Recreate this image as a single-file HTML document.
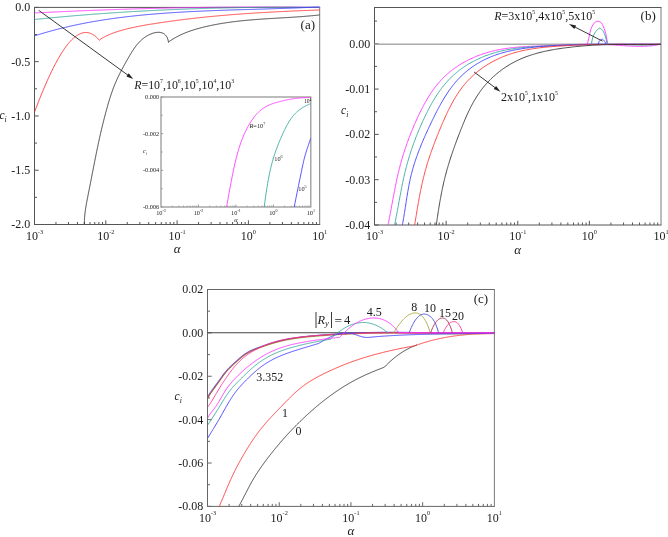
<!DOCTYPE html>
<html><head><meta charset="utf-8"><title>Figure</title>
<style>
html,body{margin:0;padding:0;background:#fff;}
body{width:668px;height:537px;overflow:hidden;}
svg{display:block;}
svg text{font-family:'Liberation Serif', serif;fill:#1a1a1a;}
</style></head><body>
<svg width="668" height="537" viewBox="0 0 668 537">
<rect width="668" height="537" fill="#fff"/>
<defs>
<clipPath id="clipA"><rect x="34.5" y="5.4" width="285.2" height="219.1"/></clipPath>
<clipPath id="clipB"><rect x="374.5" y="5.5" width="286.5" height="219.5"/></clipPath>
<clipPath id="clipC"><rect x="207.5" y="287.5" width="286.9" height="218.9"/></clipPath>
<clipPath id="clipI"><rect x="161" y="97" width="149.8" height="110"/></clipPath>
</defs>
<path d="M34,7.4 H320.2" stroke="#555555" stroke-width="1.0" fill="none"/>
<path d="M34.5,7.4 V224.5" stroke="#555555" stroke-width="1.0" fill="none"/>
<path d="M34,224.5 H320.2" stroke="#555555" stroke-width="1.0" fill="none"/>
<path d="M319.7,7.4 V224.5" stroke="#7a7a7a" stroke-width="1.0" fill="none"/>
<line x1="34.5" y1="7.4" x2="38.7" y2="7.4" stroke="#555555" stroke-width="1.0"/>
<line x1="34.5" y1="34.54" x2="37" y2="34.54" stroke="#555555" stroke-width="1.0"/>
<line x1="34.5" y1="61.67" x2="38.7" y2="61.67" stroke="#555555" stroke-width="1.0"/>
<line x1="34.5" y1="88.81" x2="37" y2="88.81" stroke="#555555" stroke-width="1.0"/>
<line x1="34.5" y1="115.95" x2="38.7" y2="115.95" stroke="#555555" stroke-width="1.0"/>
<line x1="34.5" y1="143.09" x2="37" y2="143.09" stroke="#555555" stroke-width="1.0"/>
<line x1="34.5" y1="170.22" x2="38.7" y2="170.22" stroke="#555555" stroke-width="1.0"/>
<line x1="34.5" y1="197.36" x2="37" y2="197.36" stroke="#555555" stroke-width="1.0"/>
<line x1="34.5" y1="224.5" x2="38.7" y2="224.5" stroke="#555555" stroke-width="1.0"/>
<line x1="55.96" y1="224.5" x2="55.96" y2="222" stroke="#555555" stroke-width="1.0"/>
<line x1="68.52" y1="224.5" x2="68.52" y2="222" stroke="#555555" stroke-width="1.0"/>
<line x1="77.43" y1="224.5" x2="77.43" y2="222" stroke="#555555" stroke-width="1.0"/>
<line x1="84.34" y1="224.5" x2="84.34" y2="222" stroke="#555555" stroke-width="1.0"/>
<line x1="89.98" y1="224.5" x2="89.98" y2="222" stroke="#555555" stroke-width="1.0"/>
<line x1="94.76" y1="224.5" x2="94.76" y2="222" stroke="#555555" stroke-width="1.0"/>
<line x1="98.89" y1="224.5" x2="98.89" y2="222" stroke="#555555" stroke-width="1.0"/>
<line x1="102.54" y1="224.5" x2="102.54" y2="222" stroke="#555555" stroke-width="1.0"/>
<line x1="105.8" y1="224.5" x2="105.8" y2="220.3" stroke="#555555" stroke-width="1.0"/>
<line x1="127.26" y1="224.5" x2="127.26" y2="222" stroke="#555555" stroke-width="1.0"/>
<line x1="139.82" y1="224.5" x2="139.82" y2="222" stroke="#555555" stroke-width="1.0"/>
<line x1="148.73" y1="224.5" x2="148.73" y2="222" stroke="#555555" stroke-width="1.0"/>
<line x1="155.64" y1="224.5" x2="155.64" y2="222" stroke="#555555" stroke-width="1.0"/>
<line x1="161.28" y1="224.5" x2="161.28" y2="222" stroke="#555555" stroke-width="1.0"/>
<line x1="166.06" y1="224.5" x2="166.06" y2="222" stroke="#555555" stroke-width="1.0"/>
<line x1="170.19" y1="224.5" x2="170.19" y2="222" stroke="#555555" stroke-width="1.0"/>
<line x1="173.84" y1="224.5" x2="173.84" y2="222" stroke="#555555" stroke-width="1.0"/>
<line x1="177.1" y1="224.5" x2="177.1" y2="220.3" stroke="#555555" stroke-width="1.0"/>
<line x1="198.56" y1="224.5" x2="198.56" y2="222" stroke="#555555" stroke-width="1.0"/>
<line x1="211.12" y1="224.5" x2="211.12" y2="222" stroke="#555555" stroke-width="1.0"/>
<line x1="220.03" y1="224.5" x2="220.03" y2="222" stroke="#555555" stroke-width="1.0"/>
<line x1="226.94" y1="224.5" x2="226.94" y2="222" stroke="#555555" stroke-width="1.0"/>
<line x1="232.58" y1="224.5" x2="232.58" y2="222" stroke="#555555" stroke-width="1.0"/>
<line x1="237.36" y1="224.5" x2="237.36" y2="222" stroke="#555555" stroke-width="1.0"/>
<line x1="241.49" y1="224.5" x2="241.49" y2="222" stroke="#555555" stroke-width="1.0"/>
<line x1="245.14" y1="224.5" x2="245.14" y2="222" stroke="#555555" stroke-width="1.0"/>
<line x1="248.4" y1="224.5" x2="248.4" y2="220.3" stroke="#555555" stroke-width="1.0"/>
<line x1="269.86" y1="224.5" x2="269.86" y2="222" stroke="#555555" stroke-width="1.0"/>
<line x1="282.42" y1="224.5" x2="282.42" y2="222" stroke="#555555" stroke-width="1.0"/>
<line x1="291.33" y1="224.5" x2="291.33" y2="222" stroke="#555555" stroke-width="1.0"/>
<line x1="298.24" y1="224.5" x2="298.24" y2="222" stroke="#555555" stroke-width="1.0"/>
<line x1="303.88" y1="224.5" x2="303.88" y2="222" stroke="#555555" stroke-width="1.0"/>
<line x1="308.66" y1="224.5" x2="308.66" y2="222" stroke="#555555" stroke-width="1.0"/>
<line x1="312.79" y1="224.5" x2="312.79" y2="222" stroke="#555555" stroke-width="1.0"/>
<line x1="316.44" y1="224.5" x2="316.44" y2="222" stroke="#555555" stroke-width="1.0"/>
<text transform="translate(30.2,11.3) scale(0.952,1)" font-size="12.6" text-anchor="end" >0.0</text>
<text transform="translate(30.2,65.58) scale(0.952,1)" font-size="12.6" text-anchor="end" >-0.5</text>
<text transform="translate(30.2,119.85) scale(0.952,1)" font-size="12.6" text-anchor="end" >-1.0</text>
<text transform="translate(30.2,174.12) scale(0.952,1)" font-size="12.6" text-anchor="end" >-1.5</text>
<text transform="translate(30.2,228.4) scale(0.952,1)" font-size="12.6" text-anchor="end" >-2.0</text>
<path d="M374,7.5 H661.5" stroke="#555555" stroke-width="1.0" fill="none"/>
<path d="M374.5,7.5 V225" stroke="#555555" stroke-width="1.0" fill="none"/>
<path d="M374,225 H661.5" stroke="#555555" stroke-width="1.0" fill="none"/>
<path d="M661,7.5 V225" stroke="#7a7a7a" stroke-width="1.0" fill="none"/>
<line x1="374.5" y1="21.09" x2="377" y2="21.09" stroke="#555555" stroke-width="1.0"/>
<line x1="374.5" y1="43.75" x2="378.7" y2="43.75" stroke="#555555" stroke-width="1.0"/>
<line x1="374.5" y1="66.41" x2="377" y2="66.41" stroke="#555555" stroke-width="1.0"/>
<line x1="374.5" y1="89.06" x2="378.7" y2="89.06" stroke="#555555" stroke-width="1.0"/>
<line x1="374.5" y1="111.72" x2="377" y2="111.72" stroke="#555555" stroke-width="1.0"/>
<line x1="374.5" y1="134.38" x2="378.7" y2="134.38" stroke="#555555" stroke-width="1.0"/>
<line x1="374.5" y1="157.03" x2="377" y2="157.03" stroke="#555555" stroke-width="1.0"/>
<line x1="374.5" y1="179.69" x2="378.7" y2="179.69" stroke="#555555" stroke-width="1.0"/>
<line x1="374.5" y1="202.34" x2="377" y2="202.34" stroke="#555555" stroke-width="1.0"/>
<line x1="374.5" y1="225" x2="378.7" y2="225" stroke="#555555" stroke-width="1.0"/>
<line x1="396.06" y1="225" x2="396.06" y2="222.5" stroke="#555555" stroke-width="1.0"/>
<line x1="408.67" y1="225" x2="408.67" y2="222.5" stroke="#555555" stroke-width="1.0"/>
<line x1="417.62" y1="225" x2="417.62" y2="222.5" stroke="#555555" stroke-width="1.0"/>
<line x1="424.56" y1="225" x2="424.56" y2="222.5" stroke="#555555" stroke-width="1.0"/>
<line x1="430.24" y1="225" x2="430.24" y2="222.5" stroke="#555555" stroke-width="1.0"/>
<line x1="435.03" y1="225" x2="435.03" y2="222.5" stroke="#555555" stroke-width="1.0"/>
<line x1="439.18" y1="225" x2="439.18" y2="222.5" stroke="#555555" stroke-width="1.0"/>
<line x1="442.85" y1="225" x2="442.85" y2="222.5" stroke="#555555" stroke-width="1.0"/>
<line x1="446.12" y1="225" x2="446.12" y2="220.8" stroke="#555555" stroke-width="1.0"/>
<line x1="467.69" y1="225" x2="467.69" y2="222.5" stroke="#555555" stroke-width="1.0"/>
<line x1="480.3" y1="225" x2="480.3" y2="222.5" stroke="#555555" stroke-width="1.0"/>
<line x1="489.25" y1="225" x2="489.25" y2="222.5" stroke="#555555" stroke-width="1.0"/>
<line x1="496.19" y1="225" x2="496.19" y2="222.5" stroke="#555555" stroke-width="1.0"/>
<line x1="501.86" y1="225" x2="501.86" y2="222.5" stroke="#555555" stroke-width="1.0"/>
<line x1="506.66" y1="225" x2="506.66" y2="222.5" stroke="#555555" stroke-width="1.0"/>
<line x1="510.81" y1="225" x2="510.81" y2="222.5" stroke="#555555" stroke-width="1.0"/>
<line x1="514.47" y1="225" x2="514.47" y2="222.5" stroke="#555555" stroke-width="1.0"/>
<line x1="517.75" y1="225" x2="517.75" y2="220.8" stroke="#555555" stroke-width="1.0"/>
<line x1="539.31" y1="225" x2="539.31" y2="222.5" stroke="#555555" stroke-width="1.0"/>
<line x1="551.92" y1="225" x2="551.92" y2="222.5" stroke="#555555" stroke-width="1.0"/>
<line x1="560.87" y1="225" x2="560.87" y2="222.5" stroke="#555555" stroke-width="1.0"/>
<line x1="567.81" y1="225" x2="567.81" y2="222.5" stroke="#555555" stroke-width="1.0"/>
<line x1="573.49" y1="225" x2="573.49" y2="222.5" stroke="#555555" stroke-width="1.0"/>
<line x1="578.28" y1="225" x2="578.28" y2="222.5" stroke="#555555" stroke-width="1.0"/>
<line x1="582.43" y1="225" x2="582.43" y2="222.5" stroke="#555555" stroke-width="1.0"/>
<line x1="586.1" y1="225" x2="586.1" y2="222.5" stroke="#555555" stroke-width="1.0"/>
<line x1="589.38" y1="225" x2="589.38" y2="220.8" stroke="#555555" stroke-width="1.0"/>
<line x1="610.94" y1="225" x2="610.94" y2="222.5" stroke="#555555" stroke-width="1.0"/>
<line x1="623.55" y1="225" x2="623.55" y2="222.5" stroke="#555555" stroke-width="1.0"/>
<line x1="632.5" y1="225" x2="632.5" y2="222.5" stroke="#555555" stroke-width="1.0"/>
<line x1="639.44" y1="225" x2="639.44" y2="222.5" stroke="#555555" stroke-width="1.0"/>
<line x1="645.11" y1="225" x2="645.11" y2="222.5" stroke="#555555" stroke-width="1.0"/>
<line x1="649.91" y1="225" x2="649.91" y2="222.5" stroke="#555555" stroke-width="1.0"/>
<line x1="654.06" y1="225" x2="654.06" y2="222.5" stroke="#555555" stroke-width="1.0"/>
<line x1="657.72" y1="225" x2="657.72" y2="222.5" stroke="#555555" stroke-width="1.0"/>
<text transform="translate(370.3,47.65) scale(0.952,1)" font-size="12.6" text-anchor="end" >0.00</text>
<text transform="translate(370.3,92.96) scale(0.952,1)" font-size="12.6" text-anchor="end" >-0.01</text>
<text transform="translate(370.3,138.28) scale(0.952,1)" font-size="12.6" text-anchor="end" >-0.02</text>
<text transform="translate(370.3,183.59) scale(0.952,1)" font-size="12.6" text-anchor="end" >-0.03</text>
<text transform="translate(370.3,228.9) scale(0.952,1)" font-size="12.6" text-anchor="end" >-0.04</text>
<path d="M207,289.5 H494.9" stroke="#666666" stroke-width="1.0" fill="none"/>
<path d="M207.5,289.5 V506.4" stroke="#666666" stroke-width="1.0" fill="none"/>
<path d="M207,506.4 H494.9" stroke="#666666" stroke-width="1.0" fill="none"/>
<path d="M494.4,289.5 V506.4" stroke="#7a7a7a" stroke-width="1.0" fill="none"/>
<line x1="207.5" y1="289.5" x2="211.7" y2="289.5" stroke="#666666" stroke-width="1.0"/>
<line x1="207.5" y1="311.19" x2="210" y2="311.19" stroke="#666666" stroke-width="1.0"/>
<line x1="207.5" y1="332.88" x2="211.7" y2="332.88" stroke="#666666" stroke-width="1.0"/>
<line x1="207.5" y1="354.57" x2="210" y2="354.57" stroke="#666666" stroke-width="1.0"/>
<line x1="207.5" y1="376.26" x2="211.7" y2="376.26" stroke="#666666" stroke-width="1.0"/>
<line x1="207.5" y1="397.95" x2="210" y2="397.95" stroke="#666666" stroke-width="1.0"/>
<line x1="207.5" y1="419.64" x2="211.7" y2="419.64" stroke="#666666" stroke-width="1.0"/>
<line x1="207.5" y1="441.33" x2="210" y2="441.33" stroke="#666666" stroke-width="1.0"/>
<line x1="207.5" y1="463.02" x2="211.7" y2="463.02" stroke="#666666" stroke-width="1.0"/>
<line x1="207.5" y1="484.71" x2="210" y2="484.71" stroke="#666666" stroke-width="1.0"/>
<line x1="207.5" y1="506.4" x2="211.7" y2="506.4" stroke="#666666" stroke-width="1.0"/>
<line x1="229.09" y1="506.4" x2="229.09" y2="503.9" stroke="#666666" stroke-width="1.0"/>
<line x1="241.72" y1="506.4" x2="241.72" y2="503.9" stroke="#666666" stroke-width="1.0"/>
<line x1="250.68" y1="506.4" x2="250.68" y2="503.9" stroke="#666666" stroke-width="1.0"/>
<line x1="257.63" y1="506.4" x2="257.63" y2="503.9" stroke="#666666" stroke-width="1.0"/>
<line x1="263.31" y1="506.4" x2="263.31" y2="503.9" stroke="#666666" stroke-width="1.0"/>
<line x1="268.11" y1="506.4" x2="268.11" y2="503.9" stroke="#666666" stroke-width="1.0"/>
<line x1="272.27" y1="506.4" x2="272.27" y2="503.9" stroke="#666666" stroke-width="1.0"/>
<line x1="275.94" y1="506.4" x2="275.94" y2="503.9" stroke="#666666" stroke-width="1.0"/>
<line x1="279.23" y1="506.4" x2="279.23" y2="502.2" stroke="#666666" stroke-width="1.0"/>
<line x1="300.82" y1="506.4" x2="300.82" y2="503.9" stroke="#666666" stroke-width="1.0"/>
<line x1="313.45" y1="506.4" x2="313.45" y2="503.9" stroke="#666666" stroke-width="1.0"/>
<line x1="322.41" y1="506.4" x2="322.41" y2="503.9" stroke="#666666" stroke-width="1.0"/>
<line x1="329.36" y1="506.4" x2="329.36" y2="503.9" stroke="#666666" stroke-width="1.0"/>
<line x1="335.04" y1="506.4" x2="335.04" y2="503.9" stroke="#666666" stroke-width="1.0"/>
<line x1="339.84" y1="506.4" x2="339.84" y2="503.9" stroke="#666666" stroke-width="1.0"/>
<line x1="344" y1="506.4" x2="344" y2="503.9" stroke="#666666" stroke-width="1.0"/>
<line x1="347.67" y1="506.4" x2="347.67" y2="503.9" stroke="#666666" stroke-width="1.0"/>
<line x1="350.95" y1="506.4" x2="350.95" y2="502.2" stroke="#666666" stroke-width="1.0"/>
<line x1="372.54" y1="506.4" x2="372.54" y2="503.9" stroke="#666666" stroke-width="1.0"/>
<line x1="385.17" y1="506.4" x2="385.17" y2="503.9" stroke="#666666" stroke-width="1.0"/>
<line x1="394.13" y1="506.4" x2="394.13" y2="503.9" stroke="#666666" stroke-width="1.0"/>
<line x1="401.08" y1="506.4" x2="401.08" y2="503.9" stroke="#666666" stroke-width="1.0"/>
<line x1="406.76" y1="506.4" x2="406.76" y2="503.9" stroke="#666666" stroke-width="1.0"/>
<line x1="411.56" y1="506.4" x2="411.56" y2="503.9" stroke="#666666" stroke-width="1.0"/>
<line x1="415.72" y1="506.4" x2="415.72" y2="503.9" stroke="#666666" stroke-width="1.0"/>
<line x1="419.39" y1="506.4" x2="419.39" y2="503.9" stroke="#666666" stroke-width="1.0"/>
<line x1="422.67" y1="506.4" x2="422.67" y2="502.2" stroke="#666666" stroke-width="1.0"/>
<line x1="444.27" y1="506.4" x2="444.27" y2="503.9" stroke="#666666" stroke-width="1.0"/>
<line x1="456.9" y1="506.4" x2="456.9" y2="503.9" stroke="#666666" stroke-width="1.0"/>
<line x1="465.86" y1="506.4" x2="465.86" y2="503.9" stroke="#666666" stroke-width="1.0"/>
<line x1="472.81" y1="506.4" x2="472.81" y2="503.9" stroke="#666666" stroke-width="1.0"/>
<line x1="478.49" y1="506.4" x2="478.49" y2="503.9" stroke="#666666" stroke-width="1.0"/>
<line x1="483.29" y1="506.4" x2="483.29" y2="503.9" stroke="#666666" stroke-width="1.0"/>
<line x1="487.45" y1="506.4" x2="487.45" y2="503.9" stroke="#666666" stroke-width="1.0"/>
<line x1="491.12" y1="506.4" x2="491.12" y2="503.9" stroke="#666666" stroke-width="1.0"/>
<text transform="translate(203.3,293.4) scale(0.952,1)" font-size="12.6" text-anchor="end" >0.02</text>
<text transform="translate(203.3,336.78) scale(0.952,1)" font-size="12.6" text-anchor="end" >0.00</text>
<text transform="translate(203.3,380.16) scale(0.952,1)" font-size="12.6" text-anchor="end" >-0.02</text>
<text transform="translate(203.3,423.54) scale(0.952,1)" font-size="12.6" text-anchor="end" >-0.04</text>
<text transform="translate(203.3,466.92) scale(0.952,1)" font-size="12.6" text-anchor="end" >-0.06</text>
<text transform="translate(203.3,510.3) scale(0.952,1)" font-size="12.6" text-anchor="end" >-0.08</text>
<text transform="translate(34.5,240.2) scale(0.952,1)" font-size="12.6" text-anchor="middle" >10<tspan baseline-shift="6.2" font-size="6.6">-3</tspan></text>
<text transform="translate(105.8,240.2) scale(0.952,1)" font-size="12.6" text-anchor="middle" >10<tspan baseline-shift="6.2" font-size="6.6">-2</tspan></text>
<text transform="translate(177.1,240.2) scale(0.952,1)" font-size="12.6" text-anchor="middle" >10<tspan baseline-shift="6.2" font-size="6.6">-1</tspan></text>
<text transform="translate(248.4,240.2) scale(0.952,1)" font-size="12.6" text-anchor="middle" >10<tspan baseline-shift="6.2" font-size="6.6">0</tspan></text>
<text transform="translate(319.7,240.2) scale(0.952,1)" font-size="12.6" text-anchor="middle" >10<tspan baseline-shift="6.2" font-size="6.6">1</tspan></text>
<text x="177.1" y="253.1" font-size="13" text-anchor="middle" font-style="italic" >&#945;</text>
<text transform="translate(374.5,240.4) scale(0.952,1)" font-size="12.6" text-anchor="middle" >10<tspan baseline-shift="6.2" font-size="6.6">-3</tspan></text>
<text transform="translate(446.12,240.4) scale(0.952,1)" font-size="12.6" text-anchor="middle" >10<tspan baseline-shift="6.2" font-size="6.6">-2</tspan></text>
<text transform="translate(517.75,240.4) scale(0.952,1)" font-size="12.6" text-anchor="middle" >10<tspan baseline-shift="6.2" font-size="6.6">-1</tspan></text>
<text transform="translate(589.38,240.4) scale(0.952,1)" font-size="12.6" text-anchor="middle" >10<tspan baseline-shift="6.2" font-size="6.6">0</tspan></text>
<text transform="translate(661,240.4) scale(0.952,1)" font-size="12.6" text-anchor="middle" >10<tspan baseline-shift="6.2" font-size="6.6">1</tspan></text>
<text x="517.75" y="253.6" font-size="13" text-anchor="middle" font-style="italic" >&#945;</text>
<text transform="translate(207.5,521.5) scale(0.952,1)" font-size="12.6" text-anchor="middle" >10<tspan baseline-shift="6.2" font-size="6.6">-3</tspan></text>
<text transform="translate(279.23,521.5) scale(0.952,1)" font-size="12.6" text-anchor="middle" >10<tspan baseline-shift="6.2" font-size="6.6">-2</tspan></text>
<text transform="translate(350.95,521.5) scale(0.952,1)" font-size="12.6" text-anchor="middle" >10<tspan baseline-shift="6.2" font-size="6.6">-1</tspan></text>
<text transform="translate(422.67,521.5) scale(0.952,1)" font-size="12.6" text-anchor="middle" >10<tspan baseline-shift="6.2" font-size="6.6">0</tspan></text>
<text transform="translate(494.4,521.5) scale(0.952,1)" font-size="12.6" text-anchor="middle" >10<tspan baseline-shift="6.2" font-size="6.6">1</tspan></text>
<text x="350.95" y="535" font-size="13" text-anchor="middle" font-style="italic" >&#945;</text>
<text x="-0.5" y="118.9" font-size="11.5" font-style="italic">c<tspan baseline-shift="-3.2" font-size="7.8">i</tspan></text>
<text x="341.1" y="113.7" font-size="11.5" font-style="italic">c<tspan baseline-shift="-3.2" font-size="7.8">i</tspan></text>
<text x="174.6" y="400.3" font-size="11.5" font-style="italic">c<tspan baseline-shift="-3.2" font-size="7.8">i</tspan></text>
<text x="300.6" y="28.7" font-size="13" text-anchor="start" >(a)</text>
<text x="640.6" y="20.4" font-size="13" text-anchor="start" >(b)</text>
<text x="473.7" y="302.5" font-size="13" text-anchor="start" >(c)</text>
<g clip-path="url(#clipA)">
<path d="M34.5,12.96 L35.17,12.93 L35.84,12.89 L36.51,12.86 L37.18,12.83 L37.85,12.79 L38.52,12.76 L39.19,12.73 L39.86,12.69 L40.53,12.66 L41.19,12.63 L41.86,12.59 L42.53,12.56 L43.2,12.53 L43.87,12.5 L44.54,12.46 L45.21,12.43 L45.88,12.4 L46.55,12.37 L47.22,12.33 L47.89,12.3 L48.56,12.27 L49.23,12.24 L49.9,12.21 L50.57,12.18 L51.24,12.14 L51.91,12.11 L52.58,12.08 L53.25,12.05 L53.92,12.02 L54.58,11.99 L55.25,11.96 L55.92,11.92 L56.59,11.89 L57.26,11.86 L57.93,11.83 L58.6,11.8 L59.27,11.77 L59.94,11.74 L60.61,11.71 L61.28,11.68 L61.95,11.65 L62.62,11.62 L63.29,11.59 L63.96,11.56 L64.63,11.53 L65.3,11.5 L65.97,11.47 L66.64,11.44 L67.3,11.41 L67.97,11.38 L68.64,11.35 L69.31,11.32 L69.98,11.29 L70.65,11.26 L71.32,11.24 L71.99,11.21 L72.66,11.18 L73.33,11.15 L74,11.12 L74.67,11.09 L75.34,11.06 L76.01,11.04 L76.68,11.01 L77.35,10.98 L78.02,10.95 L78.69,10.92 L79.36,10.9 L80.02,10.87 L80.69,10.84 L81.36,10.81 L82.03,10.78 L82.7,10.76 L83.37,10.73 L84.04,10.7 L84.71,10.68 L85.38,10.65 L86.05,10.62 L86.72,10.6 L87.39,10.57 L88.06,10.54 L88.73,10.52 L89.4,10.49 L90.07,10.46 L90.74,10.44 L91.41,10.41 L92.08,10.38 L92.75,10.36 L93.41,10.33 L94.08,10.31 L94.75,10.28 L95.42,10.25 L96.09,10.23 L96.76,10.2 L97.43,10.18 L98.1,10.15 L98.77,10.13 L99.44,10.1 L100.11,10.08 L100.78,10.05 L101.45,10.03 L102.12,10 L102.79,9.98 L103.46,9.95 L104.13,9.93 L104.8,9.91 L105.47,9.88 L106.13,9.86 L106.8,9.83 L107.47,9.81 L108.14,9.79 L108.81,9.76 L109.48,9.74 L110.15,9.72 L110.82,9.69 L111.49,9.67 L112.16,9.65 L112.83,9.62 L113.5,9.6 L114.17,9.58 L114.84,9.55 L115.51,9.53 L116.18,9.51 L116.85,9.49 L117.52,9.46 L118.19,9.44 L118.85,9.42 L119.52,9.4 L120.19,9.37 L120.86,9.35 L121.53,9.33 L122.2,9.31 L122.87,9.29 L123.54,9.26 L124.21,9.24 L124.88,9.22 L125.55,9.2 L126.22,9.18 L126.89,9.16 L127.56,9.14 L128.23,9.12 L128.9,9.1 L129.57,9.07 L130.24,9.05 L130.91,9.03 L131.58,9.01 L132.24,8.99 L132.91,8.97 L133.58,8.95 L134.25,8.93 L134.92,8.91 L135.59,8.89 L136.26,8.87 L136.93,8.85 L137.6,8.83 L138.27,8.81 L138.94,8.8 L139.61,8.78 L140.28,8.76 L140.95,8.74 L141.62,8.72 L142.29,8.7 L142.96,8.68 L143.63,8.66 L144.3,8.64 L144.96,8.63 L145.63,8.61 L146.3,8.59 L146.97,8.57 L147.64,8.55 L148.31,8.53 L148.98,8.52 L149.65,8.5 L150.32,8.48 L150.99,8.46 L151.66,8.45 L152.33,8.43 L153,8.41 L153.67,8.39 L154.34,8.38 L155.01,8.36 L155.68,8.34 L156.35,8.33 L157.02,8.31 L157.68,8.29 L158.35,8.28 L159.02,8.26 L159.69,8.24 L160.36,8.23 L161.03,8.21 L161.7,8.2 L162.37,8.18 L163.04,8.17 L163.71,8.15 L164.38,8.13 L165.05,8.12 L165.72,8.1 L166.39,8.09 L167.06,8.07 L167.73,8.06 L168.4,8.04 L169.07,8.03 L169.74,8.01 L170.41,8 L171.07,7.98 L171.74,7.97 L172.41,7.96 L173.08,7.94 L173.75,7.93 L174.42,7.91 L175.09,7.9 L175.76,7.89 L176.43,7.87 L177.1,7.86 L177.77,7.84 L178.44,7.83 L179.11,7.82 L179.78,7.8 L180.45,7.79 L181.12,7.78 L181.79,7.77 L182.46,7.75 L183.13,7.74 L183.79,7.73 L184.46,7.72 L185.13,7.7 L185.8,7.69 L186.47,7.68 L187.14,7.67 L187.81,7.65 L188.48,7.64 L189.15,7.63 L189.82,7.62 L190.49,7.61 L191.16,7.6 L191.83,7.58 L192.5,7.57 L193.17,7.56 L193.84,7.55 L194.51,7.54 L195.18,7.53 L195.85,7.52 L196.52,7.51 L197.18,7.5 L197.85,7.49 L198.52,7.48 L199.19,7.47 L199.86,7.46 L200.53,7.45 L201.2,7.44 L201.87,7.43 L202.54,7.42 L203.21,7.41 L203.88,7.4 L204.55,7.39 L205.22,7.38 L205.89,7.37 L206.56,7.36 L207.23,7.35 L207.9,7.34 L208.57,7.34 L209.24,7.33 L209.9,7.32 L210.57,7.31 L211.24,7.3 L211.91,7.29 L212.58,7.29 L213.25,7.28 L213.92,7.27 L214.59,7.26 L215.26,7.25 L215.93,7.25 L216.6,7.24 L217.27,7.23 L217.94,7.23 L218.61,7.22 L219.28,7.21 L219.95,7.2 L220.62,7.2 L221.29,7.19 L221.96,7.18 L222.62,7.18 L223.29,7.17 L223.96,7.17 L224.63,7.16 L225.3,7.15 L225.97,7.15 L226.64,7.14 L227.31,7.14 L227.98,7.13 L228.65,7.13 L229.32,7.12 L229.99,7.11 L230.66,7.11 L231.33,7.1 L232,7.1 L232.67,7.09 L233.34,7.09 L234.01,7.09 L234.68,7.08 L235.35,7.08 L236.01,7.07 L236.68,7.07 L237.35,7.06 L238.02,7.06 L238.69,7.06 L239.36,7.05 L240.03,7.05 L240.7,7.05 L241.37,7.04 L242.04,7.04 L242.71,7.04 L243.38,7.03 L244.05,7.03 L244.72,7.03 L245.39,7.02 L246.06,7.02 L246.73,7.02 L247.4,7.02 L248.07,7.01 L248.73,7.01 L249.4,7.01 L250.07,7.01 L250.74,7.01 L251.41,7 L252.08,7 L252.75,7 L253.42,7 L254.09,7 L254.76,7 L255.43,7 L256.1,6.99 L256.77,6.99 L257.44,6.99 L258.11,6.99 L258.78,6.99 L259.45,6.99 L260.12,6.99 L260.79,6.99 L261.45,6.99 L262.12,6.99 L262.79,6.99 L263.46,6.99 L264.13,6.99 L264.8,6.99 L265.47,6.99 L266.14,6.99 L266.81,6.99 L267.48,7 L268.15,7 L268.82,7 L269.49,7 L270.16,7 L270.83,7 L271.5,7 L272.17,7.01 L272.84,7.01 L273.51,7.01 L274.18,7.01 L274.84,7.01 L275.51,7.02 L276.18,7.02 L276.85,7.02 L277.52,7.02 L278.19,7.03 L278.86,7.03 L279.53,7.03 L280.2,7.03 L280.87,7.04 L281.54,7.04 L282.21,7.04 L282.88,7.05 L283.55,7.05 L284.22,7.06 L284.89,7.06 L285.56,7.06 L286.23,7.07 L286.9,7.07 L287.56,7.08 L288.23,7.08 L288.9,7.09 L289.57,7.09 L290.24,7.09 L290.91,7.1 L291.58,7.1 L292.25,7.11 L292.92,7.12 L293.59,7.12 L294.26,7.13 L294.93,7.13 L295.6,7.14 L296.27,7.14 L296.94,7.15 L297.61,7.16 L298.28,7.16 L298.95,7.17 L299.62,7.17 L300.28,7.18 L300.95,7.19 L301.62,7.19 L302.29,7.2 L302.96,7.21 L303.63,7.22 L304.3,7.22 L304.97,7.23 L305.64,7.24 L306.31,7.24 L306.98,7.25 L307.65,7.26 L308.32,7.27 L308.99,7.28 L309.66,7.28 L310.33,7.29 L311,7.3 L311.67,7.31 L312.34,7.32 L313.01,7.33 L313.67,7.34 L314.34,7.34 L315.01,7.35 L315.68,7.36 L316.35,7.37 L317.02,7.38 L317.69,7.39 L318.36,7.4 L319.03,7.41 L319.7,7.42" fill="none" stroke="#ff33ff" stroke-width="0.9" stroke-linejoin="round" />
<path d="M34.5,19.5 L35.17,19.43 L35.84,19.36 L36.51,19.29 L37.18,19.23 L37.85,19.16 L38.52,19.09 L39.19,19.02 L39.86,18.95 L40.53,18.89 L41.19,18.82 L41.86,18.75 L42.53,18.69 L43.2,18.62 L43.87,18.55 L44.54,18.49 L45.21,18.42 L45.88,18.35 L46.55,18.29 L47.22,18.22 L47.89,18.16 L48.56,18.09 L49.23,18.03 L49.9,17.96 L50.57,17.9 L51.24,17.84 L51.91,17.77 L52.58,17.71 L53.25,17.65 L53.92,17.58 L54.58,17.52 L55.25,17.46 L55.92,17.39 L56.59,17.33 L57.26,17.27 L57.93,17.21 L58.6,17.15 L59.27,17.08 L59.94,17.02 L60.61,16.96 L61.28,16.9 L61.95,16.84 L62.62,16.78 L63.29,16.72 L63.96,16.66 L64.63,16.6 L65.3,16.54 L65.97,16.48 L66.64,16.42 L67.3,16.36 L67.97,16.31 L68.64,16.25 L69.31,16.19 L69.98,16.13 L70.65,16.07 L71.32,16.01 L71.99,15.96 L72.66,15.9 L73.33,15.84 L74,15.79 L74.67,15.73 L75.34,15.67 L76.01,15.62 L76.68,15.56 L77.35,15.51 L78.02,15.45 L78.69,15.39 L79.36,15.34 L80.02,15.28 L80.69,15.23 L81.36,15.18 L82.03,15.12 L82.7,15.07 L83.37,15.01 L84.04,14.96 L84.71,14.91 L85.38,14.85 L86.05,14.8 L86.72,14.75 L87.39,14.69 L88.06,14.64 L88.73,14.59 L89.4,14.54 L90.07,14.49 L90.74,14.43 L91.41,14.38 L92.08,14.33 L92.75,14.28 L93.41,14.23 L94.08,14.18 L94.75,14.13 L95.42,14.08 L96.09,14.03 L96.76,13.98 L97.43,13.93 L98.1,13.88 L98.77,13.83 L99.44,13.78 L100.11,13.73 L100.78,13.68 L101.45,13.63 L102.12,13.59 L102.79,13.54 L103.46,13.49 L104.13,13.44 L104.8,13.4 L105.47,13.35 L106.13,13.3 L106.8,13.25 L107.47,13.21 L108.14,13.16 L108.81,13.11 L109.48,13.07 L110.15,13.02 L110.82,12.98 L111.49,12.93 L112.16,12.89 L112.83,12.84 L113.5,12.8 L114.17,12.75 L114.84,12.71 L115.51,12.66 L116.18,12.62 L116.85,12.58 L117.52,12.53 L118.19,12.49 L118.85,12.45 L119.52,12.4 L120.19,12.36 L120.86,12.32 L121.53,12.27 L122.2,12.23 L122.87,12.19 L123.54,12.15 L124.21,12.11 L124.88,12.06 L125.55,12.02 L126.22,11.98 L126.89,11.94 L127.56,11.9 L128.23,11.86 L128.9,11.82 L129.57,11.78 L130.24,11.74 L130.91,11.7 L131.58,11.66 L132.24,11.62 L132.91,11.58 L133.58,11.54 L134.25,11.5 L134.92,11.46 L135.59,11.43 L136.26,11.39 L136.93,11.35 L137.6,11.31 L138.27,11.27 L138.94,11.24 L139.61,11.2 L140.28,11.16 L140.95,11.13 L141.62,11.09 L142.29,11.05 L142.96,11.02 L143.63,10.98 L144.3,10.94 L144.96,10.91 L145.63,10.87 L146.3,10.84 L146.97,10.8 L147.64,10.77 L148.31,10.73 L148.98,10.7 L149.65,10.66 L150.32,10.63 L150.99,10.59 L151.66,10.56 L152.33,10.53 L153,10.49 L153.67,10.46 L154.34,10.43 L155.01,10.39 L155.68,10.36 L156.35,10.33 L157.02,10.3 L157.68,10.26 L158.35,10.23 L159.02,10.2 L159.69,10.17 L160.36,10.14 L161.03,10.1 L161.7,10.07 L162.37,10.04 L163.04,10.01 L163.71,9.98 L164.38,9.95 L165.05,9.92 L165.72,9.89 L166.39,9.86 L167.06,9.83 L167.73,9.8 L168.4,9.77 L169.07,9.74 L169.74,9.71 L170.41,9.68 L171.07,9.66 L171.74,9.63 L172.41,9.6 L173.08,9.57 L173.75,9.54 L174.42,9.52 L175.09,9.49 L175.76,9.46 L176.43,9.43 L177.1,9.41 L177.77,9.38 L178.44,9.35 L179.11,9.33 L179.78,9.3 L180.45,9.27 L181.12,9.25 L181.79,9.22 L182.46,9.2 L183.13,9.17 L183.79,9.15 L184.46,9.12 L185.13,9.1 L185.8,9.07 L186.47,9.05 L187.14,9.02 L187.81,9 L188.48,8.97 L189.15,8.95 L189.82,8.93 L190.49,8.9 L191.16,8.88 L191.83,8.86 L192.5,8.83 L193.17,8.81 L193.84,8.79 L194.51,8.77 L195.18,8.74 L195.85,8.72 L196.52,8.7 L197.18,8.68 L197.85,8.66 L198.52,8.63 L199.19,8.61 L199.86,8.59 L200.53,8.57 L201.2,8.55 L201.87,8.53 L202.54,8.51 L203.21,8.49 L203.88,8.47 L204.55,8.45 L205.22,8.43 L205.89,8.41 L206.56,8.39 L207.23,8.37 L207.9,8.35 L208.57,8.33 L209.24,8.31 L209.9,8.3 L210.57,8.28 L211.24,8.26 L211.91,8.24 L212.58,8.22 L213.25,8.21 L213.92,8.19 L214.59,8.17 L215.26,8.15 L215.93,8.14 L216.6,8.12 L217.27,8.1 L217.94,8.09 L218.61,8.07 L219.28,8.05 L219.95,8.04 L220.62,8.02 L221.29,8.01 L221.96,7.99 L222.62,7.98 L223.29,7.96 L223.96,7.95 L224.63,7.93 L225.3,7.92 L225.97,7.9 L226.64,7.89 L227.31,7.87 L227.98,7.86 L228.65,7.85 L229.32,7.83 L229.99,7.82 L230.66,7.8 L231.33,7.79 L232,7.78 L232.67,7.77 L233.34,7.75 L234.01,7.74 L234.68,7.73 L235.35,7.72 L236.01,7.7 L236.68,7.69 L237.35,7.68 L238.02,7.67 L238.69,7.66 L239.36,7.64 L240.03,7.63 L240.7,7.62 L241.37,7.61 L242.04,7.6 L242.71,7.59 L243.38,7.58 L244.05,7.57 L244.72,7.56 L245.39,7.55 L246.06,7.54 L246.73,7.53 L247.4,7.52 L248.07,7.51 L248.73,7.5 L249.4,7.49 L250.07,7.49 L250.74,7.48 L251.41,7.47 L252.08,7.46 L252.75,7.45 L253.42,7.44 L254.09,7.44 L254.76,7.43 L255.43,7.42 L256.1,7.41 L256.77,7.41 L257.44,7.4 L258.11,7.39 L258.78,7.39 L259.45,7.38 L260.12,7.37 L260.79,7.37 L261.45,7.36 L262.12,7.35 L262.79,7.35 L263.46,7.34 L264.13,7.34 L264.8,7.33 L265.47,7.33 L266.14,7.32 L266.81,7.32 L267.48,7.31 L268.15,7.31 L268.82,7.3 L269.49,7.3 L270.16,7.29 L270.83,7.29 L271.5,7.29 L272.17,7.28 L272.84,7.28 L273.51,7.28 L274.18,7.27 L274.84,7.27 L275.51,7.27 L276.18,7.26 L276.85,7.26 L277.52,7.26 L278.19,7.26 L278.86,7.25 L279.53,7.25 L280.2,7.25 L280.87,7.25 L281.54,7.25 L282.21,7.25 L282.88,7.24 L283.55,7.24 L284.22,7.24 L284.89,7.24 L285.56,7.24 L286.23,7.24 L286.9,7.24 L287.56,7.24 L288.23,7.24 L288.9,7.24 L289.57,7.24 L290.24,7.24 L290.91,7.24 L291.58,7.24 L292.25,7.24 L292.92,7.24 L293.59,7.24 L294.26,7.24 L294.93,7.25 L295.6,7.25 L296.27,7.25 L296.94,7.25 L297.61,7.25 L298.28,7.25 L298.95,7.26 L299.62,7.26 L300.28,7.26 L300.95,7.26 L301.62,7.27 L302.29,7.27 L302.96,7.27 L303.63,7.28 L304.3,7.28 L304.97,7.28 L305.64,7.29 L306.31,7.29 L306.98,7.29 L307.65,7.3 L308.32,7.3 L308.99,7.31 L309.66,7.31 L310.33,7.31 L311,7.32 L311.67,7.32 L312.34,7.33 L313.01,7.33 L313.67,7.34 L314.34,7.34 L315.01,7.35 L315.68,7.36 L316.35,7.36 L317.02,7.37 L317.69,7.37 L318.36,7.38 L319.03,7.39 L319.7,7.39" fill="none" stroke="#33a89c" stroke-width="0.9" stroke-linejoin="round" />
<path d="M34.5,35.87 L35.17,35.65 L35.84,35.44 L36.51,35.23 L37.18,35.02 L37.85,34.82 L38.52,34.61 L39.19,34.4 L39.86,34.2 L40.53,34 L41.19,33.8 L41.86,33.6 L42.53,33.4 L43.2,33.2 L43.87,33 L44.54,32.81 L45.21,32.61 L45.88,32.42 L46.55,32.23 L47.22,32.04 L47.89,31.85 L48.56,31.66 L49.23,31.48 L49.9,31.29 L50.57,31.11 L51.24,30.92 L51.91,30.74 L52.58,30.56 L53.25,30.38 L53.92,30.2 L54.58,30.03 L55.25,29.85 L55.92,29.68 L56.59,29.5 L57.26,29.33 L57.93,29.16 L58.6,28.99 L59.27,28.82 L59.94,28.65 L60.61,28.48 L61.28,28.32 L61.95,28.15 L62.62,27.99 L63.29,27.83 L63.96,27.67 L64.63,27.5 L65.3,27.35 L65.97,27.19 L66.64,27.03 L67.3,26.87 L67.97,26.72 L68.64,26.57 L69.31,26.41 L69.98,26.26 L70.65,26.11 L71.32,25.96 L71.99,25.81 L72.66,25.66 L73.33,25.52 L74,25.37 L74.67,25.23 L75.34,25.08 L76.01,24.94 L76.68,24.8 L77.35,24.66 L78.02,24.52 L78.69,24.38 L79.36,24.24 L80.02,24.11 L80.69,23.97 L81.36,23.84 L82.03,23.7 L82.7,23.57 L83.37,23.44 L84.04,23.31 L84.71,23.18 L85.38,23.05 L86.05,22.92 L86.72,22.8 L87.39,22.67 L88.06,22.54 L88.73,22.42 L89.4,22.3 L90.07,22.18 L90.74,22.05 L91.41,21.93 L92.08,21.81 L92.75,21.7 L93.41,21.58 L94.08,21.46 L94.75,21.34 L95.42,21.23 L96.09,21.12 L96.76,21 L97.43,20.89 L98.1,20.78 L98.77,20.67 L99.44,20.56 L100.11,20.45 L100.78,20.34 L101.45,20.23 L102.12,20.13 L102.79,20.02 L103.46,19.92 L104.13,19.81 L104.8,19.71 L105.47,19.61 L106.13,19.5 L106.8,19.4 L107.47,19.3 L108.14,19.2 L108.81,19.11 L109.48,19.01 L110.15,18.91 L110.82,18.81 L111.49,18.72 L112.16,18.62 L112.83,18.53 L113.5,18.44 L114.17,18.35 L114.84,18.25 L115.51,18.16 L116.18,18.07 L116.85,17.98 L117.52,17.9 L118.19,17.81 L118.85,17.72 L119.52,17.63 L120.19,17.55 L120.86,17.46 L121.53,17.38 L122.2,17.3 L122.87,17.21 L123.54,17.13 L124.21,17.05 L124.88,16.97 L125.55,16.89 L126.22,16.81 L126.89,16.73 L127.56,16.65 L128.23,16.57 L128.9,16.5 L129.57,16.42 L130.24,16.34 L130.91,16.27 L131.58,16.2 L132.24,16.12 L132.91,16.05 L133.58,15.98 L134.25,15.9 L134.92,15.83 L135.59,15.76 L136.26,15.69 L136.93,15.62 L137.6,15.55 L138.27,15.49 L138.94,15.42 L139.61,15.35 L140.28,15.28 L140.95,15.22 L141.62,15.15 L142.29,15.09 L142.96,15.02 L143.63,14.96 L144.3,14.9 L144.96,14.83 L145.63,14.77 L146.3,14.71 L146.97,14.65 L147.64,14.59 L148.31,14.53 L148.98,14.47 L149.65,14.41 L150.32,14.35 L150.99,14.29 L151.66,14.24 L152.33,14.18 L153,14.12 L153.67,14.07 L154.34,14.01 L155.01,13.96 L155.68,13.9 L156.35,13.85 L157.02,13.79 L157.68,13.74 L158.35,13.69 L159.02,13.64 L159.69,13.58 L160.36,13.53 L161.03,13.48 L161.7,13.43 L162.37,13.38 L163.04,13.33 L163.71,13.28 L164.38,13.23 L165.05,13.19 L165.72,13.14 L166.39,13.09 L167.06,13.04 L167.73,13 L168.4,12.95 L169.07,12.9 L169.74,12.86 L170.41,12.81 L171.07,12.77 L171.74,12.72 L172.41,12.68 L173.08,12.64 L173.75,12.59 L174.42,12.55 L175.09,12.51 L175.76,12.47 L176.43,12.43 L177.1,12.39 L177.77,12.34 L178.44,12.3 L179.11,12.26 L179.78,12.22 L180.45,12.18 L181.12,12.15 L181.79,12.11 L182.46,12.07 L183.13,12.03 L183.79,11.99 L184.46,11.96 L185.13,11.92 L185.8,11.88 L186.47,11.85 L187.14,11.81 L187.81,11.77 L188.48,11.74 L189.15,11.7 L189.82,11.67 L190.49,11.64 L191.16,11.6 L191.83,11.57 L192.5,11.53 L193.17,11.5 L193.84,11.47 L194.51,11.44 L195.18,11.4 L195.85,11.37 L196.52,11.34 L197.18,11.31 L197.85,11.28 L198.52,11.25 L199.19,11.21 L199.86,11.18 L200.53,11.15 L201.2,11.12 L201.87,11.09 L202.54,11.07 L203.21,11.04 L203.88,11.01 L204.55,10.98 L205.22,10.95 L205.89,10.92 L206.56,10.89 L207.23,10.87 L207.9,10.84 L208.57,10.81 L209.24,10.78 L209.9,10.76 L210.57,10.73 L211.24,10.7 L211.91,10.68 L212.58,10.65 L213.25,10.63 L213.92,10.6 L214.59,10.58 L215.26,10.55 L215.93,10.52 L216.6,10.5 L217.27,10.48 L217.94,10.45 L218.61,10.43 L219.28,10.4 L219.95,10.38 L220.62,10.35 L221.29,10.33 L221.96,10.31 L222.62,10.28 L223.29,10.26 L223.96,10.24 L224.63,10.21 L225.3,10.19 L225.97,10.17 L226.64,10.15 L227.31,10.12 L227.98,10.1 L228.65,10.08 L229.32,10.06 L229.99,10.04 L230.66,10.01 L231.33,9.99 L232,9.97 L232.67,9.95 L233.34,9.93 L234.01,9.91 L234.68,9.89 L235.35,9.87 L236.01,9.84 L236.68,9.82 L237.35,9.8 L238.02,9.78 L238.69,9.76 L239.36,9.74 L240.03,9.72 L240.7,9.7 L241.37,9.68 L242.04,9.66 L242.71,9.64 L243.38,9.62 L244.05,9.6 L244.72,9.58 L245.39,9.56 L246.06,9.54 L246.73,9.52 L247.4,9.5 L248.07,9.48 L248.73,9.46 L249.4,9.44 L250.07,9.42 L250.74,9.4 L251.41,9.38 L252.08,9.36 L252.75,9.34 L253.42,9.32 L254.09,9.3 L254.76,9.28 L255.43,9.26 L256.1,9.24 L256.77,9.22 L257.44,9.2 L258.11,9.18 L258.78,9.17 L259.45,9.15 L260.12,9.13 L260.79,9.11 L261.45,9.09 L262.12,9.07 L262.79,9.05 L263.46,9.03 L264.13,9.01 L264.8,8.99 L265.47,8.97 L266.14,8.95 L266.81,8.93 L267.48,8.91 L268.15,8.89 L268.82,8.87 L269.49,8.85 L270.16,8.82 L270.83,8.8 L271.5,8.78 L272.17,8.76 L272.84,8.74 L273.51,8.72 L274.18,8.7 L274.84,8.68 L275.51,8.66 L276.18,8.64 L276.85,8.62 L277.52,8.59 L278.19,8.57 L278.86,8.55 L279.53,8.53 L280.2,8.51 L280.87,8.49 L281.54,8.46 L282.21,8.44 L282.88,8.42 L283.55,8.4 L284.22,8.37 L284.89,8.35 L285.56,8.33 L286.23,8.31 L286.9,8.28 L287.56,8.26 L288.23,8.23 L288.9,8.21 L289.57,8.19 L290.24,8.16 L290.91,8.14 L291.58,8.11 L292.25,8.09 L292.92,8.07 L293.59,8.04 L294.26,8.02 L294.93,7.99 L295.6,7.96 L296.27,7.94 L296.94,7.91 L297.61,7.89 L298.28,7.86 L298.95,7.83 L299.62,7.81 L300.28,7.78 L300.95,7.75 L301.62,7.73 L302.29,7.7 L302.96,7.67 L303.63,7.64 L304.3,7.62 L304.97,7.59 L305.64,7.56 L306.31,7.53 L306.98,7.5 L307.65,7.47 L308.32,7.44 L308.99,7.41 L309.66,7.38 L310.33,7.35 L311,7.32 L311.67,7.29 L312.34,7.26 L313.01,7.23 L313.67,7.19 L314.34,7.16 L315.01,7.13 L315.68,7.1 L316.35,7.06 L317.02,7.03 L317.69,7 L318.36,6.96 L319.03,6.93 L319.7,6.89" fill="none" stroke="#3b3bff" stroke-width="0.9" stroke-linejoin="round" />
<path d="M34.6,111.85 L35.28,110.06 L35.95,108.29 L36.63,106.53 L37.31,104.78 L37.99,103.04 L38.66,101.32 L39.34,99.61 L40.02,97.91 L40.69,96.23 L41.37,94.56 L42.05,92.91 L42.73,91.27 L43.4,89.65 L44.08,88.05 L44.76,86.46 L45.43,84.89 L46.11,83.33 L46.79,81.79 L47.46,80.27 L48.14,78.77 L48.82,77.28 L49.5,75.82 L50.17,74.37 L50.85,72.94 L51.53,71.53 L52.2,70.14 L52.88,68.77 L53.56,67.42 L54.24,66.09 L54.91,64.78 L55.59,63.49 L56.27,62.22 L56.94,60.98 L57.62,59.76 L58.3,58.56 L58.98,57.38 L59.65,56.22 L60.33,55.09 L61.01,53.98 L61.68,52.9 L62.36,51.84 L63.04,50.81 L63.71,49.8 L64.39,48.81 L65.07,47.85 L65.75,46.92 L66.42,46.01 L67.1,45.13 L67.78,44.27 L68.45,43.44 L69.13,42.64 L69.81,41.87 L70.49,41.12 L71.16,40.41 L71.84,39.72 L72.52,39.06 L73.19,38.43 L73.87,37.83 L74.55,37.26 L75.22,36.72 L75.9,36.21 L76.58,35.73 L77.26,35.28 L77.93,34.87 L78.61,34.48 L79.29,34.13 L79.96,33.81 L80.64,33.53 L81.32,33.28 L82,33.06 L82.67,32.88 L83.35,32.73 L84.03,32.62 L84.7,32.54 L85.38,32.49 L86.06,32.49 L86.74,32.52 L87.41,32.59 L88.09,32.69 L88.77,32.83 L89.44,33.01 L90.12,33.23 L90.8,33.49 L91.47,33.78 L92.15,34.12 L92.83,34.49 L93.51,34.91 L94.18,35.36 L94.86,35.86 L95.54,36.39 L96.21,36.97 L96.89,37.59 L97.57,38.25 L98.25,38.96 L98.92,39.71 L99.6,40.5" fill="none" stroke="#ff3333" stroke-width="0.9" stroke-linejoin="round" />
<path d="M99.6,39.75 L100.27,39.32 L100.94,38.9 L101.61,38.49 L102.28,38.09 L102.94,37.71 L103.61,37.33 L104.28,36.97 L104.95,36.62 L105.62,36.27 L106.29,35.94 L106.96,35.62 L107.63,35.31 L108.3,35 L108.97,34.71 L109.63,34.42 L110.3,34.14 L110.97,33.87 L111.64,33.61 L112.31,33.35 L112.98,33.1 L113.65,32.86 L114.32,32.62 L114.99,32.39 L115.66,32.16 L116.32,31.94 L116.99,31.72 L117.66,31.51 L118.33,31.3 L119,31.1 L119.67,30.9 L120.34,30.71 L121.01,30.51 L121.68,30.32 L122.35,30.13 L123.01,29.95 L123.68,29.77 L124.35,29.59 L125.02,29.41 L125.69,29.24 L126.36,29.07 L127.03,28.9 L127.7,28.73 L128.37,28.57 L129.04,28.41 L129.7,28.25 L130.37,28.1 L131.04,27.94 L131.71,27.79 L132.38,27.64 L133.05,27.5 L133.72,27.35 L134.39,27.21 L135.06,27.07 L135.73,26.93 L136.39,26.79 L137.06,26.66 L137.73,26.52 L138.4,26.39 L139.07,26.26 L139.74,26.13 L140.41,26.01 L141.08,25.88 L141.75,25.76 L142.42,25.63 L143.08,25.51 L143.75,25.39 L144.42,25.27 L145.09,25.16 L145.76,25.04 L146.43,24.93 L147.1,24.81 L147.77,24.7 L148.44,24.59 L149.11,24.48 L149.77,24.37 L150.44,24.26 L151.11,24.15 L151.78,24.04 L152.45,23.93 L153.12,23.83 L153.79,23.72 L154.46,23.62 L155.13,23.51 L155.8,23.41 L156.46,23.3 L157.13,23.2 L157.8,23.1 L158.47,22.99 L159.14,22.89 L159.81,22.79 L160.48,22.69 L161.15,22.59 L161.82,22.49 L162.49,22.39 L163.15,22.29 L163.82,22.19 L164.49,22.1 L165.16,22 L165.83,21.9 L166.5,21.81 L167.17,21.71 L167.84,21.62 L168.51,21.52 L169.18,21.43 L169.84,21.34 L170.51,21.24 L171.18,21.15 L171.85,21.06 L172.52,20.97 L173.19,20.88 L173.86,20.79 L174.53,20.7 L175.2,20.61 L175.87,20.52 L176.53,20.43 L177.2,20.34 L177.87,20.26 L178.54,20.17 L179.21,20.08 L179.88,20 L180.55,19.91 L181.22,19.83 L181.89,19.74 L182.56,19.66 L183.22,19.58 L183.89,19.49 L184.56,19.41 L185.23,19.33 L185.9,19.25 L186.57,19.17 L187.24,19.09 L187.91,19.01 L188.58,18.93 L189.25,18.85 L189.91,18.77 L190.58,18.69 L191.25,18.61 L191.92,18.54 L192.59,18.46 L193.26,18.38 L193.93,18.31 L194.6,18.23 L195.27,18.16 L195.94,18.08 L196.6,18.01 L197.27,17.93 L197.94,17.86 L198.61,17.79 L199.28,17.71 L199.95,17.64 L200.62,17.57 L201.29,17.5 L201.96,17.43 L202.63,17.36 L203.29,17.29 L203.96,17.22 L204.63,17.15 L205.3,17.08 L205.97,17.01 L206.64,16.95 L207.31,16.88 L207.98,16.81 L208.65,16.75 L209.32,16.68 L209.98,16.61 L210.65,16.55 L211.32,16.48 L211.99,16.42 L212.66,16.36 L213.33,16.29 L214,16.23 L214.67,16.17 L215.34,16.1 L216.01,16.04 L216.67,15.98 L217.34,15.92 L218.01,15.86 L218.68,15.8 L219.35,15.74 L220.02,15.68 L220.69,15.62 L221.36,15.56 L222.03,15.5 L222.7,15.44 L223.36,15.38 L224.03,15.32 L224.7,15.27 L225.37,15.21 L226.04,15.15 L226.71,15.1 L227.38,15.04 L228.05,14.99 L228.72,14.93 L229.39,14.88 L230.05,14.82 L230.72,14.77 L231.39,14.72 L232.06,14.66 L232.73,14.61 L233.4,14.56 L234.07,14.5 L234.74,14.45 L235.41,14.4 L236.08,14.35 L236.74,14.3 L237.41,14.25 L238.08,14.2 L238.75,14.15 L239.42,14.1 L240.09,14.05 L240.76,14 L241.43,13.95 L242.1,13.9 L242.77,13.85 L243.43,13.81 L244.1,13.76 L244.77,13.71 L245.44,13.67 L246.11,13.62 L246.78,13.57 L247.45,13.53 L248.12,13.48 L248.79,13.44 L249.46,13.39 L250.12,13.35 L250.79,13.3 L251.46,13.26 L252.13,13.21 L252.8,13.17 L253.47,13.13 L254.14,13.09 L254.81,13.04 L255.48,13 L256.15,12.96 L256.81,12.92 L257.48,12.87 L258.15,12.83 L258.82,12.79 L259.49,12.75 L260.16,12.71 L260.83,12.67 L261.5,12.63 L262.17,12.59 L262.84,12.55 L263.5,12.51 L264.17,12.47 L264.84,12.44 L265.51,12.4 L266.18,12.36 L266.85,12.32 L267.52,12.28 L268.19,12.25 L268.86,12.21 L269.53,12.17 L270.19,12.14 L270.86,12.1 L271.53,12.06 L272.2,12.03 L272.87,11.99 L273.54,11.96 L274.21,11.92 L274.88,11.89 L275.55,11.85 L276.22,11.82 L276.88,11.78 L277.55,11.75 L278.22,11.72 L278.89,11.68 L279.56,11.65 L280.23,11.62 L280.9,11.58 L281.57,11.55 L282.24,11.52 L282.91,11.49 L283.57,11.45 L284.24,11.42 L284.91,11.39 L285.58,11.36 L286.25,11.33 L286.92,11.3 L287.59,11.27 L288.26,11.24 L288.93,11.2 L289.6,11.17 L290.26,11.14 L290.93,11.11 L291.6,11.08 L292.27,11.05 L292.94,11.03 L293.61,11 L294.28,10.97 L294.95,10.94 L295.62,10.91 L296.29,10.88 L296.95,10.85 L297.62,10.82 L298.29,10.8 L298.96,10.77 L299.63,10.74 L300.3,10.71 L300.97,10.69 L301.64,10.66 L302.31,10.63 L302.98,10.61 L303.64,10.58 L304.31,10.55 L304.98,10.53 L305.65,10.5 L306.32,10.47 L306.99,10.45 L307.66,10.42 L308.33,10.4 L309,10.37 L309.67,10.35 L310.33,10.32 L311,10.29 L311.67,10.27 L312.34,10.24 L313.01,10.22 L313.68,10.2 L314.35,10.17 L315.02,10.15 L315.69,10.12 L316.36,10.1 L317.02,10.07 L317.69,10.05 L318.36,10.03 L319.03,10 L319.7,9.98" fill="none" stroke="#ff3333" stroke-width="0.9" stroke-linejoin="round" />
<path d="M84.4,224.5 L84.39,223.72 L84.38,222.95 L84.39,222.17 L84.4,221.4 L84.42,220.63 L84.45,219.85 L84.49,219.08 L84.53,218.31 L84.58,217.54 L84.64,216.77 L84.7,216 L84.78,215.23 L84.85,214.46 L84.93,213.69 L85.02,212.92 L85.12,212.16 L85.22,211.39 L85.32,210.62 L85.43,209.86 L85.54,209.09 L85.66,208.33 L85.78,207.56 L85.9,206.8 L86.03,206.04 L86.16,205.27 L86.29,204.51 L86.43,203.75 L86.57,202.99 L86.71,202.22 L86.85,201.46 L87,200.7 L87.14,199.94 L87.29,199.18 L87.44,198.42 L87.59,197.66 L87.74,196.9 L87.89,196.14 L88.04,195.39 L88.18,194.63 L88.33,193.87 L88.48,193.11 L88.63,192.35 L88.78,191.6 L88.93,190.84 L89.08,190.08 L89.23,189.33 L89.37,188.57 L89.52,187.81 L89.67,187.06 L89.82,186.3 L89.97,185.54 L90.11,184.79 L90.26,184.03 L90.41,183.27 L90.56,182.52 L90.71,181.76 L90.85,181.01 L91,180.25 L91.15,179.49 L91.3,178.74 L91.44,177.98 L91.59,177.23 L91.74,176.47 L91.89,175.71 L92.03,174.96 L92.18,174.2 L92.33,173.44 L92.48,172.69 L92.63,171.93 L92.77,171.17 L92.92,170.41 L93.07,169.66 L93.22,168.9 L93.37,168.14 L93.51,167.38 L93.66,166.62 L93.81,165.87 L93.96,165.11 L94.11,164.35 L94.26,163.59 L94.41,162.83 L94.55,162.07 L94.7,161.31 L94.85,160.55 L95,159.79 L95.15,159.03 L95.31,158.27 L95.46,157.51 L95.61,156.75 L95.76,155.99 L95.91,155.23 L96.06,154.47 L96.22,153.71 L96.37,152.95 L96.52,152.19 L96.68,151.43 L96.83,150.68 L96.99,149.92 L97.15,149.16 L97.3,148.4 L97.46,147.64 L97.62,146.89 L97.78,146.13 L97.94,145.37 L98.1,144.62 L98.26,143.86 L98.42,143.11 L98.58,142.35 L98.74,141.6 L98.91,140.84 L99.07,140.09 L99.24,139.34 L99.4,138.58 L99.57,137.83 L99.74,137.08 L99.91,136.33 L100.07,135.58 L100.25,134.83 L100.42,134.08 L100.59,133.33 L100.76,132.58 L100.94,131.83 L101.11,131.08 L101.29,130.34 L101.46,129.59 L101.64,128.84 L101.82,128.1 L102,127.35 L102.18,126.6 L102.36,125.86 L102.54,125.11 L102.73,124.36 L102.91,123.62 L103.1,122.87 L103.28,122.13 L103.47,121.38 L103.66,120.63 L103.85,119.89 L104.04,119.14 L104.23,118.4 L104.43,117.65 L104.62,116.9 L104.81,116.16 L105.01,115.41 L105.21,114.67 L105.41,113.92 L105.6,113.17 L105.81,112.42 L106.01,111.68 L106.21,110.93 L106.41,110.18 L106.62,109.43 L106.82,108.68 L107.03,107.94 L107.24,107.19 L107.45,106.44 L107.66,105.69 L107.88,104.94 L108.09,104.2 L108.31,103.45 L108.53,102.7 L108.75,101.96 L108.97,101.21 L109.2,100.47 L109.43,99.72 L109.66,98.98 L109.89,98.23 L110.12,97.49 L110.36,96.75 L110.6,96.01 L110.84,95.27 L111.08,94.54 L111.33,93.8 L111.58,93.07 L111.83,92.33 L112.09,91.6 L112.35,90.87 L112.61,90.14 L112.88,89.42 L113.14,88.69 L113.42,87.97 L113.69,87.25 L113.97,86.53 L114.25,85.81 L114.54,85.09 L114.83,84.38 L115.12,83.67 L115.42,82.96 L115.72,82.25 L116.02,81.55 L116.33,80.85 L116.64,80.15 L116.96,79.45 L117.27,78.75 L117.6,78.06 L117.92,77.37 L118.25,76.67 L118.58,75.98 L118.91,75.3 L119.25,74.61 L119.59,73.92 L119.93,73.24 L120.28,72.56 L120.63,71.87 L120.98,71.19 L121.33,70.51 L121.69,69.84 L122.04,69.16 L122.41,68.48 L122.77,67.8 L123.13,67.13 L123.5,66.45 L123.87,65.78 L124.24,65.1 L124.61,64.43 L124.99,63.75 L125.37,63.08 L125.75,62.4 L126.13,61.73 L126.51,61.06 L126.89,60.38 L127.28,59.71 L127.66,59.03 L128.05,58.36 L128.44,57.68 L128.83,57.01 L129.22,56.33 L129.62,55.66 L130.01,54.98 L130.41,54.31 L130.82,53.64 L131.22,52.97 L131.63,52.31 L132.05,51.64 L132.47,50.99 L132.89,50.33 L133.32,49.68 L133.76,49.03 L134.2,48.39 L134.65,47.76 L135.1,47.13 L135.57,46.5 L136.04,45.89 L136.51,45.28 L137,44.68 L137.5,44.08 L138,43.5 L138.51,42.92 L139.03,42.35 L139.57,41.79 L140.11,41.24 L140.66,40.7 L141.22,40.18 L141.8,39.66 L142.39,39.15 L142.99,38.66 L143.6,38.18 L144.22,37.71 L144.86,37.26 L145.51,36.81 L146.18,36.39 L146.86,35.97 L147.55,35.57 L148.25,35.19 L148.97,34.83 L149.69,34.48 L150.43,34.16 L151.17,33.86 L151.91,33.58 L152.65,33.32 L153.4,33.09 L154.15,32.89 L154.89,32.71 L155.63,32.57 L156.37,32.45 L157.1,32.37 L157.82,32.33 L158.54,32.31 L159.24,32.34 L159.93,32.4 L160.6,32.5 L161.26,32.64 L161.9,32.82 L162.52,33.05 L163.12,33.32 L163.7,33.63 L164.26,34 L164.79,34.41 L165.29,34.87 L165.76,35.38 L166.21,35.94 L166.62,36.56 L167,37.23 L167.35,37.96 L167.66,38.75 L167.93,39.6 L168.16,40.5 L168.35,41.47 L168.5,42.5" fill="none" stroke="#333333" stroke-width="0.9" stroke-linejoin="round" />
<path d="M168.5,41.94 L169.17,41.48 L169.84,41.02 L170.51,40.58 L171.19,40.14 L171.86,39.72 L172.53,39.3 L173.2,38.89 L173.87,38.49 L174.54,38.1 L175.22,37.72 L175.89,37.34 L176.56,36.97 L177.23,36.62 L177.9,36.26 L178.57,35.92 L179.24,35.58 L179.92,35.25 L180.59,34.93 L181.26,34.62 L181.93,34.31 L182.6,34.01 L183.27,33.71 L183.95,33.42 L184.62,33.14 L185.29,32.86 L185.96,32.59 L186.63,32.33 L187.3,32.07 L187.98,31.82 L188.65,31.57 L189.32,31.33 L189.99,31.09 L190.66,30.86 L191.33,30.63 L192,30.41 L192.68,30.19 L193.35,29.97 L194.02,29.76 L194.69,29.56 L195.36,29.35 L196.03,29.16 L196.71,28.96 L197.38,28.77 L198.05,28.58 L198.72,28.4 L199.39,28.22 L200.06,28.04 L200.73,27.86 L201.41,27.69 L202.08,27.52 L202.75,27.35 L203.42,27.18 L204.09,27.02 L204.76,26.86 L205.44,26.7 L206.11,26.54 L206.78,26.38 L207.45,26.23 L208.12,26.08 L208.79,25.93 L209.46,25.78 L210.14,25.64 L210.81,25.5 L211.48,25.36 L212.15,25.22 L212.82,25.08 L213.49,24.95 L214.17,24.81 L214.84,24.68 L215.51,24.55 L216.18,24.43 L216.85,24.3 L217.52,24.18 L218.2,24.06 L218.87,23.94 L219.54,23.82 L220.21,23.7 L220.88,23.59 L221.55,23.47 L222.22,23.36 L222.9,23.25 L223.57,23.15 L224.24,23.04 L224.91,22.93 L225.58,22.83 L226.25,22.73 L226.93,22.63 L227.6,22.53 L228.27,22.44 L228.94,22.34 L229.61,22.25 L230.28,22.15 L230.95,22.06 L231.63,21.97 L232.3,21.89 L232.97,21.8 L233.64,21.71 L234.31,21.63 L234.98,21.55 L235.66,21.47 L236.33,21.39 L237,21.31 L237.67,21.23 L238.34,21.15 L239.01,21.08 L239.68,21 L240.36,20.93 L241.03,20.86 L241.7,20.79 L242.37,20.72 L243.04,20.65 L243.71,20.58 L244.39,20.52 L245.06,20.45 L245.73,20.39 L246.4,20.33 L247.07,20.26 L247.74,20.2 L248.42,20.14 L249.09,20.08 L249.76,20.02 L250.43,19.97 L251.1,19.91 L251.77,19.85 L252.44,19.8 L253.12,19.74 L253.79,19.69 L254.46,19.64 L255.13,19.58 L255.8,19.53 L256.47,19.48 L257.15,19.43 L257.82,19.38 L258.49,19.33 L259.16,19.29 L259.83,19.24 L260.5,19.19 L261.17,19.14 L261.85,19.1 L262.52,19.05 L263.19,19.01 L263.86,18.96 L264.53,18.92 L265.2,18.87 L265.88,18.83 L266.55,18.79 L267.22,18.75 L267.89,18.7 L268.56,18.66 L269.23,18.62 L269.9,18.58 L270.58,18.54 L271.25,18.5 L271.92,18.46 L272.59,18.42 L273.26,18.38 L273.93,18.34 L274.61,18.3 L275.28,18.26 L275.95,18.22 L276.62,18.18 L277.29,18.14 L277.96,18.1 L278.64,18.06 L279.31,18.02 L279.98,17.98 L280.65,17.94 L281.32,17.9 L281.99,17.86 L282.66,17.82 L283.34,17.78 L284.01,17.74 L284.68,17.7 L285.35,17.66 L286.02,17.62 L286.69,17.58 L287.37,17.54 L288.04,17.5 L288.71,17.46 L289.38,17.42 L290.05,17.38 L290.72,17.33 L291.39,17.29 L292.07,17.25 L292.74,17.21 L293.41,17.16 L294.08,17.12 L294.75,17.07 L295.42,17.03 L296.1,16.98 L296.77,16.94 L297.44,16.89 L298.11,16.84 L298.78,16.79 L299.45,16.75 L300.12,16.7 L300.8,16.65 L301.47,16.6 L302.14,16.55 L302.81,16.5 L303.48,16.44 L304.15,16.39 L304.83,16.34 L305.5,16.28 L306.17,16.23 L306.84,16.17 L307.51,16.11 L308.18,16.06 L308.86,16 L309.53,15.94 L310.2,15.88 L310.87,15.82 L311.54,15.75 L312.21,15.69 L312.88,15.63 L313.56,15.56 L314.23,15.5 L314.9,15.43 L315.57,15.36 L316.24,15.29 L316.91,15.22 L317.59,15.15 L318.26,15.08 L318.93,15 L319.6,14.93" fill="none" stroke="#333333" stroke-width="0.9" stroke-linejoin="round" />
</g>
<line x1="38.7" y1="10.3" x2="128.35" y2="75.47" stroke="#222" stroke-width="0.9"/>
<path d="M133.2,79 L126.36,76.5 L128.71,73.27 Z" fill="#222"/>
<text x="134.2" y="88.5" font-size="11.9"><tspan font-style="italic">R</tspan>=10<tspan baseline-shift="5.9" font-size="5.8">7</tspan>,10<tspan baseline-shift="5.9" font-size="5.8">6</tspan>,10<tspan baseline-shift="5.9" font-size="5.8">5</tspan>,10<tspan baseline-shift="5.9" font-size="5.8">4</tspan>,10<tspan baseline-shift="5.9" font-size="5.8">3</tspan></text>
<rect x="161" y="97" width="149.8" height="110" fill="#fff" stroke="#999999" stroke-width="1.3"/>
<line x1="161" y1="97" x2="163.2" y2="97" stroke="#999999" stroke-width="1"/>
<line x1="161" y1="115.33" x2="162.6" y2="115.33" stroke="#999999" stroke-width="1"/>
<line x1="161" y1="133.67" x2="163.2" y2="133.67" stroke="#999999" stroke-width="1"/>
<line x1="161" y1="152" x2="162.6" y2="152" stroke="#999999" stroke-width="1"/>
<line x1="161" y1="170.33" x2="163.2" y2="170.33" stroke="#999999" stroke-width="1"/>
<line x1="161" y1="188.67" x2="162.6" y2="188.67" stroke="#999999" stroke-width="1"/>
<line x1="161" y1="207" x2="163.2" y2="207" stroke="#999999" stroke-width="1"/>
<line x1="172.27" y1="207" x2="172.27" y2="205.6" stroke="#999999" stroke-width="0.9"/>
<line x1="178.87" y1="207" x2="178.87" y2="205.6" stroke="#999999" stroke-width="0.9"/>
<line x1="183.55" y1="207" x2="183.55" y2="205.6" stroke="#999999" stroke-width="0.9"/>
<line x1="187.18" y1="207" x2="187.18" y2="205.6" stroke="#999999" stroke-width="0.9"/>
<line x1="190.14" y1="207" x2="190.14" y2="205.6" stroke="#999999" stroke-width="0.9"/>
<line x1="192.65" y1="207" x2="192.65" y2="205.6" stroke="#999999" stroke-width="0.9"/>
<line x1="194.82" y1="207" x2="194.82" y2="205.6" stroke="#999999" stroke-width="0.9"/>
<line x1="196.74" y1="207" x2="196.74" y2="205.6" stroke="#999999" stroke-width="0.9"/>
<line x1="198.45" y1="207" x2="198.45" y2="204.6" stroke="#999999" stroke-width="1"/>
<line x1="209.72" y1="207" x2="209.72" y2="205.6" stroke="#999999" stroke-width="0.9"/>
<line x1="216.32" y1="207" x2="216.32" y2="205.6" stroke="#999999" stroke-width="0.9"/>
<line x1="221" y1="207" x2="221" y2="205.6" stroke="#999999" stroke-width="0.9"/>
<line x1="224.63" y1="207" x2="224.63" y2="205.6" stroke="#999999" stroke-width="0.9"/>
<line x1="227.59" y1="207" x2="227.59" y2="205.6" stroke="#999999" stroke-width="0.9"/>
<line x1="230.1" y1="207" x2="230.1" y2="205.6" stroke="#999999" stroke-width="0.9"/>
<line x1="232.27" y1="207" x2="232.27" y2="205.6" stroke="#999999" stroke-width="0.9"/>
<line x1="234.19" y1="207" x2="234.19" y2="205.6" stroke="#999999" stroke-width="0.9"/>
<line x1="235.9" y1="207" x2="235.9" y2="204.6" stroke="#999999" stroke-width="1"/>
<line x1="247.17" y1="207" x2="247.17" y2="205.6" stroke="#999999" stroke-width="0.9"/>
<line x1="253.77" y1="207" x2="253.77" y2="205.6" stroke="#999999" stroke-width="0.9"/>
<line x1="258.45" y1="207" x2="258.45" y2="205.6" stroke="#999999" stroke-width="0.9"/>
<line x1="262.08" y1="207" x2="262.08" y2="205.6" stroke="#999999" stroke-width="0.9"/>
<line x1="265.04" y1="207" x2="265.04" y2="205.6" stroke="#999999" stroke-width="0.9"/>
<line x1="267.55" y1="207" x2="267.55" y2="205.6" stroke="#999999" stroke-width="0.9"/>
<line x1="269.72" y1="207" x2="269.72" y2="205.6" stroke="#999999" stroke-width="0.9"/>
<line x1="271.64" y1="207" x2="271.64" y2="205.6" stroke="#999999" stroke-width="0.9"/>
<line x1="273.35" y1="207" x2="273.35" y2="204.6" stroke="#999999" stroke-width="1"/>
<line x1="284.62" y1="207" x2="284.62" y2="205.6" stroke="#999999" stroke-width="0.9"/>
<line x1="291.22" y1="207" x2="291.22" y2="205.6" stroke="#999999" stroke-width="0.9"/>
<line x1="295.9" y1="207" x2="295.9" y2="205.6" stroke="#999999" stroke-width="0.9"/>
<line x1="299.53" y1="207" x2="299.53" y2="205.6" stroke="#999999" stroke-width="0.9"/>
<line x1="302.49" y1="207" x2="302.49" y2="205.6" stroke="#999999" stroke-width="0.9"/>
<line x1="305" y1="207" x2="305" y2="205.6" stroke="#999999" stroke-width="0.9"/>
<line x1="307.17" y1="207" x2="307.17" y2="205.6" stroke="#999999" stroke-width="0.9"/>
<line x1="309.09" y1="207" x2="309.09" y2="205.6" stroke="#999999" stroke-width="0.9"/>
<text x="159.2" y="99.1" font-size="6.3" text-anchor="end" fill="#333">0.000</text>
<text x="159.2" y="135.77" font-size="6.3" text-anchor="end" fill="#333">-0.002</text>
<text x="159.2" y="172.43" font-size="6.3" text-anchor="end" fill="#333">-0.004</text>
<text x="159.2" y="209.1" font-size="6.3" text-anchor="end" fill="#333">-0.006</text>
<text x="161" y="215.2" font-size="6.3" text-anchor="middle" fill="#333">10<tspan baseline-shift="2.6" font-size="4">-3</tspan></text>
<text x="198.45" y="215.2" font-size="6.3" text-anchor="middle" fill="#333">10<tspan baseline-shift="2.6" font-size="4">-2</tspan></text>
<text x="235.9" y="215.2" font-size="6.3" text-anchor="middle" fill="#333">10<tspan baseline-shift="2.6" font-size="4">-1</tspan></text>
<text x="273.35" y="215.2" font-size="6.3" text-anchor="middle" fill="#333">10<tspan baseline-shift="2.6" font-size="4">0</tspan></text>
<text x="310.8" y="215.2" font-size="6.3" text-anchor="middle" fill="#333">10<tspan baseline-shift="2.6" font-size="4">1</tspan></text>
<text x="143" y="153" font-size="6.3" font-style="italic" fill="#333">c<tspan baseline-shift="-2" font-size="4.2">i</tspan></text>
<text x="236" y="221.5" font-size="6.5" font-style="italic" text-anchor="middle" fill="#333">&#945;</text>
<g clip-path="url(#clipI)">
<path d="M226.5,207.32 L227.17,203.51 L227.85,199.72 L228.52,195.95 L229.2,192.23 L229.87,188.56 L230.55,184.94 L231.22,181.4 L231.9,177.93 L232.57,174.55 L233.24,171.26 L233.92,168.09 L234.59,165.03 L235.27,162.09 L235.94,159.3 L236.62,156.63 L237.29,154.1 L237.96,151.69 L238.64,149.4 L239.31,147.22 L239.99,145.14 L240.66,143.17 L241.34,141.29 L242.01,139.5 L242.69,137.79 L243.36,136.15 L244.03,134.59 L244.71,133.09 L245.38,131.65 L246.06,130.27 L246.73,128.93 L247.41,127.63 L248.08,126.39 L248.76,125.18 L249.43,124.02 L250.1,122.91 L250.78,121.83 L251.45,120.8 L252.13,119.8 L252.8,118.85 L253.48,117.93 L254.15,117.05 L254.82,116.2 L255.5,115.39 L256.17,114.61 L256.85,113.87 L257.52,113.16 L258.2,112.48 L258.87,111.83 L259.55,111.21 L260.22,110.62 L260.89,110.05 L261.57,109.51 L262.24,109 L262.92,108.51 L263.59,108.05 L264.27,107.61 L264.94,107.19 L265.62,106.79 L266.29,106.41 L266.96,106.05 L267.64,105.71 L268.31,105.38 L268.99,105.07 L269.66,104.78 L270.34,104.5 L271.01,104.23 L271.68,103.98 L272.36,103.74 L273.03,103.5 L273.71,103.28 L274.38,103.07 L275.06,102.86 L275.73,102.66 L276.41,102.47 L277.08,102.28 L277.75,102.09 L278.43,101.91 L279.1,101.73 L279.78,101.55 L280.45,101.38 L281.13,101.21 L281.8,101.05 L282.48,100.89 L283.15,100.73 L283.82,100.58 L284.5,100.42 L285.17,100.28 L285.85,100.13 L286.52,99.99 L287.2,99.86 L287.87,99.73 L288.54,99.6 L289.22,99.47 L289.89,99.35 L290.57,99.23 L291.24,99.12 L291.92,99.01 L292.59,98.91 L293.27,98.8 L293.94,98.71 L294.61,98.61 L295.29,98.52 L295.96,98.44 L296.64,98.36 L297.31,98.28 L297.99,98.2 L298.66,98.13 L299.34,98.07 L300.01,98.01 L300.68,97.95 L301.36,97.9 L302.03,97.85 L302.71,97.8 L303.38,97.76 L304.06,97.73 L304.73,97.69 L305.4,97.67 L306.08,97.64 L306.75,97.63 L307.43,97.61 L308.1,97.6 L308.78,97.6 L309.45,97.59 L310.13,97.6 L310.8,97.61" fill="none" stroke="#ff33ff" stroke-width="0.85" stroke-linejoin="round" />
<path d="M264.2,207.07 L264.89,201.75 L265.57,196.76 L266.26,192.08 L266.94,187.69 L267.63,183.59 L268.31,179.76 L269,176.18 L269.68,172.83 L270.37,169.7 L271.05,166.78 L271.74,164.04 L272.42,161.48 L273.11,159.08 L273.79,156.82 L274.48,154.68 L275.16,152.64 L275.85,150.7 L276.54,148.84 L277.22,147.03 L277.91,145.28 L278.59,143.57 L279.28,141.88 L279.96,140.22 L280.65,138.59 L281.33,136.98 L282.02,135.41 L282.7,133.87 L283.39,132.37 L284.07,130.91 L284.76,129.49 L285.44,128.12 L286.13,126.8 L286.81,125.52 L287.5,124.29 L288.19,123.1 L288.87,121.96 L289.56,120.87 L290.24,119.82 L290.93,118.81 L291.61,117.86 L292.3,116.94 L292.98,116.08 L293.67,115.26 L294.35,114.48 L295.04,113.74 L295.72,113.03 L296.41,112.37 L297.09,111.74 L297.78,111.14 L298.46,110.57 L299.15,110.03 L299.84,109.52 L300.52,109.04 L301.21,108.58 L301.89,108.13 L302.58,107.71 L303.26,107.31 L303.95,106.92 L304.63,106.55 L305.32,106.18 L306,105.83 L306.69,105.49 L307.37,105.15 L308.06,104.82 L308.74,104.49 L309.43,104.16 L310.11,103.83 L310.8,103.5" fill="none" stroke="#33a89c" stroke-width="0.85" stroke-linejoin="round" />
<path d="M294.2,206.96 L294.92,203.35 L295.64,199.76 L296.37,196.19 L297.09,192.63 L297.81,189.09 L298.53,185.56 L299.25,182.04 L299.97,178.52 L300.7,175.01 L301.42,171.5 L302.14,168.02 L302.86,164.63 L303.58,161.42 L304.3,158.46 L305.03,155.75 L305.75,153.26 L306.47,150.93 L307.19,148.72 L307.91,146.58 L308.63,144.48 L309.36,142.37 L310.08,140.2 L310.8,137.93" fill="none" stroke="#3b3bff" stroke-width="0.85" stroke-linejoin="round" />
</g>
<text x="249.5" y="128.3" font-size="6.3" fill="#333"><tspan font-style="italic">R</tspan>=10<tspan baseline-shift="2.6" font-size="4">7</tspan></text>
<text x="274.3" y="160.8" font-size="6.3" fill="#333">10<tspan baseline-shift="2.6" font-size="4">6</tspan></text>
<text x="298.3" y="190.8" font-size="6.3" fill="#333">10<tspan baseline-shift="2.6" font-size="4">5</tspan></text>
<text x="304.0" y="102.6" font-size="5.5" fill="#333">10<tspan baseline-shift="2.3" font-size="3.6">4</tspan></text>
<line x1="374.5" y1="44.2" x2="661" y2="44.2" stroke="#aaaaaa" stroke-width="1.6"/>
<g clip-path="url(#clipB)">
<path d="M388,224.9 L388.26,223.66 L388.52,222.42 L388.77,221.17 L389.03,219.92 L389.28,218.67 L389.52,217.41 L389.77,216.15 L390.01,214.88 L390.26,213.62 L390.5,212.35 L390.74,211.07 L390.97,209.8 L391.21,208.52 L391.45,207.24 L391.68,205.95 L391.92,204.67 L392.16,203.38 L392.39,202.09 L392.63,200.8 L392.87,199.51 L393.11,198.22 L393.35,196.92 L393.59,195.63 L393.83,194.33 L394.08,193.04 L394.32,191.74 L394.57,190.45 L394.82,189.15 L395.08,187.85 L395.33,186.56 L395.59,185.26 L395.86,183.97 L396.13,182.68 L396.4,181.38 L396.67,180.09 L396.95,178.8 L397.23,177.51 L397.52,176.23 L397.82,174.94 L398.11,173.66 L398.42,172.38 L398.73,171.1 L399.04,169.82 L399.36,168.55 L399.69,167.28 L400.02,166.01 L400.36,164.74 L400.71,163.48 L401.06,162.22 L401.41,160.96 L401.77,159.71 L402.14,158.45 L402.51,157.2 L402.89,155.96 L403.27,154.71 L403.66,153.47 L404.05,152.24 L404.45,151 L404.85,149.77 L405.26,148.54 L405.68,147.31 L406.09,146.09 L406.52,144.87 L406.95,143.65 L407.38,142.44 L407.82,141.23 L408.26,140.02 L408.71,138.82 L409.16,137.62 L409.62,136.42 L410.08,135.22 L410.55,134.03 L411.02,132.85 L411.49,131.66 L411.97,130.48 L412.45,129.3 L412.94,128.13 L413.43,126.95 L413.93,125.79 L414.43,124.62 L414.93,123.46 L415.44,122.3 L415.95,121.15 L416.47,120 L416.99,118.85 L417.51,117.71 L418.04,116.57 L418.57,115.44 L419.11,114.3 L419.65,113.18 L420.19,112.05 L420.74,110.94 L421.3,109.82 L421.86,108.71 L422.43,107.61 L423,106.51 L423.58,105.42 L424.16,104.33 L424.76,103.25 L425.36,102.18 L425.96,101.11 L426.58,100.05 L427.2,98.99 L427.83,97.94 L428.47,96.9 L429.11,95.86 L429.77,94.84 L430.43,93.82 L431.11,92.8 L431.79,91.8 L432.48,90.8 L433.18,89.81 L433.9,88.83 L434.62,87.86 L435.35,86.9 L436.1,85.94 L436.85,85 L437.62,84.06 L438.39,83.14 L439.18,82.22 L439.99,81.31 L440.8,80.42 L441.63,79.53 L442.46,78.65 L443.32,77.79 L444.18,76.93 L445.06,76.08 L445.95,75.25 L446.86,74.43 L447.78,73.62 L448.71,72.82 L449.66,72.03 L450.62,71.25 L451.59,70.49 L452.57,69.73 L453.57,68.99 L454.58,68.26 L455.6,67.54 L456.63,66.83 L457.68,66.13 L458.73,65.45 L459.79,64.78 L460.87,64.12 L461.95,63.47 L463.05,62.83 L464.15,62.21 L465.27,61.6 L466.39,61 L467.53,60.41 L468.67,59.84 L469.82,59.28 L470.97,58.73 L472.14,58.19 L473.31,57.66 L474.49,57.15 L475.68,56.65 L476.88,56.16 L478.08,55.69 L479.29,55.23 L480.5,54.78 L481.72,54.34 L482.95,53.92 L484.18,53.51 L485.41,53.11 L486.65,52.73 L487.9,52.36 L489.15,52 L490.4,51.66 L491.66,51.33 L492.92,51.01 L494.19,50.71 L495.46,50.42 L496.73,50.14 L498,49.88 L499.28,49.63 L500.56,49.39 L501.84,49.16 L503.13,48.94 L504.41,48.73 L505.7,48.54 L506.99,48.35 L508.29,48.18 L509.58,48.01 L510.88,47.86 L512.18,47.71 L513.48,47.57 L514.78,47.44 L516.09,47.31 L517.39,47.19 L518.7,47.09 L520,46.98 L521.31,46.89 L522.62,46.79 L523.93,46.71 L525.24,46.63 L526.55,46.55 L527.87,46.48 L529.18,46.41 L530.49,46.35 L531.8,46.29 L533.11,46.23 L534.43,46.18 L535.74,46.13 L537.05,46.08 L538.36,46.03 L539.67,45.98 L540.98,45.93 L542.29,45.89 L543.6,45.84 L544.91,45.8 L546.22,45.75 L547.52,45.7 L548.83,45.65 L550.13,45.6 L551.43,45.55 L552.73,45.49 L554.03,45.44 L555.33,45.38 L556.62,45.32 L557.92,45.26 L559.21,45.2 L560.51,45.15 L561.8,45.09 L563.1,45.03 L564.39,44.97 L565.68,44.91 L566.97,44.85 L568.27,44.79 L569.56,44.74 L570.85,44.68 L572.14,44.63 L573.44,44.58 L574.73,44.53 L576.02,44.48 L577.32,44.44 L578.61,44.4 L579.91,44.36 L581.2,44.32 L582.5,44.29 L583.8,44.26 L585.1,44.23 L586.4,44.21 L587.7,44.2 L589.01,44.18 L590.31,44.17 L591.62,44.17 L592.93,44.17 L594.24,44.18 L595.55,44.19 L596.86,44.21 L598.18,44.23 L599.5,44.26 L600.82,44.3 L602.15,44.34 L603.47,44.39 L604.8,44.44 L606.13,44.5 L607.47,44.57 L608.8,44.65 L610.14,44.73 L611.48,44.81 L612.82,44.9 L614.17,44.99 L615.51,45.09 L616.85,45.18 L618.2,45.28 L619.54,45.38 L620.89,45.47 L622.23,45.57 L623.57,45.66 L624.91,45.75 L626.25,45.84 L627.59,45.92 L628.92,46 L630.25,46.07 L631.58,46.13 L632.91,46.19 L634.23,46.24 L635.55,46.28 L636.87,46.31 L638.18,46.34 L639.48,46.35 L640.78,46.35 L642.08,46.34 L643.37,46.31 L644.66,46.27 L645.94,46.22 L647.21,46.15 L648.47,46.07 L649.73,45.97 L650.98,45.85 L652.23,45.71 L653.46,45.56 L654.69,45.39 L655.91,45.19 L657.12,44.98 L658.32,44.74 L659.52,44.48 L660.7,44.2" fill="none" stroke="#ff33ff" stroke-width="0.9" stroke-linejoin="round" />
<path d="M394.6,224.9 L394.85,223.71 L395.1,222.52 L395.34,221.32 L395.58,220.12 L395.82,218.91 L396.06,217.7 L396.3,216.48 L396.53,215.25 L396.76,214.03 L397,212.79 L397.23,211.56 L397.46,210.32 L397.69,209.08 L397.91,207.83 L398.14,206.58 L398.37,205.33 L398.6,204.08 L398.83,202.82 L399.06,201.56 L399.29,200.31 L399.52,199.04 L399.75,197.78 L399.98,196.52 L400.22,195.25 L400.45,193.99 L400.69,192.72 L400.93,191.46 L401.18,190.19 L401.42,188.92 L401.67,187.66 L401.92,186.39 L402.17,185.13 L402.43,183.87 L402.69,182.61 L402.95,181.35 L403.22,180.09 L403.49,178.83 L403.77,177.58 L404.05,176.33 L404.33,175.08 L404.62,173.83 L404.92,172.59 L405.22,171.35 L405.52,170.12 L405.83,168.89 L406.15,167.66 L406.47,166.43 L406.8,165.21 L407.13,163.99 L407.47,162.78 L407.81,161.57 L408.16,160.36 L408.51,159.15 L408.87,157.95 L409.23,156.75 L409.6,155.55 L409.97,154.35 L410.35,153.16 L410.74,151.97 L411.13,150.78 L411.52,149.6 L411.92,148.41 L412.33,147.23 L412.74,146.05 L413.15,144.88 L413.57,143.7 L414,142.53 L414.43,141.36 L414.87,140.19 L415.31,139.02 L415.76,137.86 L416.21,136.69 L416.67,135.53 L417.13,134.37 L417.6,133.21 L418.07,132.05 L418.55,130.9 L419.03,129.74 L419.52,128.59 L420.01,127.43 L420.51,126.28 L421.01,125.13 L421.52,123.98 L422.04,122.83 L422.55,121.68 L423.08,120.53 L423.61,119.39 L424.14,118.24 L424.68,117.1 L425.23,115.95 L425.78,114.81 L426.34,113.67 L426.9,112.54 L427.47,111.4 L428.05,110.27 L428.64,109.15 L429.23,108.02 L429.82,106.9 L430.43,105.79 L431.04,104.68 L431.66,103.57 L432.29,102.47 L432.93,101.37 L433.57,100.29 L434.23,99.2 L434.89,98.12 L435.56,97.05 L436.24,95.99 L436.93,94.93 L437.62,93.88 L438.33,92.84 L439.05,91.81 L439.77,90.78 L440.51,89.77 L441.26,88.76 L442.01,87.76 L442.78,86.77 L443.56,85.79 L444.35,84.82 L445.15,83.86 L445.96,82.91 L446.78,81.98 L447.61,81.05 L448.46,80.14 L449.31,79.23 L450.18,78.34 L451.07,77.46 L451.96,76.6 L452.87,75.74 L453.78,74.9 L454.72,74.08 L455.66,73.26 L456.61,72.46 L457.58,71.67 L458.56,70.9 L459.55,70.13 L460.55,69.38 L461.55,68.65 L462.57,67.92 L463.61,67.21 L464.65,66.51 L465.69,65.83 L466.75,65.15 L467.82,64.49 L468.9,63.85 L469.98,63.21 L471.08,62.59 L472.18,61.98 L473.29,61.39 L474.41,60.8 L475.53,60.23 L476.67,59.68 L477.81,59.13 L478.95,58.6 L480.11,58.08 L481.27,57.57 L482.43,57.08 L483.6,56.6 L484.78,56.13 L485.96,55.68 L487.15,55.23 L488.34,54.8 L489.54,54.39 L490.74,53.98 L491.95,53.59 L493.16,53.21 L494.37,52.84 L495.59,52.49 L496.81,52.15 L498.03,51.82 L499.26,51.5 L500.49,51.2 L501.72,50.91 L502.95,50.63 L504.19,50.36 L505.43,50.11 L506.67,49.86 L507.91,49.63 L509.16,49.4 L510.41,49.19 L511.66,48.98 L512.91,48.79 L514.16,48.6 L515.41,48.43 L516.67,48.26 L517.92,48.1 L519.18,47.95 L520.44,47.8 L521.7,47.67 L522.97,47.54 L524.23,47.41 L525.49,47.3 L526.76,47.19 L528.02,47.08 L529.29,46.98 L530.56,46.89 L531.82,46.8 L533.09,46.71 L534.36,46.63 L535.63,46.55 L536.9,46.48 L538.17,46.41 L539.44,46.34 L540.7,46.28 L541.97,46.22 L543.24,46.16 L544.51,46.1 L545.78,46.04 L547.05,45.99 L548.31,45.93 L549.58,45.88 L550.84,45.82 L552.11,45.77 L553.37,45.71 L554.64,45.66 L555.9,45.6 L557.16,45.55 L558.42,45.49 L559.68,45.43 L560.94,45.38 L562.2,45.32 L563.46,45.26 L564.72,45.21 L565.97,45.15 L567.23,45.09 L568.49,45.04 L569.74,44.99 L571,44.93 L572.26,44.88 L573.51,44.83 L574.77,44.78 L576.02,44.73 L577.28,44.68 L578.54,44.64 L579.79,44.59 L581.05,44.55 L582.31,44.51 L583.56,44.47 L584.82,44.43 L586.08,44.39 L587.34,44.36 L588.6,44.33 L589.86,44.3 L591.12,44.27 L592.38,44.25 L593.65,44.23 L594.91,44.21 L596.17,44.19 L597.44,44.18 L598.7,44.17 L599.97,44.17 L601.24,44.16 L602.51,44.16 L603.78,44.17 L605.05,44.18 L606.33,44.19 L607.6,44.2 L608.88,44.22 L610.16,44.24 L611.44,44.27 L612.72,44.3 L614,44.33 L615.28,44.36 L616.56,44.39 L617.84,44.43 L619.12,44.46 L620.41,44.5 L621.69,44.54 L622.97,44.58 L624.25,44.61 L625.53,44.65 L626.82,44.69 L628.1,44.72 L629.38,44.76 L630.65,44.79 L631.93,44.82 L633.21,44.85 L634.48,44.87 L635.76,44.89 L637.03,44.91 L638.3,44.93 L639.57,44.94 L640.83,44.94 L642.1,44.94 L643.36,44.94 L644.62,44.93 L645.87,44.92 L647.13,44.9 L648.38,44.87 L649.63,44.84 L650.87,44.8 L652.11,44.75 L653.35,44.7 L654.59,44.64 L655.82,44.57 L657.04,44.49 L658.27,44.4 L659.49,44.31 L660.7,44.2" fill="none" stroke="#33a89c" stroke-width="0.9" stroke-linejoin="round" />
<path d="M402.4,224.9 L402.63,223.65 L402.86,222.4 L403.09,221.15 L403.3,219.9 L403.52,218.65 L403.73,217.4 L403.93,216.16 L404.14,214.92 L404.34,213.68 L404.53,212.44 L404.73,211.2 L404.92,209.96 L405.11,208.73 L405.3,207.49 L405.49,206.26 L405.68,205.03 L405.87,203.8 L406.06,202.57 L406.24,201.34 L406.43,200.11 L406.63,198.89 L406.82,197.66 L407.01,196.44 L407.21,195.22 L407.41,194 L407.62,192.78 L407.82,191.56 L408.03,190.34 L408.25,189.12 L408.47,187.91 L408.69,186.69 L408.92,185.48 L409.16,184.27 L409.4,183.05 L409.64,181.84 L409.9,180.63 L410.16,179.42 L410.43,178.22 L410.7,177.01 L410.99,175.8 L411.28,174.6 L411.58,173.39 L411.89,172.19 L412.21,170.98 L412.54,169.78 L412.88,168.58 L413.23,167.38 L413.59,166.18 L413.95,164.98 L414.32,163.78 L414.7,162.59 L415.09,161.39 L415.49,160.2 L415.89,159 L416.3,157.81 L416.72,156.62 L417.15,155.43 L417.58,154.25 L418.02,153.06 L418.46,151.87 L418.91,150.69 L419.37,149.51 L419.83,148.33 L420.3,147.15 L420.77,145.98 L421.25,144.8 L421.74,143.63 L422.22,142.46 L422.72,141.29 L423.21,140.13 L423.71,138.96 L424.22,137.8 L424.73,136.64 L425.24,135.48 L425.76,134.33 L426.28,133.17 L426.8,132.02 L427.33,130.87 L427.85,129.73 L428.38,128.58 L428.92,127.44 L429.45,126.3 L429.99,125.17 L430.53,124.03 L431.07,122.9 L431.61,121.78 L432.15,120.65 L432.69,119.53 L433.24,118.41 L433.79,117.3 L434.34,116.19 L434.89,115.08 L435.44,113.98 L436,112.88 L436.56,111.78 L437.13,110.69 L437.69,109.61 L438.26,108.53 L438.84,107.45 L439.42,106.38 L440,105.32 L440.59,104.26 L441.18,103.21 L441.78,102.16 L442.38,101.12 L442.98,100.09 L443.6,99.06 L444.21,98.04 L444.84,97.02 L445.47,96.02 L446.11,95.02 L446.75,94.03 L447.4,93.04 L448.05,92.07 L448.72,91.1 L449.39,90.14 L450.07,89.19 L450.75,88.25 L451.45,87.32 L452.15,86.39 L452.86,85.48 L453.58,84.57 L454.31,83.67 L455.04,82.79 L455.79,81.91 L456.54,81.05 L457.31,80.19 L458.08,79.35 L458.87,78.51 L459.66,77.69 L460.47,76.87 L461.28,76.07 L462.11,75.28 L462.94,74.5 L463.79,73.73 L464.64,72.97 L465.5,72.22 L466.38,71.49 L467.26,70.76 L468.15,70.05 L469.06,69.34 L469.97,68.65 L470.89,67.97 L471.82,67.29 L472.76,66.63 L473.71,65.99 L474.67,65.35 L475.64,64.72 L476.62,64.11 L477.61,63.5 L478.61,62.91 L479.61,62.32 L480.63,61.75 L481.66,61.19 L482.69,60.65 L483.73,60.11 L484.79,59.58 L485.85,59.07 L486.92,58.56 L488,58.07 L489.09,57.59 L490.19,57.12 L491.3,56.66 L492.41,56.22 L493.54,55.78 L494.67,55.36 L495.81,54.94 L496.97,54.54 L498.13,54.15 L499.3,53.78 L500.47,53.41 L501.66,53.06 L502.85,52.71 L504.06,52.38 L505.27,52.06 L506.49,51.75 L507.71,51.45 L508.94,51.16 L510.18,50.88 L511.43,50.61 L512.68,50.34 L513.93,50.09 L515.19,49.85 L516.46,49.62 L517.73,49.39 L519,49.18 L520.28,48.97 L521.56,48.77 L522.84,48.58 L524.13,48.39 L525.42,48.21 L526.71,48.04 L528.01,47.88 L529.3,47.73 L530.6,47.58 L531.9,47.43 L533.2,47.3 L534.5,47.16 L535.8,47.04 L537.09,46.92 L538.39,46.8 L539.69,46.69 L540.99,46.59 L542.28,46.49 L543.57,46.39 L544.86,46.3 L546.15,46.21 L547.43,46.13 L548.71,46.05 L549.99,45.97 L551.27,45.9 L552.54,45.82 L553.8,45.76 L555.06,45.69 L556.32,45.63 L557.57,45.56 L558.82,45.5 L560.06,45.45 L561.3,45.39 L562.53,45.34 L563.76,45.29 L564.99,45.24 L566.22,45.19 L567.44,45.14 L568.66,45.1 L569.88,45.06 L571.09,45.02 L572.31,44.98 L573.52,44.94 L574.73,44.9 L575.94,44.87 L577.15,44.84 L578.36,44.8 L579.57,44.77 L580.78,44.74 L581.99,44.72 L583.2,44.69 L584.41,44.66 L585.62,44.64 L586.84,44.62 L588.05,44.59 L589.27,44.57 L590.48,44.55 L591.7,44.53 L592.93,44.51 L594.15,44.49 L595.38,44.47 L596.61,44.46 L597.85,44.44 L599.09,44.42 L600.33,44.41 L601.58,44.39 L602.83,44.38 L604.09,44.36 L605.35,44.34 L606.61,44.33 L607.88,44.32 L609.16,44.3 L610.44,44.29 L611.73,44.27 L613.02,44.26 L614.31,44.24 L615.61,44.23 L616.91,44.22 L618.21,44.21 L619.51,44.19 L620.81,44.18 L622.12,44.17 L623.43,44.16 L624.73,44.15 L626.04,44.14 L627.34,44.13 L628.64,44.12 L629.95,44.11 L631.24,44.1 L632.54,44.1 L633.84,44.09 L635.13,44.08 L636.41,44.08 L637.7,44.08 L638.97,44.07 L640.25,44.07 L641.51,44.07 L642.78,44.07 L644.03,44.07 L645.28,44.07 L646.52,44.07 L647.76,44.08 L648.98,44.08 L650.2,44.09 L651.41,44.1 L652.6,44.11 L653.79,44.11 L654.97,44.13 L656.14,44.14 L657.3,44.15 L658.44,44.17 L659.58,44.18 L660.7,44.2" fill="none" stroke="#3b3bff" stroke-width="0.9" stroke-linejoin="round" />
<path d="M414.7,224.9 L414.89,223.74 L415.07,222.57 L415.26,221.41 L415.45,220.24 L415.64,219.06 L415.83,217.89 L416.02,216.71 L416.21,215.54 L416.4,214.36 L416.59,213.18 L416.78,212 L416.98,210.81 L417.18,209.63 L417.37,208.44 L417.57,207.25 L417.78,206.07 L417.98,204.88 L418.18,203.69 L418.39,202.5 L418.6,201.31 L418.82,200.12 L419.03,198.93 L419.25,197.74 L419.47,196.55 L419.69,195.36 L419.92,194.17 L420.15,192.98 L420.38,191.79 L420.62,190.61 L420.86,189.42 L421.11,188.24 L421.36,187.05 L421.61,185.87 L421.86,184.69 L422.12,183.51 L422.39,182.33 L422.66,181.15 L422.93,179.97 L423.21,178.8 L423.5,177.63 L423.79,176.46 L424.08,175.3 L424.38,174.13 L424.68,172.97 L424.99,171.81 L425.31,170.65 L425.63,169.5 L425.96,168.35 L426.29,167.2 L426.62,166.05 L426.96,164.9 L427.31,163.76 L427.66,162.62 L428.01,161.48 L428.37,160.34 L428.73,159.21 L429.1,158.07 L429.48,156.94 L429.85,155.81 L430.23,154.68 L430.62,153.56 L431.01,152.43 L431.4,151.31 L431.8,150.18 L432.2,149.06 L432.6,147.94 L433.01,146.83 L433.43,145.71 L433.84,144.59 L434.26,143.48 L434.68,142.36 L435.11,141.25 L435.54,140.14 L435.97,139.03 L436.41,137.92 L436.85,136.81 L437.29,135.7 L437.74,134.59 L438.19,133.48 L438.64,132.38 L439.09,131.27 L439.55,130.17 L440.01,129.06 L440.47,127.95 L440.94,126.85 L441.4,125.75 L441.87,124.64 L442.35,123.54 L442.82,122.44 L443.3,121.33 L443.78,120.23 L444.27,119.14 L444.76,118.04 L445.25,116.94 L445.75,115.85 L446.25,114.76 L446.76,113.67 L447.27,112.59 L447.79,111.51 L448.31,110.43 L448.84,109.35 L449.38,108.28 L449.92,107.22 L450.47,106.16 L451.02,105.1 L451.58,104.04 L452.15,103 L452.73,101.95 L453.31,100.92 L453.9,99.89 L454.5,98.86 L455.11,97.84 L455.72,96.83 L456.35,95.82 L456.98,94.83 L457.62,93.83 L458.28,92.85 L458.94,91.87 L459.61,90.9 L460.29,89.94 L460.98,88.99 L461.68,88.05 L462.4,87.11 L463.12,86.18 L463.85,85.27 L464.6,84.36 L465.36,83.46 L466.13,82.57 L466.91,81.7 L467.7,80.83 L468.51,79.97 L469.33,79.13 L470.15,78.29 L470.99,77.46 L471.85,76.65 L472.71,75.84 L473.58,75.05 L474.46,74.27 L475.35,73.49 L476.26,72.73 L477.17,71.98 L478.09,71.24 L479.02,70.51 L479.97,69.79 L480.92,69.09 L481.88,68.39 L482.84,67.7 L483.82,67.03 L484.81,66.37 L485.8,65.72 L486.8,65.08 L487.81,64.45 L488.83,63.83 L489.85,63.23 L490.88,62.63 L491.92,62.05 L492.96,61.48 L494.02,60.92 L495.07,60.37 L496.14,59.84 L497.21,59.32 L498.29,58.8 L499.37,58.31 L500.46,57.82 L501.55,57.34 L502.65,56.88 L503.75,56.43 L504.86,55.99 L505.97,55.56 L507.09,55.15 L508.21,54.75 L509.33,54.36 L510.46,53.98 L511.59,53.62 L512.73,53.27 L513.87,52.92 L515.02,52.59 L516.16,52.27 L517.31,51.96 L518.47,51.67 L519.62,51.38 L520.78,51.1 L521.94,50.83 L523.11,50.57 L524.28,50.32 L525.45,50.08 L526.62,49.85 L527.8,49.63 L528.97,49.42 L530.15,49.21 L531.33,49.01 L532.52,48.82 L533.7,48.64 L534.89,48.46 L536.08,48.29 L537.27,48.13 L538.46,47.98 L539.65,47.83 L540.85,47.68 L542.04,47.55 L543.24,47.42 L544.44,47.29 L545.64,47.17 L546.83,47.05 L548.03,46.94 L549.23,46.83 L550.43,46.73 L551.63,46.63 L552.83,46.53 L554.03,46.44 L555.24,46.35 L556.44,46.26 L557.64,46.18 L558.84,46.09 L560.04,46.02 L561.23,45.94 L562.43,45.86 L563.63,45.79 L564.83,45.72 L566.03,45.65 L567.23,45.59 L568.42,45.52 L569.62,45.46 L570.82,45.4 L572.01,45.34 L573.21,45.29 L574.41,45.23 L575.6,45.18 L576.8,45.13 L577.99,45.08 L579.19,45.04 L580.38,44.99 L581.58,44.95 L582.78,44.91 L583.97,44.87 L585.17,44.83 L586.36,44.79 L587.56,44.76 L588.75,44.72 L589.95,44.69 L591.14,44.66 L592.34,44.63 L593.53,44.61 L594.73,44.58 L595.93,44.56 L597.12,44.53 L598.32,44.51 L599.52,44.49 L600.71,44.47 L601.91,44.46 L603.11,44.44 L604.31,44.42 L605.5,44.41 L606.7,44.4 L607.9,44.38 L609.1,44.37 L610.3,44.36 L611.5,44.35 L612.7,44.35 L613.9,44.34 L615.1,44.33 L616.3,44.33 L617.5,44.32 L618.7,44.32 L619.91,44.32 L621.11,44.31 L622.31,44.31 L623.51,44.31 L624.71,44.31 L625.92,44.31 L627.12,44.3 L628.32,44.3 L629.52,44.3 L630.73,44.3 L631.93,44.3 L633.13,44.3 L634.33,44.3 L635.53,44.3 L636.74,44.3 L637.94,44.3 L639.14,44.3 L640.34,44.3 L641.54,44.3 L642.74,44.3 L643.94,44.3 L645.14,44.29 L646.34,44.29 L647.54,44.29 L648.74,44.28 L649.94,44.28 L651.14,44.27 L652.33,44.27 L653.53,44.26 L654.73,44.25 L655.92,44.25 L657.12,44.24 L658.31,44.22 L659.51,44.21 L660.7,44.2" fill="none" stroke="#ff3333" stroke-width="0.9" stroke-linejoin="round" />
<path d="M436.3,225 L436.45,223.91 L436.61,222.81 L436.76,221.72 L436.92,220.62 L437.08,219.52 L437.24,218.42 L437.4,217.31 L437.57,216.21 L437.73,215.1 L437.9,213.99 L438.07,212.88 L438.24,211.77 L438.42,210.66 L438.59,209.54 L438.77,208.43 L438.95,207.31 L439.13,206.2 L439.32,205.08 L439.51,203.97 L439.7,202.85 L439.89,201.73 L440.08,200.62 L440.28,199.5 L440.48,198.38 L440.69,197.27 L440.9,196.15 L441.11,195.03 L441.32,193.92 L441.54,192.8 L441.76,191.69 L441.98,190.58 L442.21,189.47 L442.44,188.36 L442.68,187.25 L442.92,186.14 L443.16,185.03 L443.41,183.93 L443.66,182.83 L443.91,181.72 L444.17,180.63 L444.43,179.53 L444.7,178.43 L444.97,177.34 L445.25,176.25 L445.53,175.16 L445.82,174.08 L446.1,172.99 L446.4,171.91 L446.7,170.83 L447,169.76 L447.3,168.68 L447.61,167.61 L447.93,166.54 L448.24,165.47 L448.57,164.4 L448.89,163.33 L449.22,162.26 L449.55,161.2 L449.89,160.14 L450.23,159.08 L450.57,158.02 L450.92,156.96 L451.26,155.9 L451.62,154.84 L451.97,153.78 L452.33,152.73 L452.69,151.67 L453.06,150.62 L453.43,149.57 L453.8,148.51 L454.17,147.46 L454.55,146.41 L454.92,145.36 L455.31,144.31 L455.69,143.26 L456.08,142.21 L456.46,141.16 L456.86,140.11 L457.25,139.06 L457.65,138.01 L458.04,136.96 L458.44,135.91 L458.85,134.85 L459.25,133.8 L459.66,132.75 L460.06,131.7 L460.47,130.65 L460.89,129.59 L461.3,128.54 L461.72,127.49 L462.14,126.44 L462.56,125.38 L462.99,124.33 L463.42,123.28 L463.85,122.23 L464.29,121.19 L464.73,120.14 L465.17,119.1 L465.62,118.05 L466.08,117.02 L466.54,115.98 L467,114.94 L467.47,113.91 L467.95,112.88 L468.43,111.86 L468.91,110.83 L469.41,109.82 L469.91,108.8 L470.41,107.79 L470.93,106.78 L471.44,105.78 L471.97,104.78 L472.51,103.79 L473.05,102.8 L473.6,101.82 L474.16,100.84 L474.72,99.87 L475.3,98.91 L475.88,97.95 L476.47,96.99 L477.07,96.05 L477.68,95.11 L478.3,94.17 L478.93,93.25 L479.57,92.33 L480.22,91.42 L480.88,90.51 L481.55,89.62 L482.23,88.73 L482.92,87.85 L483.62,86.98 L484.34,86.11 L485.06,85.26 L485.79,84.41 L486.54,83.58 L487.29,82.75 L488.05,81.93 L488.82,81.11 L489.6,80.31 L490.4,79.52 L491.2,78.73 L492,77.96 L492.82,77.19 L493.65,76.43 L494.49,75.68 L495.33,74.95 L496.18,74.22 L497.04,73.5 L497.91,72.79 L498.79,72.09 L499.67,71.4 L500.57,70.72 L501.47,70.05 L502.38,69.39 L503.29,68.74 L504.21,68.1 L505.14,67.47 L506.08,66.85 L507.03,66.24 L507.98,65.65 L508.93,65.06 L509.9,64.48 L510.87,63.92 L511.84,63.36 L512.83,62.82 L513.81,62.29 L514.81,61.77 L515.81,61.26 L516.81,60.76 L517.82,60.27 L518.84,59.8 L519.86,59.33 L520.89,58.88 L521.92,58.44 L522.96,58.01 L524,57.59 L525.04,57.18 L526.09,56.78 L527.15,56.39 L528.2,56.02 L529.27,55.65 L530.33,55.29 L531.4,54.94 L532.47,54.6 L533.55,54.27 L534.63,53.95 L535.71,53.63 L536.8,53.33 L537.89,53.03 L538.98,52.74 L540.08,52.46 L541.17,52.19 L542.27,51.93 L543.37,51.67 L544.48,51.42 L545.58,51.18 L546.69,50.94 L547.8,50.71 L548.91,50.49 L550.02,50.27 L551.13,50.06 L552.25,49.86 L553.36,49.66 L554.48,49.47 L555.6,49.28 L556.71,49.09 L557.83,48.92 L558.95,48.74 L560.07,48.58 L561.19,48.41 L562.31,48.25 L563.42,48.1 L564.54,47.95 L565.66,47.8 L566.78,47.65 L567.89,47.51 L569.01,47.38 L570.12,47.24 L571.24,47.11 L572.35,46.99 L573.47,46.86 L574.58,46.74 L575.7,46.63 L576.81,46.51 L577.92,46.4 L579.04,46.3 L580.15,46.19 L581.26,46.09 L582.38,46 L583.49,45.9 L584.6,45.81 L585.72,45.73 L586.83,45.64 L587.94,45.56 L589.06,45.49 L590.17,45.41 L591.29,45.34 L592.4,45.27 L593.52,45.21 L594.63,45.14 L595.75,45.09 L596.86,45.03 L597.98,44.98 L599.1,44.93 L600.21,44.88 L601.33,44.83 L602.45,44.79 L603.57,44.75 L604.69,44.72 L605.81,44.68 L606.93,44.65 L608.06,44.62 L609.18,44.6 L610.31,44.58 L611.43,44.56 L612.56,44.54 L613.68,44.53 L614.81,44.51 L615.94,44.5 L617.07,44.5 L618.2,44.49 L619.33,44.49 L620.46,44.49 L621.6,44.49 L622.73,44.49 L623.86,44.49 L625,44.49 L626.13,44.5 L627.26,44.5 L628.4,44.51 L629.53,44.52 L630.67,44.52 L631.8,44.53 L632.93,44.54 L634.07,44.54 L635.2,44.55 L636.33,44.56 L637.46,44.56 L638.6,44.57 L639.73,44.57 L640.86,44.58 L641.99,44.58 L643.12,44.58 L644.24,44.58 L645.37,44.58 L646.5,44.58 L647.62,44.57 L648.74,44.56 L649.87,44.55 L650.99,44.54 L652.11,44.53 L653.22,44.51 L654.34,44.49 L655.45,44.47 L656.57,44.44 L657.68,44.41 L658.79,44.38 L659.89,44.34 L661,44.3" fill="none" stroke="#333333" stroke-width="0.9" stroke-linejoin="round" />
<path d="M587.3,44.3 L588.01,41.57 L588.71,38.67 L589.42,35.34 L590.13,31.9 L590.83,29.4 L591.54,27.54 L592.25,26.03 L592.96,24.82 L593.66,23.76 L594.37,22.84 L595.08,22.15 L595.78,21.78 L596.49,21.51 L597.2,21.31 L597.9,21.21 L598.61,21.26 L599.32,21.5 L600.02,21.87 L600.73,22.32 L601.44,23.05 L602.14,24.15 L602.85,25.49 L603.56,26.96 L604.27,28.75 L604.97,30.91 L605.68,33.4 L606.39,36.62 L607.09,40.29 L607.8,44.3" fill="none" stroke="#ff33ff" stroke-width="0.9" stroke-linejoin="round" />
<path d="M591.4,44.3 L592.11,40 L592.82,37.29 L593.53,35.49 L594.24,34.09 L594.95,32.87 L595.65,31.76 L596.36,30.79 L597.07,30 L597.78,29.37 L598.49,28.77 L599.2,28.37 L599.91,28.33 L600.62,28.6 L601.33,29.05 L602.04,29.61 L602.75,30.52 L603.45,31.79 L604.16,33.28 L604.87,34.93 L605.58,37.01 L606.29,39.76 L607,44.3" fill="none" stroke="#33a89c" stroke-width="0.9" stroke-linejoin="round" />
<path d="M598.1,44.3 L598.52,42.91 L598.94,41.78 L599.36,41.07 L599.78,40.55 L600.21,40.14 L600.63,39.84 L601.05,39.6 L601.47,39.38 L601.89,39.24 L602.31,39.21 L602.73,39.35 L603.15,39.65 L603.57,40.05 L603.99,40.49 L604.42,41 L604.84,41.7 L605.26,42.52 L605.68,43.36 L606.1,44.3" fill="none" stroke="#3b3bff" stroke-width="0.9" stroke-linejoin="round" />
</g>
<line x1="474.1" y1="72" x2="495.69" y2="88.11" stroke="#222" stroke-width="0.9"/>
<path d="M500.5,91.7 L493.69,89.12 L496.09,85.91 Z" fill="#222"/>
<line x1="602.6" y1="41.2" x2="574.34" y2="26.73" stroke="#222" stroke-width="0.9"/>
<path d="M569,24 L576.14,25.41 L574.32,28.97 Z" fill="#222"/>
<text x="494.2" y="20.0" font-size="12"><tspan font-style="italic">R</tspan>=3x10<tspan baseline-shift="5.9" font-size="5.8">5</tspan>,4x10<tspan baseline-shift="5.9" font-size="5.8">5</tspan>,5x10<tspan baseline-shift="5.9" font-size="5.8">5</tspan></text>
<text x="501" y="100.8" font-size="12">2x10<tspan baseline-shift="5.9" font-size="5.8">5</tspan>,1x10<tspan baseline-shift="5.9" font-size="5.8">5</tspan></text>
<line x1="207.5" y1="332.7" x2="494.4" y2="332.7" stroke="#444" stroke-width="1.1"/>
<g clip-path="url(#clipC)">
<path d="M238.7,506.5 L239.04,505.9 L239.38,505.3 L239.71,504.7 L240.05,504.09 L240.38,503.49 L240.71,502.88 L241.04,502.27 L241.36,501.66 L241.69,501.06 L242.01,500.44 L242.33,499.83 L242.65,499.22 L242.97,498.61 L243.29,497.99 L243.61,497.38 L243.93,496.77 L244.24,496.15 L244.56,495.54 L244.87,494.92 L245.19,494.3 L245.5,493.69 L245.82,493.07 L246.14,492.46 L246.45,491.84 L246.77,491.22 L247.08,490.61 L247.4,489.99 L247.72,489.38 L248.04,488.77 L248.36,488.15 L248.68,487.54 L249,486.93 L249.33,486.32 L249.65,485.71 L249.98,485.1 L250.31,484.49 L250.64,483.88 L250.97,483.28 L251.31,482.67 L251.64,482.07 L251.98,481.47 L252.33,480.87 L252.67,480.27 L253.02,479.67 L253.37,479.07 L253.72,478.48 L254.08,477.89 L254.43,477.3 L254.79,476.71 L255.16,476.12 L255.52,475.53 L255.89,474.95 L256.26,474.36 L256.63,473.78 L257,473.2 L257.38,472.62 L257.76,472.04 L258.14,471.47 L258.52,470.89 L258.91,470.32 L259.29,469.74 L259.68,469.17 L260.07,468.6 L260.47,468.03 L260.86,467.47 L261.26,466.9 L261.65,466.33 L262.05,465.77 L262.46,465.21 L262.86,464.65 L263.26,464.09 L263.67,463.53 L264.08,462.97 L264.49,462.41 L264.9,461.85 L265.31,461.3 L265.72,460.75 L266.13,460.19 L266.55,459.64 L266.97,459.09 L267.39,458.54 L267.8,457.99 L268.22,457.44 L268.65,456.9 L269.07,456.35 L269.49,455.8 L269.91,455.26 L270.34,454.72 L270.77,454.17 L271.19,453.63 L271.62,453.09 L272.05,452.55 L272.48,452.01 L272.91,451.47 L273.34,450.94 L273.78,450.4 L274.21,449.86 L274.64,449.33 L275.08,448.8 L275.52,448.26 L275.96,447.73 L276.39,447.2 L276.83,446.67 L277.28,446.14 L277.72,445.61 L278.16,445.08 L278.61,444.56 L279.05,444.03 L279.5,443.5 L279.95,442.98 L280.39,442.46 L280.84,441.93 L281.3,441.41 L281.75,440.89 L282.2,440.37 L282.66,439.85 L283.11,439.34 L283.57,438.82 L284.03,438.3 L284.48,437.79 L284.94,437.27 L285.41,436.76 L285.87,436.25 L286.33,435.73 L286.8,435.22 L287.26,434.71 L287.73,434.2 L288.2,433.7 L288.67,433.19 L289.14,432.68 L289.61,432.18 L290.09,431.67 L290.56,431.17 L291.04,430.67 L291.51,430.16 L291.99,429.66 L292.47,429.16 L292.95,428.66 L293.43,428.17 L293.92,427.67 L294.4,427.17 L294.88,426.68 L295.37,426.18 L295.86,425.69 L296.35,425.2 L296.84,424.71 L297.33,424.22 L297.82,423.73 L298.31,423.24 L298.8,422.75 L299.3,422.27 L299.79,421.78 L300.29,421.3 L300.79,420.82 L301.29,420.34 L301.79,419.86 L302.29,419.38 L302.79,418.9 L303.29,418.42 L303.79,417.95 L304.3,417.47 L304.8,417 L305.31,416.53 L305.81,416.06 L306.32,415.59 L306.83,415.12 L307.34,414.65 L307.85,414.18 L308.36,413.72 L308.88,413.26 L309.39,412.79 L309.9,412.33 L310.42,411.87 L310.93,411.41 L311.45,410.96 L311.97,410.5 L312.48,410.05 L313,409.59 L313.52,409.14 L314.04,408.69 L314.57,408.24 L315.09,407.79 L315.61,407.35 L316.14,406.9 L316.66,406.46 L317.19,406.02 L317.72,405.57 L318.25,405.13 L318.78,404.7 L319.31,404.26 L319.84,403.82 L320.38,403.39 L320.91,402.95 L321.45,402.52 L321.98,402.09 L322.52,401.66 L323.06,401.24 L323.6,400.81 L324.14,400.39 L324.68,399.96 L325.23,399.54 L325.77,399.12 L326.32,398.7 L326.87,398.28 L327.42,397.87 L327.97,397.45 L328.52,397.04 L329.07,396.63 L329.62,396.22 L330.18,395.81 L330.74,395.4 L331.29,395 L331.85,394.59 L332.42,394.19 L332.98,393.79 L333.54,393.39 L334.11,392.99 L334.67,392.6 L335.24,392.2 L335.81,391.81 L336.38,391.42 L336.95,391.03 L337.53,390.64 L338.1,390.25 L338.68,389.87 L339.26,389.49 L339.83,389.11 L340.41,388.73 L341,388.35 L341.58,387.97 L342.16,387.6 L342.75,387.23 L343.33,386.86 L343.92,386.49 L344.51,386.13 L345.1,385.76 L345.69,385.4 L346.28,385.04 L346.88,384.69 L347.47,384.33 L348.07,383.98 L348.67,383.63 L349.27,383.28 L349.87,382.93 L350.47,382.59 L351.07,382.25 L351.67,381.91 L352.28,381.57 L352.88,381.24 L353.49,380.91 L354.1,380.58 L354.71,380.25 L355.32,379.92 L355.93,379.6 L356.54,379.28 L357.16,378.96 L357.77,378.65 L358.39,378.34 L359,378.03 L359.62,377.72 L360.24,377.42 L360.86,377.11 L361.48,376.81 L362.1,376.52 L362.72,376.22 L363.35,375.93 L363.97,375.64 L364.6,375.35 L365.23,375.06 L365.85,374.77 L366.48,374.49 L367.11,374.21 L367.74,373.93 L368.37,373.65 L369.01,373.38 L369.64,373.1 L370.27,372.83 L370.91,372.56 L371.54,372.29 L372.18,372.03 L372.82,371.76 L373.45,371.5 L374.09,371.23 L374.73,370.97 L375.37,370.71 L376.01,370.46 L376.65,370.2 L377.3,369.94 L377.94,369.69 L378.58,369.43 L379.23,369.18 L379.87,368.93 L380.52,368.68 L381.16,368.43 L381.81,368.18 L382.46,367.94 L383.1,367.69 L383.75,367.44 L384.4,367.2" fill="none" stroke="#333333" stroke-width="0.9" stroke-linejoin="round" />
<path d="M384.4,367.14 L385.09,366.42 L385.79,365.71 L386.48,365.01 L387.17,364.33 L387.87,363.65 L388.56,362.99 L389.26,362.34 L389.95,361.7 L390.64,361.07 L391.34,360.45 L392.03,359.84 L392.72,359.25 L393.42,358.66 L394.11,358.09 L394.8,357.52 L395.5,356.97 L396.19,356.43 L396.89,355.9 L397.58,355.38 L398.27,354.87 L398.97,354.37 L399.66,353.88 L400.35,353.41 L401.05,352.94 L401.74,352.48 L402.43,352.04 L403.13,351.6 L403.82,351.17 L404.51,350.76 L405.21,350.35 L405.9,349.95 L406.6,349.57 L407.29,349.19 L407.98,348.82 L408.68,348.47 L409.37,348.12 L410.06,347.78 L410.76,347.45 L411.45,347.13 L412.14,346.82 L412.84,346.52 L413.53,346.23 L414.23,345.95 L414.92,345.68 L415.61,345.42 L416.31,345.16 L417,344.92" fill="none" stroke="#333333" stroke-width="0.9" stroke-linejoin="round" />
<path d="M219.2,506.5 L219.56,505.69 L219.91,504.88 L220.27,504.06 L220.62,503.25 L220.97,502.43 L221.32,501.61 L221.67,500.79 L222.02,499.97 L222.36,499.15 L222.71,498.33 L223.05,497.51 L223.39,496.69 L223.74,495.86 L224.08,495.04 L224.42,494.21 L224.76,493.39 L225.11,492.56 L225.45,491.74 L225.79,490.91 L226.14,490.09 L226.48,489.26 L226.83,488.44 L227.18,487.62 L227.53,486.79 L227.88,485.97 L228.23,485.15 L228.58,484.33 L228.94,483.51 L229.3,482.69 L229.66,481.87 L230.02,481.06 L230.38,480.24 L230.75,479.43 L231.12,478.62 L231.5,477.81 L231.87,477 L232.25,476.19 L232.64,475.39 L233.02,474.58 L233.41,473.78 L233.8,472.98 L234.19,472.18 L234.59,471.38 L234.99,470.59 L235.39,469.79 L235.79,469 L236.2,468.21 L236.61,467.42 L237.02,466.63 L237.44,465.84 L237.85,465.05 L238.27,464.27 L238.69,463.48 L239.12,462.7 L239.54,461.92 L239.97,461.14 L240.41,460.36 L240.84,459.58 L241.27,458.81 L241.71,458.03 L242.15,457.26 L242.6,456.48 L243.04,455.71 L243.49,454.94 L243.94,454.17 L244.39,453.4 L244.84,452.64 L245.3,451.87 L245.75,451.1 L246.21,450.34 L246.67,449.58 L247.14,448.81 L247.61,448.05 L248.07,447.3 L248.55,446.54 L249.02,445.78 L249.5,445.03 L249.98,444.28 L250.46,443.53 L250.94,442.78 L251.43,442.03 L251.92,441.29 L252.42,440.55 L252.91,439.81 L253.42,439.07 L253.92,438.34 L254.43,437.6 L254.94,436.87 L255.45,436.15 L255.97,435.42 L256.49,434.7 L257.01,433.98 L257.54,433.26 L258.07,432.55 L258.61,431.84 L259.15,431.13 L259.69,430.43 L260.24,429.73 L260.79,429.03 L261.34,428.33 L261.9,427.64 L262.47,426.95 L263.03,426.27 L263.61,425.59 L264.18,424.91 L264.76,424.23 L265.34,423.56 L265.93,422.89 L266.51,422.22 L267.1,421.55 L267.7,420.89 L268.29,420.23 L268.89,419.57 L269.49,418.91 L270.1,418.25 L270.7,417.6 L271.31,416.94 L271.92,416.29 L272.53,415.64 L273.14,414.99 L273.76,414.34 L274.37,413.69 L274.99,413.05 L275.61,412.4 L276.23,411.76 L276.85,411.11 L277.47,410.47 L278.09,409.82 L278.71,409.18 L279.33,408.54 L279.96,407.89 L280.58,407.25 L281.2,406.6 L281.82,405.96 L282.44,405.31 L283.07,404.67 L283.69,404.02 L284.31,403.38 L284.93,402.74 L285.56,402.09 L286.18,401.45 L286.81,400.81 L287.44,400.17 L288.07,399.54 L288.7,398.9 L289.33,398.27 L289.97,397.64 L290.6,397.01 L291.24,396.39 L291.88,395.77 L292.53,395.15 L293.18,394.54 L293.83,393.93 L294.48,393.32 L295.14,392.72 L295.8,392.12 L296.46,391.53 L297.13,390.94 L297.8,390.36 L298.47,389.78 L299.15,389.21 L299.84,388.64 L300.53,388.08 L301.22,387.53 L301.92,386.98 L302.62,386.44 L303.33,385.9 L304.05,385.38 L304.77,384.85 L305.49,384.34 L306.22,383.83 L306.95,383.33 L307.69,382.84 L308.44,382.35 L309.18,381.86 L309.93,381.39 L310.69,380.91 L311.45,380.45 L312.21,379.99 L312.98,379.53 L313.75,379.08 L314.52,378.63 L315.3,378.19 L316.08,377.76 L316.86,377.32 L317.65,376.9 L318.43,376.47 L319.22,376.05 L320.02,375.64 L320.81,375.23 L321.61,374.82 L322.41,374.42 L323.21,374.02 L324.01,373.62 L324.82,373.23 L325.62,372.84 L326.43,372.45 L327.24,372.07 L328.05,371.68 L328.86,371.31 L329.67,370.93 L330.48,370.56 L331.29,370.18 L332.11,369.82 L332.92,369.45 L333.74,369.09 L334.56,368.72 L335.37,368.37 L336.19,368.01 L337.01,367.66 L337.83,367.31 L338.65,366.96 L339.47,366.61 L340.3,366.27 L341.12,365.93 L341.95,365.59 L342.77,365.26 L343.6,364.93 L344.43,364.6 L345.26,364.27 L346.08,363.95 L346.92,363.63 L347.75,363.31 L348.58,362.99 L349.41,362.68 L350.25,362.37 L351.08,362.06 L351.92,361.76 L352.76,361.46 L353.59,361.16 L354.43,360.86 L355.27,360.57 L356.11,360.28 L356.96,359.99 L357.8,359.71 L358.64,359.42 L359.49,359.14 L360.33,358.87 L361.18,358.59 L362.03,358.32 L362.88,358.05 L363.72,357.79 L364.57,357.52 L365.43,357.26 L366.28,357 L367.13,356.75 L367.98,356.49 L368.84,356.24 L369.69,355.99 L370.55,355.75 L371.4,355.5 L372.26,355.26 L373.12,355.02 L373.98,354.78 L374.83,354.55 L375.69,354.31 L376.55,354.08 L377.41,353.85 L378.28,353.63 L379.14,353.4 L380,353.18 L380.86,352.96 L381.73,352.74 L382.59,352.52 L383.45,352.31 L384.32,352.1 L385.18,351.89 L386.05,351.68 L386.92,351.47 L387.78,351.27 L388.65,351.06 L389.52,350.86 L390.39,350.66 L391.26,350.46 L392.12,350.27 L392.99,350.08 L393.86,349.88 L394.73,349.69 L395.6,349.5 L396.48,349.32 L397.35,349.13 L398.22,348.95 L399.09,348.77 L399.96,348.59 L400.84,348.41 L401.71,348.24 L402.58,348.06 L403.46,347.89 L404.33,347.72 L405.21,347.55 L406.08,347.38 L406.96,347.21 L407.84,347.05 L408.71,346.89 L409.59,346.73 L410.47,346.57 L411.34,346.41 L412.22,346.25 L413.1,346.1" fill="none" stroke="#ff3333" stroke-width="0.9" stroke-linejoin="round" />
<path d="M413.1,346.38 L413.78,346.12 L414.46,345.87 L415.13,345.62 L415.81,345.38 L416.49,345.14 L417.17,344.9 L417.84,344.66 L418.52,344.43 L419.2,344.2 L419.88,343.97 L420.55,343.75 L421.23,343.53 L421.91,343.31 L422.59,343.09 L423.26,342.88 L423.94,342.67 L424.62,342.47 L425.3,342.26 L425.97,342.06 L426.65,341.86 L427.33,341.67 L428,341.48 L428.68,341.29 L429.36,341.1 L430.04,340.92 L430.72,340.74 L431.39,340.56 L432.07,340.38 L432.75,340.21 L433.43,340.04 L434.1,339.87 L434.78,339.71 L435.46,339.54 L436.13,339.38 L436.81,339.23 L437.49,339.07 L438.17,338.92 L438.85,338.77 L439.52,338.62 L440.2,338.48 L440.88,338.34 L441.56,338.2 L442.23,338.06 L442.91,337.93 L443.59,337.8 L444.26,337.67 L444.94,337.54 L445.62,337.41 L446.3,337.29 L446.98,337.17 L447.65,337.05 L448.33,336.94 L449.01,336.82 L449.69,336.71 L450.36,336.6 L451.04,336.5 L451.72,336.39 L452.39,336.29 L453.07,336.19 L453.75,336.1 L454.43,336 L455.11,335.91 L455.78,335.82 L456.46,335.73 L457.14,335.64 L457.81,335.56 L458.49,335.47 L459.17,335.39 L459.85,335.31 L460.52,335.24 L461.2,335.16 L461.88,335.09 L462.56,335.02 L463.24,334.95 L463.91,334.89 L464.59,334.82 L465.27,334.76 L465.94,334.7 L466.62,334.64 L467.3,334.58 L467.98,334.53 L468.65,334.48 L469.33,334.43 L470.01,334.38 L470.69,334.33 L471.37,334.28 L472.04,334.24 L472.72,334.2 L473.4,334.16 L474.07,334.12 L474.75,334.08 L475.43,334.04 L476.11,334.01 L476.78,333.98 L477.46,333.95 L478.14,333.92 L478.82,333.89 L479.5,333.87 L480.17,333.84 L480.85,333.82 L481.53,333.8 L482.2,333.78 L482.88,333.76 L483.56,333.75 L484.24,333.73 L484.91,333.72 L485.59,333.71 L486.27,333.7 L486.95,333.69 L487.62,333.68 L488.3,333.67 L488.98,333.67 L489.66,333.66 L490.33,333.66 L491.01,333.66 L491.69,333.66 L492.37,333.66 L493.04,333.67 L493.72,333.67 L494.4,333.68" fill="none" stroke="#ff3333" stroke-width="0.9" stroke-linejoin="round" />
<g>
<path d="M207.6,397 L208.27,395.74 L208.94,394.58 L209.61,393.48 L210.27,392.46 L210.94,391.48 L211.61,390.54 L212.28,389.62 L212.95,388.71 L213.62,387.81 L214.29,386.9 L214.95,385.99 L215.62,385.08 L216.29,384.16 L216.96,383.25 L217.63,382.32 L218.3,381.39 L218.97,380.46 L219.63,379.52 L220.3,378.59 L220.97,377.65 L221.64,376.72 L222.31,375.79 L222.98,374.88 L223.64,373.99 L224.31,373.12 L224.98,372.27 L225.65,371.44 L226.32,370.65 L226.99,369.89 L227.66,369.16 L228.32,368.45 L228.99,367.76 L229.66,367.1 L230.33,366.45 L231,365.81 L231.67,365.19 L232.34,364.57 L233,363.96 L233.67,363.35 L234.34,362.74 L235.01,362.13 L235.68,361.51 L236.35,360.9 L237.02,360.3 L237.68,359.7 L238.35,359.1 L239.02,358.51 L239.69,357.93 L240.36,357.36 L241.03,356.81 L241.7,356.26 L242.36,355.73 L243.03,355.22 L243.7,354.73 L244.37,354.25 L245.04,353.8 L245.71,353.36 L246.37,352.95 L247.04,352.54 L247.71,352.16 L248.38,351.79 L249.05,351.44 L249.72,351.09 L250.39,350.77 L251.05,350.45 L251.72,350.14 L252.39,349.85 L253.06,349.56 L253.73,349.28 L254.4,349.01 L255.07,348.74 L255.73,348.48 L256.4,348.23 L257.07,347.98 L257.74,347.73 L258.41,347.49 L259.08,347.24 L259.75,347 L260.41,346.76 L261.08,346.52 L261.75,346.28 L262.42,346.05 L263.09,345.81 L263.76,345.58 L264.43,345.36 L265.09,345.13 L265.76,344.9 L266.43,344.68 L267.1,344.46 L267.77,344.25 L268.44,344.03 L269.1,343.82 L269.77,343.61 L270.44,343.4 L271.11,343.2 L271.78,342.99 L272.45,342.79 L273.12,342.6 L273.78,342.4 L274.45,342.21 L275.12,342.03 L275.79,341.84 L276.46,341.66 L277.13,341.48 L277.8,341.3 L278.46,341.13 L279.13,340.96 L279.8,340.8 L280.47,340.63 L281.14,340.47 L281.81,340.32 L282.48,340.16 L283.14,340.01 L283.81,339.87 L284.48,339.72 L285.15,339.58 L285.82,339.44 L286.49,339.31 L287.16,339.18 L287.82,339.05 L288.49,338.92 L289.16,338.8 L289.83,338.67 L290.5,338.56 L291.17,338.44 L291.83,338.33 L292.5,338.22 L293.17,338.11 L293.84,338 L294.51,337.9 L295.18,337.79 L295.85,337.69 L296.51,337.6 L297.18,337.5 L297.85,337.41 L298.52,337.32 L299.19,337.23 L299.86,337.14 L300.53,337.06 L301.19,336.97 L301.86,336.89 L302.53,336.81 L303.2,336.73 L303.87,336.65 L304.54,336.58 L305.21,336.5 L305.87,336.43 L306.54,336.36 L307.21,336.29 L307.88,336.22 L308.55,336.16 L309.22,336.09 L309.89,336.03 L310.55,335.96 L311.22,335.9 L311.89,335.84 L312.56,335.78 L313.23,335.72 L313.9,335.66 L314.57,335.61 L315.23,335.55 L315.9,335.49 L316.57,335.44 L317.24,335.38 L317.91,335.33 L318.58,335.28 L319.24,335.22 L319.91,335.17 L320.58,335.12 L321.25,335.07 L321.92,335.01 L322.59,334.96 L323.26,334.91 L323.92,334.86 L324.59,334.81 L325.26,334.76 L325.93,334.72 L326.6,334.67 L327.27,334.62 L327.94,334.57 L328.6,334.52 L329.27,334.48 L329.94,334.43 L330.61,334.38 L331.28,334.34 L331.95,334.29 L332.62,334.25 L333.28,334.21 L333.95,334.16 L334.62,334.12 L335.29,334.08 L335.96,334.03 L336.63,333.99 L337.3,333.95 L337.96,333.91 L338.63,333.87 L339.3,333.83 L339.97,333.79 L340.64,333.75 L341.31,333.71 L341.97,333.67 L342.64,333.63 L343.31,333.6 L343.98,333.56 L344.65,333.52 L345.32,333.49 L345.99,333.45 L346.65,333.42 L347.32,333.38 L347.99,333.35 L348.66,333.31 L349.33,333.28 L350,333.25 L350.67,333.22 L351.33,333.18 L352,333.15 L352.67,333.12 L353.34,333.09 L354.01,333.06 L354.68,333.03 L355.35,333.01 L356.01,332.98 L356.68,332.95 L357.35,332.92 L358.02,332.9 L358.69,332.87 L359.36,332.84 L360.03,332.82 L360.69,332.79 L361.36,332.77 L362.03,332.75 L362.7,332.72 L363.37,332.7 L364.04,332.68 L364.7,332.66 L365.37,332.64 L366.04,332.62 L366.71,332.6 L367.38,332.58 L368.05,332.56 L368.72,332.54 L369.38,332.52 L370.05,332.51 L370.72,332.49 L371.39,332.48 L372.06,332.46 L372.73,332.45 L373.4,332.43 L374.06,332.42 L374.73,332.4 L375.4,332.39 L376.07,332.38 L376.74,332.37 L377.41,332.36 L378.08,332.35 L378.74,332.34 L379.41,332.33 L380.08,332.32 L380.75,332.31 L381.42,332.31 L382.09,332.3 L382.76,332.29 L383.42,332.29 L384.09,332.28 L384.76,332.28 L385.43,332.27 L386.1,332.27 L386.77,332.27 L387.43,332.26 L388.1,332.26 L388.77,332.26 L389.44,332.26 L390.11,332.26 L390.78,332.26 L391.45,332.26 L392.11,332.26 L392.78,332.26 L393.45,332.26 L394.12,332.26 L394.79,332.27 L395.46,332.27 L396.13,332.27 L396.79,332.28 L397.46,332.28 L398.13,332.29 L398.8,332.29 L399.47,332.3 L400.14,332.3 L400.81,332.31 L401.47,332.31 L402.14,332.32 L402.81,332.33 L403.48,332.33 L404.15,332.34 L404.82,332.35 L405.49,332.35 L406.15,332.36 L406.82,332.37 L407.49,332.38 L408.16,332.39 L408.83,332.4 L409.5,332.41 L410.17,332.42 L410.83,332.43 L411.5,332.44 L412.17,332.45 L412.84,332.46 L413.51,332.47 L414.18,332.48 L414.84,332.49 L415.51,332.5 L416.18,332.51 L416.85,332.52 L417.52,332.53 L418.19,332.54 L418.86,332.55 L419.52,332.57 L420.19,332.58 L420.86,332.59 L421.53,332.6 L422.2,332.61 L422.87,332.62 L423.54,332.64 L424.2,332.65 L424.87,332.66 L425.54,332.67 L426.21,332.68 L426.88,332.7 L427.55,332.71 L428.22,332.72 L428.88,332.73 L429.55,332.74 L430.22,332.76 L430.89,332.77 L431.56,332.78 L432.23,332.79 L432.9,332.8 L433.56,332.81 L434.23,332.83 L434.9,332.84 L435.57,332.85 L436.24,332.86 L436.91,332.87 L437.57,332.88 L438.24,332.89 L438.91,332.9 L439.58,332.91 L440.25,332.92 L440.92,332.93 L441.59,332.94 L442.25,332.95 L442.92,332.96 L443.59,332.97 L444.26,332.98 L444.93,332.99 L445.6,333 L446.27,333 L446.93,333.01 L447.6,333.02 L448.27,333.03 L448.94,333.03 L449.61,333.04 L450.28,333.05 L450.95,333.05 L451.61,333.06 L452.28,333.07 L452.95,333.07 L453.62,333.08 L454.29,333.08 L454.96,333.09 L455.63,333.09 L456.29,333.09 L456.96,333.1 L457.63,333.1 L458.3,333.1 L458.97,333.1 L459.64,333.1 L460.3,333.11 L460.97,333.11 L461.64,333.11 L462.31,333.11 L462.98,333.11 L463.65,333.1 L464.32,333.1 L464.98,333.1 L465.65,333.1 L466.32,333.1 L466.99,333.09 L467.66,333.09 L468.33,333.08 L469,333.08 L469.66,333.07 L470.33,333.07 L471,333.06 L471.67,333.05 L472.34,333.04 L473.01,333.03 L473.68,333.03 L474.34,333.02 L475.01,333.01 L475.68,332.99 L476.35,332.98 L477.02,332.97 L477.69,332.96 L478.36,332.94 L479.02,332.93 L479.69,332.91 L480.36,332.9 L481.03,332.88 L481.7,332.87 L482.37,332.85 L483.03,332.83 L483.7,332.81 L484.37,332.79 L485.04,332.77 L485.71,332.75 L486.38,332.73 L487.05,332.7 L487.71,332.68 L488.38,332.66 L489.05,332.63 L489.72,332.6 L490.39,332.58 L491.06,332.55 L491.73,332.52 L492.39,332.49 L493.06,332.46 L493.73,332.43 L494.4,332.4" fill="none" stroke="#4a4ae0" stroke-width="1.0" stroke-linejoin="round" />
<path d="M207.6,398.2 L208.27,396.93 L208.94,395.75 L209.61,394.65 L210.27,393.61 L210.94,392.62 L211.61,391.67 L212.28,390.75 L212.95,389.83 L213.62,388.92 L214.29,388 L214.95,387.08 L215.62,386.16 L216.29,385.23 L216.96,384.3 L217.63,383.37 L218.3,382.43 L218.97,381.49 L219.63,380.54 L220.3,379.59 L220.97,378.65 L221.64,377.71 L222.31,376.77 L222.98,375.86 L223.64,374.95 L224.31,374.07 L224.98,373.21 L225.65,372.38 L226.32,371.58 L226.99,370.8 L227.66,370.06 L228.32,369.34 L228.99,368.64 L229.66,367.97 L230.33,367.3 L231,366.66 L231.67,366.02 L232.34,365.39 L233,364.77 L233.67,364.15 L234.34,363.53 L235.01,362.91 L235.68,362.29 L236.35,361.67 L237.02,361.05 L237.68,360.44 L238.35,359.84 L239.02,359.24 L239.69,358.65 L240.36,358.08 L241.03,357.51 L241.7,356.96 L242.36,356.42 L243.03,355.9 L243.7,355.4 L244.37,354.91 L245.04,354.45 L245.71,354 L246.37,353.57 L247.04,353.16 L247.71,352.76 L248.38,352.38 L249.05,352.02 L249.72,351.66 L250.39,351.32 L251.05,350.99 L251.72,350.67 L252.39,350.36 L253.06,350.07 L253.73,349.77 L254.4,349.49 L255.07,349.21 L255.73,348.94 L256.4,348.68 L257.07,348.42 L257.74,348.16 L258.41,347.9 L259.08,347.65 L259.75,347.4 L260.41,347.15 L261.08,346.9 L261.75,346.66 L262.42,346.42 L263.09,346.18 L263.76,345.94 L264.43,345.71 L265.09,345.48 L265.76,345.25 L266.43,345.02 L267.1,344.8 L267.77,344.58 L268.44,344.36 L269.1,344.14 L269.77,343.93 L270.44,343.72 L271.11,343.51 L271.78,343.31 L272.45,343.11 L273.12,342.91 L273.78,342.71 L274.45,342.52 L275.12,342.33 L275.79,342.14 L276.46,341.96 L277.13,341.78 L277.8,341.6 L278.46,341.43 L279.13,341.26 L279.8,341.09 L280.47,340.93 L281.14,340.77 L281.81,340.61 L282.48,340.46 L283.14,340.31 L283.81,340.16 L284.48,340.02 L285.15,339.88 L285.82,339.74 L286.49,339.6 L287.16,339.47 L287.82,339.34 L288.49,339.21 L289.16,339.09 L289.83,338.97 L290.5,338.85 L291.17,338.73 L291.83,338.62 L292.5,338.51 L293.17,338.4 L293.84,338.29 L294.51,338.19 L295.18,338.09 L295.85,337.99 L296.51,337.89 L297.18,337.8 L297.85,337.7 L298.52,337.61 L299.19,337.52 L299.86,337.44 L300.53,337.35 L301.19,337.27 L301.86,337.18 L302.53,337.1 L303.2,337.03 L303.87,336.95 L304.54,336.87 L305.21,336.8 L305.87,336.73 L306.54,336.66 L307.21,336.59 L307.88,336.52 L308.55,336.45 L309.22,336.39 L309.89,336.33 L310.55,336.26 L311.22,336.2 L311.89,336.14 L312.56,336.08 L313.23,336.02 L313.9,335.96 L314.57,335.91 L315.23,335.85 L315.9,335.79 L316.57,335.74 L317.24,335.68 L317.91,335.63 L318.58,335.58 L319.24,335.52 L319.91,335.47 L320.58,335.42 L321.25,335.37 L321.92,335.32 L322.59,335.27 L323.26,335.22 L323.92,335.17 L324.59,335.12 L325.26,335.07 L325.93,335.02 L326.6,334.97 L327.27,334.92 L327.94,334.87 L328.6,334.83 L329.27,334.78 L329.94,334.73 L330.61,334.69 L331.28,334.64 L331.95,334.6 L332.62,334.55 L333.28,334.51 L333.95,334.47 L334.62,334.42 L335.29,334.38 L335.96,334.34 L336.63,334.29 L337.3,334.25 L337.96,334.21 L338.63,334.17 L339.3,334.13 L339.97,334.09 L340.64,334.05 L341.31,334.01 L341.97,333.97 L342.64,333.94 L343.31,333.9 L343.98,333.86 L344.65,333.83 L345.32,333.79 L345.99,333.75 L346.65,333.72 L347.32,333.68 L347.99,333.65 L348.66,333.62 L349.33,333.58 L350,333.55 L350.67,333.52 L351.33,333.49 L352,333.45 L352.67,333.42 L353.34,333.39 L354.01,333.36 L354.68,333.33 L355.35,333.31 L356.01,333.28 L356.68,333.25 L357.35,333.22 L358.02,333.2 L358.69,333.17 L359.36,333.14 L360.03,333.12 L360.69,333.09 L361.36,333.07 L362.03,333.05 L362.7,333.02 L363.37,333 L364.04,332.98 L364.7,332.96 L365.37,332.94 L366.04,332.92 L366.71,332.9 L367.38,332.88 L368.05,332.86 L368.72,332.84 L369.38,332.82 L370.05,332.8 L370.72,332.79 L371.39,332.77 L372.06,332.76 L372.73,332.74 L373.4,332.73 L374.06,332.71 L374.73,332.7 L375.4,332.69 L376.07,332.68 L376.74,332.66 L377.41,332.65 L378.08,332.64 L378.74,332.63 L379.41,332.62 L380.08,332.62 L380.75,332.61 L381.42,332.6 L382.09,332.59 L382.76,332.59 L383.42,332.58 L384.09,332.58 L384.76,332.57 L385.43,332.57 L386.1,332.56 L386.77,332.56 L387.43,332.56 L388.1,332.56 L388.77,332.56 L389.44,332.56 L390.11,332.55 L390.78,332.55 L391.45,332.55 L392.11,332.56 L392.78,332.56 L393.45,332.56 L394.12,332.56 L394.79,332.56 L395.46,332.57 L396.13,332.57 L396.79,332.57 L397.46,332.58 L398.13,332.58 L398.8,332.59 L399.47,332.59 L400.14,332.6 L400.81,332.6 L401.47,332.61 L402.14,332.62 L402.81,332.62 L403.48,332.63 L404.15,332.64 L404.82,332.64 L405.49,332.65 L406.15,332.66 L406.82,332.67 L407.49,332.68 L408.16,332.69 L408.83,332.7 L409.5,332.71 L410.17,332.71 L410.83,332.72 L411.5,332.73 L412.17,332.74 L412.84,332.76 L413.51,332.77 L414.18,332.78 L414.84,332.79 L415.51,332.8 L416.18,332.81 L416.85,332.82 L417.52,332.83 L418.19,332.84 L418.86,332.86 L419.52,332.87 L420.19,332.88 L420.86,332.89 L421.53,332.9 L422.2,332.91 L422.87,332.93 L423.54,332.94 L424.2,332.95 L424.87,332.96 L425.54,332.97 L426.21,332.99 L426.88,333 L427.55,333.01 L428.22,333.02 L428.88,333.04 L429.55,333.05 L430.22,333.06 L430.89,333.07 L431.56,333.08 L432.23,333.1 L432.9,333.11 L433.56,333.12 L434.23,333.13 L434.9,333.14 L435.57,333.15 L436.24,333.16 L436.91,333.18 L437.57,333.19 L438.24,333.2 L438.91,333.21 L439.58,333.22 L440.25,333.23 L440.92,333.24 L441.59,333.25 L442.25,333.26 L442.92,333.27 L443.59,333.28 L444.26,333.29 L444.93,333.29 L445.6,333.3 L446.27,333.31 L446.93,333.32 L447.6,333.33 L448.27,333.34 L448.94,333.34 L449.61,333.35 L450.28,333.36 L450.95,333.36 L451.61,333.37 L452.28,333.37 L452.95,333.38 L453.62,333.38 L454.29,333.39 L454.96,333.39 L455.63,333.4 L456.29,333.4 L456.96,333.4 L457.63,333.41 L458.3,333.41 L458.97,333.41 L459.64,333.41 L460.3,333.41 L460.97,333.42 L461.64,333.42 L462.31,333.42 L462.98,333.41 L463.65,333.41 L464.32,333.41 L464.98,333.41 L465.65,333.41 L466.32,333.4 L466.99,333.4 L467.66,333.4 L468.33,333.39 L469,333.39 L469.66,333.38 L470.33,333.37 L471,333.37 L471.67,333.36 L472.34,333.35 L473.01,333.34 L473.68,333.33 L474.34,333.32 L475.01,333.31 L475.68,333.3 L476.35,333.29 L477.02,333.28 L477.69,333.26 L478.36,333.25 L479.02,333.24 L479.69,333.22 L480.36,333.21 L481.03,333.19 L481.7,333.17 L482.37,333.15 L483.03,333.14 L483.7,333.12 L484.37,333.1 L485.04,333.08 L485.71,333.05 L486.38,333.03 L487.05,333.01 L487.71,332.98 L488.38,332.96 L489.05,332.93 L489.72,332.91 L490.39,332.88 L491.06,332.85 L491.73,332.82 L492.39,332.79 L493.06,332.76 L493.73,332.73 L494.4,332.7" fill="none" stroke="#a8a832" stroke-width="1.0" stroke-linejoin="round" transform="translate(0,0.5)"/>
<path d="M207.6,398.2 L208.27,396.93 L208.94,395.75 L209.61,394.65 L210.27,393.61 L210.94,392.62 L211.61,391.67 L212.28,390.75 L212.95,389.83 L213.62,388.92 L214.29,388 L214.95,387.08 L215.62,386.16 L216.29,385.23 L216.96,384.3 L217.63,383.37 L218.3,382.43 L218.97,381.49 L219.63,380.54 L220.3,379.59 L220.97,378.65 L221.64,377.71 L222.31,376.77 L222.98,375.86 L223.64,374.95 L224.31,374.07 L224.98,373.21 L225.65,372.38 L226.32,371.58 L226.99,370.8 L227.66,370.06 L228.32,369.34 L228.99,368.64 L229.66,367.97 L230.33,367.3 L231,366.66 L231.67,366.02 L232.34,365.39 L233,364.77 L233.67,364.15 L234.34,363.53 L235.01,362.91 L235.68,362.29 L236.35,361.67 L237.02,361.05 L237.68,360.44 L238.35,359.84 L239.02,359.24 L239.69,358.65 L240.36,358.08 L241.03,357.51 L241.7,356.96 L242.36,356.42 L243.03,355.9 L243.7,355.4 L244.37,354.91 L245.04,354.45 L245.71,354 L246.37,353.57 L247.04,353.16 L247.71,352.76 L248.38,352.38 L249.05,352.02 L249.72,351.66 L250.39,351.32 L251.05,350.99 L251.72,350.67 L252.39,350.36 L253.06,350.07 L253.73,349.77 L254.4,349.49 L255.07,349.21 L255.73,348.94 L256.4,348.68 L257.07,348.42 L257.74,348.16 L258.41,347.9 L259.08,347.65 L259.75,347.4 L260.41,347.15 L261.08,346.9 L261.75,346.66 L262.42,346.42 L263.09,346.18 L263.76,345.94 L264.43,345.71 L265.09,345.48 L265.76,345.25 L266.43,345.02 L267.1,344.8 L267.77,344.58 L268.44,344.36 L269.1,344.14 L269.77,343.93 L270.44,343.72 L271.11,343.51 L271.78,343.31 L272.45,343.11 L273.12,342.91 L273.78,342.71 L274.45,342.52 L275.12,342.33 L275.79,342.14 L276.46,341.96 L277.13,341.78 L277.8,341.6 L278.46,341.43 L279.13,341.26 L279.8,341.09 L280.47,340.93 L281.14,340.77 L281.81,340.61 L282.48,340.46 L283.14,340.31 L283.81,340.16 L284.48,340.02 L285.15,339.88 L285.82,339.74 L286.49,339.6 L287.16,339.47 L287.82,339.34 L288.49,339.21 L289.16,339.09 L289.83,338.97 L290.5,338.85 L291.17,338.73 L291.83,338.62 L292.5,338.51 L293.17,338.4 L293.84,338.29 L294.51,338.19 L295.18,338.09 L295.85,337.99 L296.51,337.89 L297.18,337.8 L297.85,337.7 L298.52,337.61 L299.19,337.52 L299.86,337.44 L300.53,337.35 L301.19,337.27 L301.86,337.18 L302.53,337.1 L303.2,337.03 L303.87,336.95 L304.54,336.87 L305.21,336.8 L305.87,336.73 L306.54,336.66 L307.21,336.59 L307.88,336.52 L308.55,336.45 L309.22,336.39 L309.89,336.33 L310.55,336.26 L311.22,336.2 L311.89,336.14 L312.56,336.08 L313.23,336.02 L313.9,335.96 L314.57,335.91 L315.23,335.85 L315.9,335.79 L316.57,335.74 L317.24,335.68 L317.91,335.63 L318.58,335.58 L319.24,335.52 L319.91,335.47 L320.58,335.42 L321.25,335.37 L321.92,335.32 L322.59,335.27 L323.26,335.22 L323.92,335.17 L324.59,335.12 L325.26,335.07 L325.93,335.02 L326.6,334.97 L327.27,334.92 L327.94,334.87 L328.6,334.83 L329.27,334.78 L329.94,334.73 L330.61,334.69 L331.28,334.64 L331.95,334.6 L332.62,334.55 L333.28,334.51 L333.95,334.47 L334.62,334.42 L335.29,334.38 L335.96,334.34 L336.63,334.29 L337.3,334.25 L337.96,334.21 L338.63,334.17 L339.3,334.13 L339.97,334.09 L340.64,334.05 L341.31,334.01 L341.97,333.97 L342.64,333.94 L343.31,333.9 L343.98,333.86 L344.65,333.83 L345.32,333.79 L345.99,333.75 L346.65,333.72 L347.32,333.68 L347.99,333.65 L348.66,333.62 L349.33,333.58 L350,333.55 L350.67,333.52 L351.33,333.49 L352,333.45 L352.67,333.42 L353.34,333.39 L354.01,333.36 L354.68,333.33 L355.35,333.31 L356.01,333.28 L356.68,333.25 L357.35,333.22 L358.02,333.2 L358.69,333.17 L359.36,333.14 L360.03,333.12 L360.69,333.09 L361.36,333.07 L362.03,333.05 L362.7,333.02 L363.37,333 L364.04,332.98 L364.7,332.96 L365.37,332.94 L366.04,332.92 L366.71,332.9 L367.38,332.88 L368.05,332.86 L368.72,332.84 L369.38,332.82 L370.05,332.8 L370.72,332.79 L371.39,332.77 L372.06,332.76 L372.73,332.74 L373.4,332.73 L374.06,332.71 L374.73,332.7 L375.4,332.69 L376.07,332.68 L376.74,332.66 L377.41,332.65 L378.08,332.64 L378.74,332.63 L379.41,332.62 L380.08,332.62 L380.75,332.61 L381.42,332.6 L382.09,332.59 L382.76,332.59 L383.42,332.58 L384.09,332.58 L384.76,332.57 L385.43,332.57 L386.1,332.56 L386.77,332.56 L387.43,332.56 L388.1,332.56 L388.77,332.56 L389.44,332.56 L390.11,332.55 L390.78,332.55 L391.45,332.55 L392.11,332.56 L392.78,332.56 L393.45,332.56 L394.12,332.56 L394.79,332.56 L395.46,332.57 L396.13,332.57 L396.79,332.57 L397.46,332.58 L398.13,332.58 L398.8,332.59 L399.47,332.59 L400.14,332.6 L400.81,332.6 L401.47,332.61 L402.14,332.62 L402.81,332.62 L403.48,332.63 L404.15,332.64 L404.82,332.64 L405.49,332.65 L406.15,332.66 L406.82,332.67 L407.49,332.68 L408.16,332.69 L408.83,332.7 L409.5,332.71 L410.17,332.71 L410.83,332.72 L411.5,332.73 L412.17,332.74 L412.84,332.76 L413.51,332.77 L414.18,332.78 L414.84,332.79 L415.51,332.8 L416.18,332.81 L416.85,332.82 L417.52,332.83 L418.19,332.84 L418.86,332.86 L419.52,332.87 L420.19,332.88 L420.86,332.89 L421.53,332.9 L422.2,332.91 L422.87,332.93 L423.54,332.94 L424.2,332.95 L424.87,332.96 L425.54,332.97 L426.21,332.99 L426.88,333 L427.55,333.01 L428.22,333.02 L428.88,333.04 L429.55,333.05 L430.22,333.06 L430.89,333.07 L431.56,333.08 L432.23,333.1 L432.9,333.11 L433.56,333.12 L434.23,333.13 L434.9,333.14 L435.57,333.15 L436.24,333.16 L436.91,333.18 L437.57,333.19 L438.24,333.2 L438.91,333.21 L439.58,333.22 L440.25,333.23 L440.92,333.24 L441.59,333.25 L442.25,333.26 L442.92,333.27 L443.59,333.28 L444.26,333.29 L444.93,333.29 L445.6,333.3 L446.27,333.31 L446.93,333.32 L447.6,333.33 L448.27,333.34 L448.94,333.34 L449.61,333.35 L450.28,333.36 L450.95,333.36 L451.61,333.37 L452.28,333.37 L452.95,333.38 L453.62,333.38 L454.29,333.39 L454.96,333.39 L455.63,333.4 L456.29,333.4 L456.96,333.4 L457.63,333.41 L458.3,333.41 L458.97,333.41 L459.64,333.41 L460.3,333.41 L460.97,333.42 L461.64,333.42 L462.31,333.42 L462.98,333.41 L463.65,333.41 L464.32,333.41 L464.98,333.41 L465.65,333.41 L466.32,333.4 L466.99,333.4 L467.66,333.4 L468.33,333.39 L469,333.39 L469.66,333.38 L470.33,333.37 L471,333.37 L471.67,333.36 L472.34,333.35 L473.01,333.34 L473.68,333.33 L474.34,333.32 L475.01,333.31 L475.68,333.3 L476.35,333.29 L477.02,333.28 L477.69,333.26 L478.36,333.25 L479.02,333.24 L479.69,333.22 L480.36,333.21 L481.03,333.19 L481.7,333.17 L482.37,333.15 L483.03,333.14 L483.7,333.12 L484.37,333.1 L485.04,333.08 L485.71,333.05 L486.38,333.03 L487.05,333.01 L487.71,332.98 L488.38,332.96 L489.05,332.93 L489.72,332.91 L490.39,332.88 L491.06,332.85 L491.73,332.82 L492.39,332.79 L493.06,332.76 L493.73,332.73 L494.4,332.7" fill="none" stroke="#a8325a" stroke-width="1.0" stroke-linejoin="round" transform="translate(0,0)"/>
</g>
<path d="M207.6,407 L208.27,406.2 L208.94,405.33 L209.61,404.4 L210.27,403.43 L210.94,402.4 L211.61,401.34 L212.28,400.25 L212.95,399.14 L213.62,398.01 L214.29,396.87 L214.95,395.73 L215.62,394.59 L216.29,393.46 L216.96,392.34 L217.63,391.22 L218.3,390.11 L218.97,389.01 L219.63,387.92 L220.3,386.84 L220.97,385.77 L221.64,384.71 L222.31,383.67 L222.98,382.63 L223.64,381.61 L224.31,380.6 L224.98,379.6 L225.65,378.61 L226.32,377.64 L226.99,376.67 L227.66,375.72 L228.32,374.79 L228.99,373.86 L229.66,372.95 L230.33,372.06 L231,371.17 L231.67,370.3 L232.34,369.45 L233,368.61 L233.67,367.78 L234.34,366.97 L235.01,366.18 L235.68,365.41 L236.35,364.65 L237.02,363.91 L237.68,363.18 L238.35,362.48 L239.02,361.8 L239.69,361.13 L240.36,360.49 L241.03,359.86 L241.7,359.26 L242.36,358.67 L243.03,358.1 L243.7,357.55 L244.37,357.01 L245.04,356.49 L245.71,355.98 L246.37,355.49 L247.04,355.01 L247.71,354.55 L248.38,354.09 L249.05,353.65 L249.72,353.21 L250.39,352.79 L251.05,352.37 L251.72,351.96 L252.39,351.56 L253.06,351.17 L253.73,350.78 L254.4,350.39 L255.07,350.02 L255.73,349.65 L256.4,349.29 L257.07,348.93 L257.74,348.58 L258.41,348.24 L259.08,347.91 L259.75,347.58 L260.41,347.25 L261.08,346.93 L261.75,346.62 L262.42,346.32 L263.09,346.02 L263.76,345.73 L264.43,345.44 L265.09,345.16 L265.76,344.89 L266.43,344.62 L267.1,344.36 L267.77,344.1 L268.44,343.85 L269.1,343.61 L269.77,343.37 L270.44,343.14 L271.11,342.91 L271.78,342.69 L272.45,342.48 L273.12,342.27 L273.78,342.06 L274.45,341.86 L275.12,341.67 L275.79,341.48 L276.46,341.3 L277.13,341.12 L277.8,340.95 L278.46,340.78 L279.13,340.61 L279.8,340.45 L280.47,340.3 L281.14,340.14 L281.81,340 L282.48,339.85 L283.14,339.71 L283.81,339.57 L284.48,339.44 L285.15,339.31 L285.82,339.19 L286.49,339.06 L287.16,338.95 L287.82,338.83 L288.49,338.72 L289.16,338.61 L289.83,338.5 L290.5,338.39 L291.17,338.29 L291.83,338.19 L292.5,338.09 L293.17,338 L293.84,337.91 L294.51,337.81 L295.18,337.73 L295.85,337.64 L296.51,337.55 L297.18,337.47 L297.85,337.39 L298.52,337.3 L299.19,337.22 L299.86,337.14 L300.53,337.07 L301.19,336.99 L301.86,336.91 L302.53,336.84 L303.2,336.77 L303.87,336.69 L304.54,336.62 L305.21,336.55 L305.87,336.48 L306.54,336.41 L307.21,336.34 L307.88,336.27 L308.55,336.21 L309.22,336.14 L309.89,336.08 L310.55,336.02 L311.22,335.95 L311.89,335.89 L312.56,335.83 L313.23,335.77 L313.9,335.71 L314.57,335.65 L315.23,335.59 L315.9,335.54 L316.57,335.48 L317.24,335.43 L317.91,335.37 L318.58,335.32 L319.24,335.27 L319.91,335.22 L320.58,335.16 L321.25,335.11 L321.92,335.06 L322.59,335.02 L323.26,334.97 L323.92,334.92 L324.59,334.87 L325.26,334.83 L325.93,334.78 L326.6,334.74 L327.27,334.7 L327.94,334.65 L328.6,334.61 L329.27,334.57 L329.94,334.53 L330.61,334.49 L331.28,334.45 L331.95,334.41 L332.62,334.37 L333.28,334.34 L333.95,334.3 L334.62,334.26 L335.29,334.23 L335.96,334.19 L336.63,334.16 L337.3,334.12 L337.96,334.09 L338.63,334.06 L339.3,334.03 L339.97,334 L340.64,333.96 L341.31,333.93 L341.97,333.91 L342.64,333.88 L343.31,333.85 L343.98,333.82 L344.65,333.79 L345.32,333.76 L345.99,333.74 L346.65,333.71 L347.32,333.69 L347.99,333.66 L348.66,333.64 L349.33,333.61 L350,333.59 L350.67,333.57 L351.33,333.54 L352,333.52 L352.67,333.5 L353.34,333.48 L354.01,333.46 L354.68,333.44 L355.35,333.42 L356.01,333.4 L356.68,333.38 L357.35,333.36 L358.02,333.34 L358.69,333.32 L359.36,333.3 L360.03,333.29 L360.69,333.27 L361.36,333.25 L362.03,333.24 L362.7,333.22 L363.37,333.21 L364.04,333.19 L364.7,333.18 L365.37,333.16 L366.04,333.15 L366.71,333.14 L367.38,333.12 L368.05,333.11 L368.72,333.1 L369.38,333.09 L370.05,333.07 L370.72,333.06 L371.39,333.05 L372.06,333.04 L372.73,333.03 L373.4,333.02 L374.06,333.01 L374.73,333 L375.4,332.99 L376.07,332.98 L376.74,332.97 L377.41,332.97 L378.08,332.96 L378.74,332.95 L379.41,332.94 L380.08,332.94 L380.75,332.93 L381.42,332.92 L382.09,332.92 L382.76,332.91 L383.42,332.91 L384.09,332.9 L384.76,332.9 L385.43,332.89 L386.1,332.89 L386.77,332.88 L387.43,332.88 L388.1,332.87 L388.77,332.87 L389.44,332.87 L390.11,332.86 L390.78,332.86 L391.45,332.86 L392.11,332.86 L392.78,332.85 L393.45,332.85 L394.12,332.85 L394.79,332.85 L395.46,332.85 L396.13,332.85 L396.79,332.84 L397.46,332.84 L398.13,332.84 L398.8,332.84 L399.47,332.84 L400.14,332.84 L400.81,332.84 L401.47,332.84 L402.14,332.84 L402.81,332.84 L403.48,332.84 L404.15,332.85 L404.82,332.85 L405.49,332.85 L406.15,332.85 L406.82,332.85 L407.49,332.85 L408.16,332.85 L408.83,332.86 L409.5,332.86 L410.17,332.86 L410.83,332.86 L411.5,332.86 L412.17,332.87 L412.84,332.87 L413.51,332.87 L414.18,332.87 L414.84,332.88 L415.51,332.88 L416.18,332.88 L416.85,332.89 L417.52,332.89 L418.19,332.89 L418.86,332.9 L419.52,332.9 L420.19,332.9 L420.86,332.91 L421.53,332.91 L422.2,332.91 L422.87,332.92 L423.54,332.92 L424.2,332.93 L424.87,332.93 L425.54,332.93 L426.21,332.94 L426.88,332.94 L427.55,332.94 L428.22,332.95 L428.88,332.95 L429.55,332.96 L430.22,332.96 L430.89,332.96 L431.56,332.97 L432.23,332.97 L432.9,332.98 L433.56,332.98 L434.23,332.98 L434.9,332.99 L435.57,332.99 L436.24,333 L436.91,333 L437.57,333 L438.24,333.01 L438.91,333.01 L439.58,333.01 L440.25,333.02 L440.92,333.02 L441.59,333.02 L442.25,333.03 L442.92,333.03 L443.59,333.03 L444.26,333.04 L444.93,333.04 L445.6,333.04 L446.27,333.05 L446.93,333.05 L447.6,333.05 L448.27,333.06 L448.94,333.06 L449.61,333.06 L450.28,333.06 L450.95,333.06 L451.61,333.07 L452.28,333.07 L452.95,333.07 L453.62,333.07 L454.29,333.07 L454.96,333.08 L455.63,333.08 L456.29,333.08 L456.96,333.08 L457.63,333.08 L458.3,333.08 L458.97,333.08 L459.64,333.08 L460.3,333.08 L460.97,333.08 L461.64,333.08 L462.31,333.08 L462.98,333.08 L463.65,333.08 L464.32,333.08 L464.98,333.08 L465.65,333.08 L466.32,333.08 L466.99,333.08 L467.66,333.08 L468.33,333.07 L469,333.07 L469.66,333.07 L470.33,333.07 L471,333.06 L471.67,333.06 L472.34,333.06 L473.01,333.05 L473.68,333.05 L474.34,333.05 L475.01,333.04 L475.68,333.04 L476.35,333.03 L477.02,333.03 L477.69,333.02 L478.36,333.02 L479.02,333.01 L479.69,333.01 L480.36,333 L481.03,332.99 L481.7,332.99 L482.37,332.98 L483.03,332.97 L483.7,332.97 L484.37,332.96 L485.04,332.95 L485.71,332.94 L486.38,332.93 L487.05,332.92 L487.71,332.91 L488.38,332.9 L489.05,332.89 L489.72,332.88 L490.39,332.87 L491.06,332.86 L491.73,332.85 L492.39,332.84 L493.06,332.83 L493.73,332.81 L494.4,332.8" fill="none" stroke="#ff3399" stroke-width="0.9" stroke-linejoin="round" />
<path d="M207.6,438.3 L208.27,437.18 L208.95,436.07 L209.62,434.97 L210.29,433.86 L210.97,432.76 L211.64,431.66 L212.31,430.56 L212.99,429.46 L213.66,428.35 L214.33,427.24 L215.01,426.13 L215.68,425.02 L216.35,423.9 L217.03,422.77 L217.7,421.64 L218.37,420.49 L219.05,419.34 L219.72,418.18 L220.39,417.01 L221.07,415.82 L221.74,414.63 L222.41,413.44 L223.09,412.24 L223.76,411.03 L224.43,409.83 L225.11,408.64 L225.78,407.45 L226.45,406.26 L227.13,405.09 L227.8,403.93 L228.47,402.78 L229.15,401.65 L229.82,400.54 L230.49,399.46 L231.17,398.39 L231.84,397.35 L232.51,396.34 L233.19,395.36 L233.86,394.4 L234.53,393.47 L235.21,392.57 L235.88,391.68 L236.55,390.82 L237.23,389.98 L237.9,389.16 L238.57,388.35 L239.25,387.57 L239.92,386.79 L240.59,386.04 L241.27,385.29 L241.94,384.56 L242.61,383.84 L243.29,383.13 L243.96,382.42 L244.63,381.73 L245.31,381.04 L245.98,380.35 L246.65,379.67 L247.33,379 L248,378.33 L248.67,377.67 L249.35,377.02 L250.02,376.37 L250.69,375.73 L251.37,375.09 L252.04,374.46 L252.71,373.84 L253.39,373.23 L254.06,372.63 L254.73,372.03 L255.41,371.44 L256.08,370.86 L256.75,370.29 L257.43,369.73 L258.1,369.17 L258.77,368.63 L259.45,368.09 L260.12,367.57 L260.79,367.05 L261.47,366.55 L262.14,366.05 L262.81,365.57 L263.49,365.1 L264.16,364.63 L264.83,364.18 L265.51,363.73 L266.18,363.3 L266.85,362.87 L267.53,362.46 L268.2,362.05 L268.87,361.65 L269.55,361.26 L270.22,360.87 L270.89,360.5 L271.57,360.13 L272.24,359.77 L272.91,359.42 L273.59,359.07 L274.26,358.74 L274.93,358.4 L275.61,358.08 L276.28,357.76 L276.95,357.45 L277.63,357.14 L278.3,356.84 L278.97,356.54 L279.65,356.25 L280.32,355.96 L280.99,355.68 L281.67,355.41 L282.34,355.14 L283.01,354.87 L283.69,354.6 L284.36,354.34 L285.03,354.09 L285.71,353.83 L286.38,353.58 L287.05,353.34 L287.73,353.09 L288.4,352.85 L289.07,352.61 L289.75,352.38 L290.42,352.15 L291.09,351.92 L291.77,351.69 L292.44,351.46 L293.11,351.24 L293.79,351.02 L294.46,350.8 L295.13,350.58 L295.81,350.37 L296.48,350.15 L297.15,349.94 L297.83,349.73 L298.5,349.52 L299.17,349.31 L299.85,349.11 L300.52,348.9 L301.19,348.7 L301.87,348.5 L302.54,348.29 L303.21,348.09 L303.89,347.89 L304.56,347.69 L305.23,347.49 L305.91,347.29 L306.58,347.09 L307.25,346.89 L307.93,346.69 L308.6,346.49 L309.27,346.29 L309.95,346.09 L310.62,345.88 L311.29,345.68 L311.97,345.48 L312.64,345.28 L313.31,345.07 L313.99,344.87 L314.66,344.66 L315.33,344.46 L316.01,344.25 L316.68,344.04 L317.35,343.83 L318.03,343.61 L318.7,343.4" fill="none" stroke="#3b3bff" stroke-width="0.9" stroke-linejoin="round" />
<path d="M318.7,343.43 L319.37,343.03 L320.04,342.63 L320.71,342.24 L321.38,341.85 L322.05,341.45 L322.72,341.07 L323.39,340.68 L324.06,340.3 L324.74,339.92 L325.41,339.55 L326.08,339.18 L326.75,338.81 L327.42,338.46 L328.09,338.11 L328.76,337.77 L329.43,337.43 L330.1,337.1 L330.77,336.79 L331.44,336.48 L332.11,336.18 L332.78,335.89 L333.45,335.61 L334.12,335.34 L334.79,335.09 L335.47,334.84 L336.14,334.61 L336.81,334.4 L337.48,334.19 L338.15,334 L338.82,333.83 L339.49,333.67 L340.16,333.53 L340.83,333.4 L341.5,333.29 L342.17,333.2 L342.84,333.13 L343.51,333.07 L344.18,333.03 L344.85,333.01 L345.52,333 L346.2,333.01 L346.87,333.04 L347.54,333.08 L348.21,333.14 L348.88,333.2 L349.55,333.28 L350.22,333.38 L350.89,333.48 L351.56,333.6 L352.23,333.73 L352.9,333.88 L353.57,334.04 L354.24,334.22 L354.91,334.42 L355.58,334.64 L356.25,334.86 L356.92,335.1 L357.6,335.34 L358.27,335.58 L358.94,335.82 L359.61,336.06 L360.28,336.28 L360.95,336.49 L361.62,336.67 L362.29,336.84 L362.96,336.99 L363.63,337.12 L364.3,337.23 L364.97,337.32 L365.64,337.38 L366.31,337.42 L366.98,337.44 L367.65,337.43 L368.33,337.41 L369,337.37 L369.67,337.31 L370.34,337.25 L371.01,337.18 L371.68,337.12 L372.35,337.05 L373.02,336.99 L373.69,336.92 L374.36,336.86 L375.03,336.8 L375.7,336.74 L376.37,336.68 L377.04,336.63 L377.71,336.57 L378.38,336.52 L379.05,336.47 L379.73,336.42 L380.4,336.37 L381.07,336.32 L381.74,336.27 L382.41,336.22 L383.08,336.17 L383.75,336.13 L384.42,336.08 L385.09,336.04 L385.76,335.99 L386.43,335.95 L387.1,335.91 L387.77,335.86 L388.44,335.82 L389.11,335.78 L389.78,335.74 L390.46,335.7 L391.13,335.66 L391.8,335.62 L392.47,335.59 L393.14,335.55 L393.81,335.51 L394.48,335.48 L395.15,335.44 L395.82,335.4 L396.49,335.37 L397.16,335.34 L397.83,335.3 L398.5,335.27 L399.17,335.24 L399.84,335.2 L400.51,335.17 L401.19,335.14 L401.86,335.11 L402.53,335.08 L403.2,335.05 L403.87,335.02 L404.54,334.99 L405.21,334.97 L405.88,334.94 L406.55,334.91 L407.22,334.88 L407.89,334.86 L408.56,334.83 L409.23,334.81 L409.9,334.78 L410.57,334.76 L411.24,334.73 L411.91,334.71 L412.59,334.69 L413.26,334.66 L413.93,334.64 L414.6,334.62 L415.27,334.6 L415.94,334.57 L416.61,334.55 L417.28,334.53 L417.95,334.51 L418.62,334.49 L419.29,334.47 L419.96,334.45 L420.63,334.43 L421.3,334.42 L421.97,334.4 L422.64,334.38 L423.32,334.36 L423.99,334.34 L424.66,334.33 L425.33,334.31 L426,334.29 L426.67,334.28 L427.34,334.26 L428.01,334.25 L428.68,334.23 L429.35,334.22 L430.02,334.2 L430.69,334.19 L431.36,334.17 L432.03,334.16 L432.7,334.14 L433.37,334.13 L434.05,334.12 L434.72,334.1 L435.39,334.09 L436.06,334.08 L436.73,334.06 L437.4,334.05 L438.07,334.04 L438.74,334.03 L439.41,334.02 L440.08,334 L440.75,333.99 L441.42,333.98 L442.09,333.97 L442.76,333.96 L443.43,333.95 L444.1,333.94 L444.77,333.92 L445.45,333.91 L446.12,333.9 L446.79,333.89 L447.46,333.88 L448.13,333.87 L448.8,333.86 L449.47,333.85 L450.14,333.84 L450.81,333.83 L451.48,333.82 L452.15,333.81 L452.82,333.8 L453.49,333.79 L454.16,333.78 L454.83,333.77 L455.5,333.77 L456.18,333.76 L456.85,333.75 L457.52,333.74 L458.19,333.73 L458.86,333.72 L459.53,333.71 L460.2,333.7 L460.87,333.69 L461.54,333.68 L462.21,333.67 L462.88,333.66 L463.55,333.65 L464.22,333.64 L464.89,333.63 L465.56,333.62 L466.23,333.61 L466.9,333.6 L467.58,333.59 L468.25,333.58 L468.92,333.57 L469.59,333.56 L470.26,333.55 L470.93,333.54 L471.6,333.53 L472.27,333.52 L472.94,333.51 L473.61,333.5 L474.28,333.49 L474.95,333.48 L475.62,333.47 L476.29,333.46 L476.96,333.44 L477.63,333.43 L478.31,333.42 L478.98,333.41 L479.65,333.4 L480.32,333.39 L480.99,333.37 L481.66,333.36 L482.33,333.35 L483,333.33 L483.67,333.32 L484.34,333.31 L485.01,333.29 L485.68,333.28 L486.35,333.27 L487.02,333.25 L487.69,333.24 L488.36,333.22 L489.04,333.21 L489.71,333.19 L490.38,333.18 L491.05,333.16 L491.72,333.14 L492.39,333.13 L493.06,333.11 L493.73,333.09 L494.4,333.08" fill="none" stroke="#3b3bff" stroke-width="0.9" stroke-linejoin="round" />
<path d="M207.6,425.2 L208.27,424.17 L208.95,423.14 L209.62,422.12 L210.29,421.1 L210.96,420.07 L211.64,419.05 L212.31,418.02 L212.98,417 L213.65,415.96 L214.33,414.93 L215,413.88 L215.67,412.83 L216.34,411.77 L217.02,410.7 L217.69,409.62 L218.36,408.53 L219.04,407.43 L219.71,406.33 L220.38,405.21 L221.05,404.1 L221.73,402.99 L222.4,401.88 L223.07,400.78 L223.74,399.69 L224.42,398.62 L225.09,397.55 L225.76,396.51 L226.43,395.49 L227.11,394.5 L227.78,393.53 L228.45,392.59 L229.13,391.68 L229.8,390.81 L230.47,389.95 L231.14,389.13 L231.82,388.32 L232.49,387.54 L233.16,386.78 L233.83,386.03 L234.51,385.3 L235.18,384.59 L235.85,383.89 L236.53,383.19 L237.2,382.51 L237.87,381.83 L238.54,381.16 L239.22,380.5 L239.89,379.83 L240.56,379.16 L241.23,378.5 L241.91,377.83 L242.58,377.17 L243.25,376.51 L243.92,375.84 L244.6,375.19 L245.27,374.53 L245.94,373.88 L246.62,373.23 L247.29,372.59 L247.96,371.95 L248.63,371.32 L249.31,370.69 L249.98,370.07 L250.65,369.46 L251.32,368.85 L252,368.26 L252.67,367.67 L253.34,367.09 L254.01,366.52 L254.69,365.96 L255.36,365.41 L256.03,364.87 L256.71,364.34 L257.38,363.82 L258.05,363.32 L258.72,362.82 L259.4,362.33 L260.07,361.85 L260.74,361.39 L261.41,360.93 L262.09,360.48 L262.76,360.04 L263.43,359.61 L264.1,359.18 L264.78,358.77 L265.45,358.37 L266.12,357.97 L266.8,357.58 L267.47,357.2 L268.14,356.82 L268.81,356.46 L269.49,356.1 L270.16,355.75 L270.83,355.41 L271.5,355.07 L272.18,354.74 L272.85,354.42 L273.52,354.1 L274.2,353.79 L274.87,353.48 L275.54,353.18 L276.21,352.89 L276.89,352.6 L277.56,352.32 L278.23,352.05 L278.9,351.78 L279.58,351.51 L280.25,351.25 L280.92,350.99 L281.59,350.74 L282.27,350.5 L282.94,350.26 L283.61,350.02 L284.29,349.79 L284.96,349.56 L285.63,349.34 L286.3,349.12 L286.98,348.9 L287.65,348.69 L288.32,348.48 L288.99,348.27 L289.67,348.07 L290.34,347.87 L291.01,347.68 L291.68,347.49 L292.36,347.3 L293.03,347.11 L293.7,346.93 L294.38,346.74 L295.05,346.57 L295.72,346.39 L296.39,346.21 L297.07,346.04 L297.74,345.87 L298.41,345.7 L299.08,345.54 L299.76,345.37 L300.43,345.21 L301.1,345.05 L301.77,344.88 L302.45,344.72 L303.12,344.57 L303.79,344.41 L304.47,344.25 L305.14,344.1 L305.81,343.95 L306.48,343.8 L307.16,343.65 L307.83,343.5 L308.5,343.35 L309.17,343.2 L309.85,343.06 L310.52,342.92 L311.19,342.77 L311.87,342.63 L312.54,342.49 L313.21,342.36 L313.88,342.22 L314.56,342.08 L315.23,341.95 L315.9,341.82 L316.57,341.68 L317.25,341.55 L317.92,341.42 L318.59,341.3 L319.26,341.17 L319.94,341.04 L320.61,340.92 L321.28,340.8 L321.96,340.68 L322.63,340.56 L323.3,340.44 L323.97,340.32 L324.65,340.2 L325.32,340.08 L325.99,339.97 L326.66,339.86 L327.34,339.74 L328.01,339.63 L328.68,339.52 L329.35,339.41 L330.03,339.31 L330.7,339.2" fill="none" stroke="#33a89c" stroke-width="0.9" stroke-linejoin="round" />
<path d="M330.7,338.91 L331.38,338.25 L332.06,337.61 L332.75,336.97 L333.43,336.35 L334.11,335.74 L334.79,335.15 L335.47,334.57 L336.16,334 L336.84,333.44 L337.52,332.9 L338.2,332.37 L338.89,331.85 L339.57,331.35 L340.25,330.86 L340.93,330.38 L341.61,329.92 L342.3,329.47 L342.98,329.03 L343.66,328.61 L344.34,328.2 L345.02,327.81 L345.71,327.43 L346.39,327.06 L347.07,326.7 L347.75,326.36 L348.44,326.04 L349.12,325.73 L349.8,325.43 L350.48,325.14 L351.16,324.87 L351.85,324.62 L352.53,324.38 L353.21,324.15 L353.89,323.94 L354.57,323.74 L355.26,323.56 L355.94,323.39 L356.62,323.24 L357.3,323.1 L357.99,322.97 L358.67,322.86 L359.35,322.77 L360.03,322.69 L360.71,322.62 L361.4,322.57 L362.08,322.54 L362.76,322.52 L363.44,322.51 L364.12,322.52 L364.81,322.55 L365.49,322.59 L366.17,322.65 L366.85,322.72 L367.54,322.81 L368.22,322.91 L368.9,323.03 L369.58,323.17 L370.26,323.32 L370.95,323.49 L371.63,323.67 L372.31,323.87 L372.99,324.08 L373.68,324.31 L374.36,324.56 L375.04,324.82 L375.72,325.1 L376.4,325.4 L377.09,325.71 L377.77,326.03 L378.45,326.38 L379.13,326.74 L379.81,327.12 L380.5,327.51 L381.18,327.92 L381.86,328.35 L382.54,328.79 L383.23,329.26 L383.91,329.73 L384.59,330.23 L385.27,330.74 L385.95,331.27 L386.64,331.82 L387.32,332.38 L388,332.96" fill="none" stroke="#33a89c" stroke-width="0.9" stroke-linejoin="round" />
<path d="M207.6,418 L208.27,416.81 L208.95,415.71 L209.62,414.67 L210.29,413.7 L210.97,412.77 L211.64,411.88 L212.31,411.02 L212.99,410.16 L213.66,409.31 L214.33,408.44 L215.01,407.55 L215.68,406.63 L216.35,405.66 L217.03,404.64 L217.7,403.58 L218.37,402.48 L219.05,401.36 L219.72,400.21 L220.39,399.05 L221.07,397.88 L221.74,396.7 L222.41,395.54 L223.09,394.38 L223.76,393.25 L224.43,392.14 L225.11,391.06 L225.78,390.02 L226.45,389.01 L227.13,388.04 L227.8,387.1 L228.47,386.19 L229.15,385.31 L229.82,384.46 L230.49,383.63 L231.17,382.83 L231.84,382.05 L232.51,381.28 L233.19,380.54 L233.86,379.81 L234.53,379.09 L235.21,378.38 L235.88,377.69 L236.55,377.01 L237.23,376.33 L237.9,375.66 L238.57,375 L239.25,374.34 L239.92,373.7 L240.59,373.06 L241.27,372.43 L241.94,371.81 L242.61,371.2 L243.29,370.59 L243.96,369.99 L244.63,369.4 L245.31,368.82 L245.98,368.24 L246.65,367.67 L247.33,367.11 L248,366.55 L248.67,366.01 L249.35,365.47 L250.02,364.93 L250.69,364.41 L251.37,363.89 L252.04,363.38 L252.71,362.87 L253.39,362.37 L254.06,361.88 L254.73,361.4 L255.41,360.92 L256.08,360.45 L256.75,359.99 L257.43,359.53 L258.1,359.08 L258.77,358.64 L259.45,358.2 L260.12,357.77 L260.79,357.35 L261.47,356.94 L262.14,356.53 L262.81,356.13 L263.49,355.73 L264.16,355.34 L264.83,354.96 L265.51,354.59 L266.18,354.22 L266.85,353.86 L267.53,353.51 L268.2,353.16 L268.87,352.82 L269.55,352.48 L270.22,352.16 L270.89,351.84 L271.57,351.52 L272.24,351.22 L272.91,350.91 L273.59,350.62 L274.26,350.33 L274.93,350.05 L275.61,349.77 L276.28,349.5 L276.95,349.23 L277.63,348.97 L278.3,348.72 L278.97,348.47 L279.65,348.23 L280.32,347.99 L280.99,347.76 L281.67,347.53 L282.34,347.3 L283.01,347.08 L283.69,346.87 L284.36,346.66 L285.03,346.46 L285.71,346.25 L286.38,346.06 L287.05,345.86 L287.73,345.68 L288.4,345.49 L289.07,345.31 L289.75,345.13 L290.42,344.96 L291.09,344.79 L291.77,344.62 L292.44,344.46 L293.11,344.3 L293.79,344.14 L294.46,343.99 L295.13,343.84 L295.81,343.69 L296.48,343.54 L297.15,343.4 L297.83,343.26 L298.5,343.12 L299.17,342.98 L299.85,342.84 L300.52,342.71 L301.19,342.58 L301.87,342.45 L302.54,342.33 L303.21,342.2 L303.89,342.08 L304.56,341.96 L305.23,341.84 L305.91,341.72 L306.58,341.6 L307.25,341.49 L307.93,341.37 L308.6,341.26 L309.27,341.15 L309.95,341.04 L310.62,340.94 L311.29,340.83 L311.97,340.73 L312.64,340.63 L313.31,340.53 L313.99,340.43 L314.66,340.33 L315.33,340.23 L316.01,340.13 L316.68,340.04 L317.35,339.95 L318.03,339.85 L318.7,339.76 L319.37,339.67 L320.05,339.58 L320.72,339.5 L321.39,339.41 L322.07,339.32 L322.74,339.24 L323.41,339.15 L324.09,339.07 L324.76,338.99 L325.43,338.91 L326.11,338.83 L326.78,338.75 L327.45,338.67 L328.13,338.59 L328.8,338.51 L329.47,338.43 L330.15,338.36 L330.82,338.28 L331.49,338.2 L332.17,338.13 L332.84,338.05 L333.51,337.98 L334.19,337.91 L334.86,337.83 L335.53,337.76 L336.21,337.69 L336.88,337.61 L337.55,337.54 L338.23,337.47 L338.9,337.4" fill="none" stroke="#ff33ff" stroke-width="0.9" stroke-linejoin="round" />
<path d="M338.9,338 L339.58,337.33 L340.25,336.67 L340.93,336 L341.6,335.34 L342.28,334.67 L342.95,334 L343.63,333.34 L344.3,332.68 L344.98,332.03 L345.65,331.39 L346.33,330.76 L347,330.13 L347.68,329.52 L348.35,328.92 L349.03,328.33 L349.7,327.76 L350.38,327.21 L351.06,326.67 L351.73,326.15 L352.41,325.65 L353.08,325.16 L353.76,324.69 L354.43,324.24 L355.11,323.81 L355.78,323.39 L356.46,322.99 L357.13,322.61 L357.81,322.24 L358.48,321.89 L359.16,321.55 L359.83,321.23 L360.51,320.93 L361.18,320.64 L361.86,320.37 L362.53,320.11 L363.21,319.87 L363.89,319.64 L364.56,319.43 L365.24,319.24 L365.91,319.06 L366.59,318.89 L367.26,318.74 L367.94,318.6 L368.61,318.48 L369.29,318.37 L369.96,318.27 L370.64,318.19 L371.31,318.12 L371.99,318.07 L372.66,318.03 L373.34,318.01 L374.01,318 L374.69,318.01 L375.37,318.03 L376.04,318.07 L376.72,318.13 L377.39,318.21 L378.07,318.31 L378.74,318.42 L379.42,318.56 L380.09,318.71 L380.77,318.89 L381.44,319.08 L382.12,319.3 L382.79,319.53 L383.47,319.79 L384.14,320.08 L384.82,320.38 L385.49,320.71 L386.17,321.06 L386.84,321.44 L387.52,321.84 L388.2,322.27 L388.87,322.72 L389.55,323.2 L390.22,323.71 L390.9,324.24 L391.57,324.8 L392.25,325.39 L392.92,326.01 L393.6,326.66 L394.27,327.33 L394.95,328.04 L395.62,328.77 L396.3,329.54 L396.97,330.34 L397.65,331.17 L398.32,332.03 L399,332.93" fill="none" stroke="#ff33ff" stroke-width="0.9" stroke-linejoin="round" />
<path d="M399,332.8 L494.4,332.8" stroke="#ff33ff" stroke-width="1" fill="none"/>
<path d="M393.6,333.05 L394.29,331.87 L394.98,330.73 L395.67,329.61 L396.35,328.53 L397.04,327.48 L397.73,326.46 L398.42,325.47 L399.11,324.52 L399.8,323.6 L400.49,322.71 L401.18,321.86 L401.86,321.04 L402.55,320.26 L403.24,319.51 L403.93,318.81 L404.62,318.14 L405.31,317.5 L406,316.91 L406.68,316.35 L407.37,315.84 L408.06,315.36 L408.75,314.93 L409.44,314.53 L410.13,314.18 L410.82,313.87 L411.51,313.6 L412.19,313.38 L412.88,313.2 L413.57,313.06 L414.26,312.97 L414.95,312.93 L415.64,312.93 L416.33,312.99 L417.02,313.11 L417.7,313.29 L418.39,313.54 L419.08,313.85 L419.77,314.24 L420.46,314.71 L421.15,315.26 L421.84,315.89 L422.52,316.61 L423.21,317.42 L423.9,318.33 L424.59,319.34 L425.28,320.45 L425.97,321.68 L426.66,323.05 L427.35,324.57 L428.03,326.26 L428.72,328.14 L429.41,330.22 L430.1,332.52" fill="none" stroke="#a8a832" stroke-width="0.9" stroke-linejoin="round" />
<path d="M409.2,332.73 L409.9,330.9 L410.6,329.18 L411.29,327.55 L411.99,326.04 L412.69,324.62 L413.39,323.29 L414.08,322.07 L414.78,320.94 L415.48,319.9 L416.18,318.96 L416.87,318.1 L417.57,317.33 L418.27,316.65 L418.97,316.05 L419.66,315.53 L420.36,315.09 L421.06,314.73 L421.76,314.45 L422.45,314.24 L423.15,314.11 L423.85,314.04 L424.55,314.05 L425.25,314.12 L425.94,314.26 L426.64,314.47 L427.34,314.73 L428.04,315.06 L428.73,315.45 L429.43,315.89 L430.13,316.39 L430.83,316.96 L431.52,317.62 L432.22,318.37 L432.92,319.25 L433.62,320.26 L434.31,321.41 L435.01,322.74 L435.71,324.24 L436.41,325.94 L437.1,327.86 L437.8,330.01 L438.5,332.45" fill="none" stroke="#4a4ae0" stroke-width="0.9" stroke-linejoin="round" />
<path d="M430.7,332.67 L431.4,330.77 L432.09,329.03 L432.79,327.44 L433.49,326 L434.18,324.7 L434.88,323.54 L435.58,322.5 L436.27,321.59 L436.97,320.8 L437.67,320.12 L438.36,319.54 L439.06,319.07 L439.76,318.69 L440.45,318.4 L441.15,318.19 L441.85,318.06 L442.55,318.02 L443.24,318.06 L443.94,318.21 L444.64,318.48 L445.33,318.88 L446.03,319.41 L446.73,320.1 L447.42,320.95 L448.12,321.97 L448.82,323.19 L449.51,324.6 L450.21,326.22 L450.91,328.06 L451.6,330.14 L452.3,332.47" fill="none" stroke="#a8325a" stroke-width="0.9" stroke-linejoin="round" />
<path d="M443.3,332.66 L444.01,331.08 L444.72,329.63 L445.43,328.32 L446.14,327.14 L446.86,326.08 L447.57,325.15 L448.28,324.34 L448.99,323.65 L449.7,323.06 L450.41,322.58 L451.12,322.2 L451.83,321.92 L452.54,321.73 L453.26,321.63 L453.97,321.61 L454.68,321.68 L455.39,321.84 L456.1,322.11 L456.81,322.5 L457.52,323.05 L458.23,323.75 L458.94,324.63 L459.66,325.71 L460.37,327.01 L461.08,328.53 L461.79,330.3 L462.5,332.33" fill="none" stroke="#ff3399" stroke-width="0.9" stroke-linejoin="round" />
</g>
<text x="314.3" y="323.8" font-size="17.5" fill="#666">|</text>
<text x="317.5" y="323.6" font-size="12.4" font-style="italic">R<tspan baseline-shift="-1.6" font-size="8.6">y</tspan></text>
<text x="329.7" y="323.8" font-size="17.5" fill="#666">|</text>
<text x="334.6" y="324.8" font-size="13.2">=</text>
<text x="343.9" y="323.9" font-size="12.6">4</text>
<text transform="translate(366.8,315.6) scale(0.952,1)" font-size="12.6" text-anchor="start" >4.5</text>
<text transform="translate(411.2,310.6) scale(0.952,1)" font-size="12.6" text-anchor="start" >8</text>
<text transform="translate(423.9,312.2) scale(0.952,1)" font-size="12.6" text-anchor="start" >10</text>
<text transform="translate(439.1,316.7) scale(0.952,1)" font-size="12.6" text-anchor="start" >15</text>
<text transform="translate(451.9,320.4) scale(0.952,1)" font-size="12.6" text-anchor="start" >20</text>
<text transform="translate(256.3,381.4) scale(0.952,1)" font-size="12.6" text-anchor="start" >3.352</text>
<text transform="translate(282,416.7) scale(0.952,1)" font-size="12.6" text-anchor="start" >1</text>
<text transform="translate(295.5,434.9) scale(0.952,1)" font-size="12.6" text-anchor="start" >0</text>
</svg>
</body></html>
